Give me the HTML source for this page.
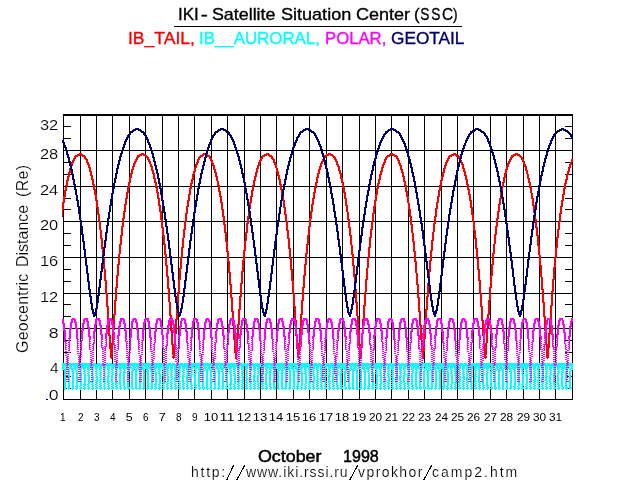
<!DOCTYPE html>
<html><head><meta charset="utf-8"><style>
html,body{margin:0;padding:0;background:#fff;width:636px;height:500px;overflow:hidden}
body{position:relative;font-family:"Liberation Sans",sans-serif}
</style></head><body>
<svg width="636" height="500" viewBox="0 0 636 500" style="position:absolute;left:0;top:0">
<path d="M80 114h1v286h-1zM96 114h1v286h-1zM112 114h1v286h-1zM129 114h1v286h-1zM145 114h1v286h-1zM162 114h1v286h-1zM178 114h1v286h-1zM194 114h1v286h-1zM211 114h1v286h-1zM227 114h1v286h-1zM244 114h1v286h-1zM260 114h1v286h-1zM276 114h1v286h-1zM293 114h1v286h-1zM309 114h1v286h-1zM326 114h1v286h-1zM342 114h1v286h-1zM359 114h1v286h-1zM375 114h1v286h-1zM391 114h1v286h-1zM408 114h1v286h-1zM424 114h1v286h-1zM441 114h1v286h-1zM457 114h1v286h-1zM473 114h1v286h-1zM490 114h1v286h-1zM506 114h1v286h-1zM523 114h1v286h-1zM539 114h1v286h-1zM555 114h1v286h-1zM63 150h510v1h-510zM63 186h510v1h-510zM63 221h510v1h-510zM63 257h510v1h-510zM63 293h510v1h-510zM63 328h510v1h-510zM63 364h510v1h-510zM63 126h8v1h-8zM565 126h8v1h-8zM63 138h8v1h-8zM565 138h8v1h-8zM63 162h8v1h-8zM565 162h8v1h-8zM63 174h8v1h-8zM565 174h8v1h-8zM63 198h8v1h-8zM565 198h8v1h-8zM63 209h8v1h-8zM565 209h8v1h-8zM63 233h8v1h-8zM565 233h8v1h-8zM63 245h8v1h-8zM565 245h8v1h-8zM63 269h8v1h-8zM565 269h8v1h-8zM63 281h8v1h-8zM565 281h8v1h-8zM63 304h8v1h-8zM565 304h8v1h-8zM63 316h8v1h-8zM565 316h8v1h-8zM63 340h8v1h-8zM565 340h8v1h-8zM63 352h8v1h-8zM565 352h8v1h-8zM63 376h8v1h-8zM565 376h8v1h-8zM63 388h8v1h-8zM565 388h8v1h-8zM63 114h510v2h-510zM63 399h510v1h-510zM63 114h1v286h-1zM572 114h1v286h-1zM174 26h288v1h-288z" fill="#000" shape-rendering="crispEdges"/>
<path d="M79 153h3v1h-3zM141 153h3v1h-3zM203 153h2v1h-2zM266 153h3v1h-3zM328 153h3v1h-3zM390 153h3v1h-3zM453 153h3v1h-3zM515 153h3v1h-3zM77 154h6v1h-6zM139 154h7v1h-7zM202 154h3v1h-3zM207 154h1v1h-1zM264 154h6v1h-6zM326 154h7v1h-7zM389 154h6v1h-6zM451 154h6v1h-6zM513 154h7v1h-7zM75 155h5v1h-5zM81 155h4v1h-4zM137 155h5v1h-5zM143 155h4v1h-4zM200 155h4v1h-4zM207 155h3v1h-3zM262 155h5v1h-5zM268 155h4v1h-4zM324 155h5v1h-5zM330 155h4v1h-4zM387 155h4v1h-4zM392 155h5v1h-5zM449 155h5v1h-5zM455 155h4v1h-4zM511 155h5v1h-5zM517 155h4v1h-4zM74 156h4v1h-4zM82 156h4v1h-4zM137 156h3v1h-3zM145 156h3v1h-3zM199 156h4v1h-4zM207 156h4v1h-4zM261 156h4v1h-4zM269 156h4v1h-4zM325 156h2v1h-2zM332 156h3v1h-3zM386 156h4v1h-4zM394 156h4v1h-4zM448 156h4v1h-4zM456 156h4v1h-4zM511 156h3v1h-3zM519 156h3v1h-3zM74 157h2v1h-2zM84 157h2v1h-2zM136 157h3v1h-3zM146 157h3v1h-3zM198 157h3v1h-3zM209 157h2v1h-2zM261 157h2v1h-2zM271 157h2v1h-2zM325 157h1v1h-1zM333 157h3v1h-3zM385 157h3v1h-3zM396 157h2v1h-2zM448 157h2v1h-2zM458 157h2v1h-2zM510 157h3v1h-3zM520 157h3v1h-3zM73 158h3v1h-3zM84 158h3v1h-3zM136 158h2v1h-2zM147 158h2v1h-2zM198 158h2v1h-2zM209 158h3v1h-3zM260 158h3v1h-3zM271 158h3v1h-3zM334 158h2v1h-2zM385 158h2v1h-2zM396 158h3v1h-3zM447 158h3v1h-3zM458 158h1v1h-1zM510 158h2v1h-2zM521 158h2v1h-2zM73 159h2v1h-2zM85 159h3v1h-3zM135 159h3v1h-3zM147 159h3v1h-3zM197 159h3v1h-3zM210 159h2v1h-2zM260 159h2v1h-2zM272 159h3v1h-3zM322 159h1v1h-1zM334 159h3v1h-3zM384 159h3v1h-3zM397 159h2v1h-2zM447 159h2v1h-2zM509 159h3v1h-3zM521 159h3v1h-3zM571 159h2v1h-2zM72 160h3v1h-3zM86 160h2v1h-2zM135 160h2v1h-2zM148 160h2v1h-2zM197 160h2v1h-2zM210 160h3v1h-3zM259 160h3v1h-3zM273 160h2v1h-2zM322 160h1v1h-1zM335 160h2v1h-2zM384 160h2v1h-2zM397 160h3v1h-3zM446 160h3v1h-3zM461 160h1v1h-1zM509 160h2v1h-2zM522 160h2v1h-2zM571 160h2v1h-2zM72 161h2v1h-2zM86 161h2v1h-2zM134 161h3v1h-3zM148 161h3v1h-3zM197 161h2v1h-2zM211 161h2v1h-2zM259 161h2v1h-2zM273 161h2v1h-2zM321 161h3v1h-3zM335 161h3v1h-3zM384 161h2v1h-2zM398 161h2v1h-2zM446 161h2v1h-2zM461 161h1v1h-1zM508 161h3v1h-3zM522 161h3v1h-3zM571 161h2v1h-2zM71 162h3v1h-3zM86 162h3v1h-3zM134 162h2v1h-2zM149 162h2v1h-2zM196 162h3v1h-3zM211 162h2v1h-2zM258 162h3v1h-3zM273 162h3v1h-3zM321 162h2v1h-2zM336 162h2v1h-2zM383 162h3v1h-3zM398 162h2v1h-2zM445 162h3v1h-3zM461 162h2v1h-2zM508 162h2v1h-2zM523 162h2v1h-2zM570 162h2v1h-2zM71 163h2v1h-2zM87 163h2v1h-2zM133 163h3v1h-3zM149 163h2v1h-2zM196 163h2v1h-2zM211 163h3v1h-3zM258 163h2v1h-2zM274 163h2v1h-2zM320 163h3v1h-3zM336 163h2v1h-2zM383 163h2v1h-2zM398 163h3v1h-3zM445 163h2v1h-2zM461 163h2v1h-2zM507 163h3v1h-3zM523 163h2v1h-2zM570 163h2v1h-2zM71 164h2v1h-2zM87 164h3v1h-3zM133 164h2v1h-2zM150 164h2v1h-2zM195 164h3v1h-3zM212 164h2v1h-2zM258 164h2v1h-2zM274 164h3v1h-3zM320 164h2v1h-2zM336 164h3v1h-3zM382 164h3v1h-3zM399 164h2v1h-2zM445 164h2v1h-2zM461 164h3v1h-3zM507 164h2v1h-2zM523 164h3v1h-3zM569 164h3v1h-3zM72 165h1v1h-1zM88 165h2v1h-2zM133 165h2v1h-2zM150 165h2v1h-2zM195 165h2v1h-2zM212 165h3v1h-3zM257 165h3v1h-3zM275 165h2v1h-2zM320 165h2v1h-2zM337 165h2v1h-2zM382 165h2v1h-2zM399 165h3v1h-3zM444 165h3v1h-3zM462 165h2v1h-2zM507 165h2v1h-2zM524 165h2v1h-2zM569 165h2v1h-2zM88 166h2v1h-2zM132 166h3v1h-3zM150 166h3v1h-3zM195 166h2v1h-2zM213 166h2v1h-2zM257 166h2v1h-2zM275 166h2v1h-2zM319 166h3v1h-3zM337 166h3v1h-3zM382 166h2v1h-2zM400 166h2v1h-2zM444 166h2v1h-2zM462 166h2v1h-2zM506 166h3v1h-3zM524 166h3v1h-3zM569 166h2v1h-2zM88 167h3v1h-3zM132 167h2v1h-2zM151 167h2v1h-2zM194 167h3v1h-3zM213 167h2v1h-2zM257 167h2v1h-2zM275 167h2v1h-2zM319 167h2v1h-2zM338 167h2v1h-2zM381 167h3v1h-3zM400 167h2v1h-2zM444 167h2v1h-2zM462 167h2v1h-2zM506 167h2v1h-2zM525 167h2v1h-2zM568 167h3v1h-3zM69 168h1v1h-1zM89 168h2v1h-2zM132 168h2v1h-2zM151 168h2v1h-2zM194 168h2v1h-2zM213 168h2v1h-2zM256 168h3v1h-3zM276 168h2v1h-2zM319 168h2v1h-2zM338 168h2v1h-2zM381 168h2v1h-2zM400 168h2v1h-2zM443 168h3v1h-3zM462 168h3v1h-3zM506 168h2v1h-2zM525 168h2v1h-2zM568 168h2v1h-2zM69 169h1v1h-1zM89 169h2v1h-2zM131 169h3v1h-3zM151 169h2v1h-2zM194 169h2v1h-2zM213 169h3v1h-3zM256 169h2v1h-2zM276 169h2v1h-2zM318 169h3v1h-3zM338 169h2v1h-2zM381 169h2v1h-2zM400 169h3v1h-3zM443 169h2v1h-2zM463 169h2v1h-2zM505 169h3v1h-3zM525 169h2v1h-2zM568 169h2v1h-2zM69 170h2v1h-2zM89 170h2v1h-2zM131 170h2v1h-2zM151 170h3v1h-3zM194 170h2v1h-2zM214 170h2v1h-2zM256 170h2v1h-2zM276 170h2v1h-2zM318 170h2v1h-2zM338 170h3v1h-3zM381 170h2v1h-2zM401 170h2v1h-2zM443 170h2v1h-2zM463 170h2v1h-2zM505 170h2v1h-2zM525 170h3v1h-3zM568 170h2v1h-2zM69 171h2v1h-2zM89 171h3v1h-3zM131 171h2v1h-2zM152 171h2v1h-2zM193 171h3v1h-3zM214 171h2v1h-2zM256 171h2v1h-2zM276 171h3v1h-3zM318 171h2v1h-2zM339 171h2v1h-2zM380 171h3v1h-3zM401 171h2v1h-2zM443 171h2v1h-2zM463 171h3v1h-3zM505 171h2v1h-2zM526 171h2v1h-2zM567 171h3v1h-3zM68 172h3v1h-3zM90 172h2v1h-2zM131 172h2v1h-2zM152 172h2v1h-2zM193 172h2v1h-2zM214 172h3v1h-3zM255 172h3v1h-3zM277 172h2v1h-2zM318 172h2v1h-2zM339 172h2v1h-2zM380 172h2v1h-2zM401 172h3v1h-3zM442 172h3v1h-3zM464 172h2v1h-2zM505 172h2v1h-2zM526 172h2v1h-2zM567 172h2v1h-2zM68 173h2v1h-2zM90 173h2v1h-2zM130 173h3v1h-3zM152 173h3v1h-3zM193 173h2v1h-2zM215 173h2v1h-2zM255 173h2v1h-2zM277 173h2v1h-2zM317 173h3v1h-3zM339 173h3v1h-3zM380 173h2v1h-2zM402 173h2v1h-2zM442 173h2v1h-2zM464 173h2v1h-2zM504 173h3v1h-3zM526 173h2v1h-2zM567 173h2v1h-2zM68 174h2v1h-2zM90 174h2v1h-2zM130 174h2v1h-2zM153 174h2v1h-2zM192 174h3v1h-3zM215 174h2v1h-2zM255 174h2v1h-2zM277 174h2v1h-2zM317 174h2v1h-2zM340 174h2v1h-2zM379 174h3v1h-3zM402 174h2v1h-2zM442 174h2v1h-2zM464 174h2v1h-2zM504 174h2v1h-2zM527 174h2v1h-2zM566 174h3v1h-3zM68 175h2v1h-2zM90 175h3v1h-3zM130 175h2v1h-2zM153 175h2v1h-2zM192 175h2v1h-2zM215 175h2v1h-2zM255 175h2v1h-2zM277 175h3v1h-3zM317 175h2v1h-2zM340 175h2v1h-2zM379 175h2v1h-2zM402 175h2v1h-2zM442 175h2v1h-2zM464 175h3v1h-3zM504 175h2v1h-2zM527 175h2v1h-2zM566 175h2v1h-2zM67 176h3v1h-3zM91 176h2v1h-2zM130 176h2v1h-2zM153 176h2v1h-2zM192 176h2v1h-2zM215 176h3v1h-3zM254 176h3v1h-3zM278 176h2v1h-2zM317 176h2v1h-2zM340 176h2v1h-2zM379 176h2v1h-2zM402 176h3v1h-3zM441 176h3v1h-3zM465 176h2v1h-2zM504 176h2v1h-2zM527 176h2v1h-2zM566 176h2v1h-2zM67 177h2v1h-2zM91 177h2v1h-2zM129 177h3v1h-3zM153 177h2v1h-2zM192 177h2v1h-2zM216 177h2v1h-2zM254 177h2v1h-2zM278 177h2v1h-2zM316 177h3v1h-3zM340 177h2v1h-2zM379 177h2v1h-2zM403 177h2v1h-2zM441 177h2v1h-2zM465 177h2v1h-2zM503 177h3v1h-3zM527 177h2v1h-2zM566 177h2v1h-2zM67 178h2v1h-2zM91 178h2v1h-2zM129 178h2v1h-2zM153 178h3v1h-3zM192 178h2v1h-2zM216 178h2v1h-2zM254 178h2v1h-2zM278 178h2v1h-2zM316 178h2v1h-2zM340 178h3v1h-3zM379 178h2v1h-2zM403 178h2v1h-2zM441 178h2v1h-2zM465 178h2v1h-2zM503 178h2v1h-2zM527 178h3v1h-3zM566 178h2v1h-2zM67 179h2v1h-2zM91 179h3v1h-3zM129 179h2v1h-2zM154 179h2v1h-2zM191 179h3v1h-3zM216 179h2v1h-2zM254 179h2v1h-2zM278 179h3v1h-3zM316 179h2v1h-2zM341 179h2v1h-2zM378 179h3v1h-3zM403 179h2v1h-2zM441 179h2v1h-2zM465 179h3v1h-3zM503 179h2v1h-2zM528 179h2v1h-2zM565 179h3v1h-3zM66 180h3v1h-3zM92 180h2v1h-2zM129 180h2v1h-2zM154 180h2v1h-2zM191 180h2v1h-2zM216 180h2v1h-2zM253 180h3v1h-3zM279 180h2v1h-2zM316 180h2v1h-2zM341 180h2v1h-2zM378 180h2v1h-2zM403 180h2v1h-2zM440 180h3v1h-3zM466 180h2v1h-2zM503 180h2v1h-2zM528 180h2v1h-2zM565 180h2v1h-2zM66 181h2v1h-2zM92 181h2v1h-2zM129 181h2v1h-2zM154 181h2v1h-2zM191 181h2v1h-2zM217 181h2v1h-2zM253 181h2v1h-2zM279 181h2v1h-2zM316 181h2v1h-2zM341 181h2v1h-2zM378 181h2v1h-2zM403 181h3v1h-3zM440 181h2v1h-2zM466 181h2v1h-2zM503 181h2v1h-2zM528 181h2v1h-2zM565 181h2v1h-2zM66 182h2v1h-2zM92 182h2v1h-2zM128 182h3v1h-3zM154 182h3v1h-3zM191 182h2v1h-2zM217 182h2v1h-2zM253 182h2v1h-2zM279 182h2v1h-2zM315 182h3v1h-3zM341 182h3v1h-3zM378 182h2v1h-2zM404 182h2v1h-2zM440 182h2v1h-2zM466 182h2v1h-2zM502 182h3v1h-3zM528 182h3v1h-3zM565 182h2v1h-2zM66 183h2v1h-2zM92 183h2v1h-2zM128 183h2v1h-2zM155 183h2v1h-2zM190 183h3v1h-3zM217 183h2v1h-2zM253 183h2v1h-2zM279 183h2v1h-2zM315 183h2v1h-2zM342 183h2v1h-2zM377 183h3v1h-3zM404 183h2v1h-2zM440 183h2v1h-2zM466 183h2v1h-2zM502 183h2v1h-2zM529 183h2v1h-2zM564 183h3v1h-3zM66 184h2v1h-2zM92 184h3v1h-3zM128 184h2v1h-2zM155 184h2v1h-2zM190 184h2v1h-2zM217 184h2v1h-2zM253 184h2v1h-2zM279 184h3v1h-3zM315 184h2v1h-2zM342 184h2v1h-2zM377 184h2v1h-2zM404 184h2v1h-2zM440 184h2v1h-2zM466 184h3v1h-3zM502 184h2v1h-2zM529 184h2v1h-2zM564 184h2v1h-2zM65 185h3v1h-3zM93 185h2v1h-2zM128 185h2v1h-2zM155 185h2v1h-2zM190 185h2v1h-2zM217 185h3v1h-3zM252 185h3v1h-3zM280 185h2v1h-2zM315 185h2v1h-2zM342 185h2v1h-2zM377 185h2v1h-2zM404 185h3v1h-3zM439 185h3v1h-3zM467 185h2v1h-2zM502 185h2v1h-2zM529 185h2v1h-2zM564 185h2v1h-2zM65 186h2v1h-2zM93 186h2v1h-2zM128 186h2v1h-2zM155 186h2v1h-2zM190 186h2v1h-2zM218 186h2v1h-2zM252 186h2v1h-2zM280 186h2v1h-2zM315 186h2v1h-2zM342 186h2v1h-2zM377 186h2v1h-2zM405 186h2v1h-2zM439 186h2v1h-2zM467 186h2v1h-2zM502 186h2v1h-2zM529 186h2v1h-2zM564 186h2v1h-2zM65 187h2v1h-2zM93 187h2v1h-2zM127 187h3v1h-3zM155 187h3v1h-3zM190 187h2v1h-2zM218 187h2v1h-2zM252 187h2v1h-2zM280 187h2v1h-2zM314 187h3v1h-3zM342 187h3v1h-3zM377 187h2v1h-2zM405 187h2v1h-2zM439 187h2v1h-2zM467 187h2v1h-2zM502 187h1v1h-1zM529 187h3v1h-3zM564 187h2v1h-2zM65 188h2v1h-2zM93 188h2v1h-2zM127 188h2v1h-2zM156 188h2v1h-2zM189 188h3v1h-3zM218 188h2v1h-2zM252 188h2v1h-2zM280 188h2v1h-2zM314 188h2v1h-2zM343 188h2v1h-2zM376 188h3v1h-3zM405 188h2v1h-2zM439 188h2v1h-2zM467 188h2v1h-2zM502 188h1v1h-1zM530 188h2v1h-2zM563 188h3v1h-3zM65 189h2v1h-2zM93 189h3v1h-3zM127 189h2v1h-2zM156 189h2v1h-2zM189 189h2v1h-2zM218 189h2v1h-2zM252 189h2v1h-2zM280 189h2v1h-2zM314 189h2v1h-2zM343 189h2v1h-2zM376 189h2v1h-2zM405 189h2v1h-2zM439 189h2v1h-2zM467 189h3v1h-3zM502 189h1v1h-1zM530 189h2v1h-2zM563 189h2v1h-2zM64 190h3v1h-3zM94 190h2v1h-2zM127 190h2v1h-2zM156 190h2v1h-2zM189 190h2v1h-2zM218 190h2v1h-2zM251 190h3v1h-3zM281 190h1v1h-1zM314 190h2v1h-2zM343 190h2v1h-2zM376 190h2v1h-2zM405 190h2v1h-2zM438 190h3v1h-3zM468 190h2v1h-2zM502 190h1v1h-1zM530 190h2v1h-2zM563 190h2v1h-2zM64 191h2v1h-2zM94 191h2v1h-2zM127 191h2v1h-2zM156 191h2v1h-2zM189 191h2v1h-2zM218 191h3v1h-3zM251 191h2v1h-2zM281 191h1v1h-1zM314 191h2v1h-2zM343 191h2v1h-2zM376 191h2v1h-2zM405 191h3v1h-3zM438 191h2v1h-2zM468 191h2v1h-2zM530 191h2v1h-2zM563 191h2v1h-2zM64 192h2v1h-2zM94 192h2v1h-2zM126 192h3v1h-3zM156 192h3v1h-3zM189 192h2v1h-2zM219 192h2v1h-2zM251 192h2v1h-2zM281 192h1v1h-1zM313 192h3v1h-3zM343 192h3v1h-3zM376 192h2v1h-2zM406 192h2v1h-2zM438 192h2v1h-2zM468 192h2v1h-2zM500 192h1v1h-1zM530 192h2v1h-2zM563 192h2v1h-2zM64 193h2v1h-2zM94 193h2v1h-2zM126 193h2v1h-2zM157 193h2v1h-2zM189 193h2v1h-2zM219 193h2v1h-2zM251 193h2v1h-2zM281 193h1v1h-1zM313 193h2v1h-2zM344 193h2v1h-2zM376 193h2v1h-2zM406 193h2v1h-2zM438 193h2v1h-2zM468 193h2v1h-2zM500 193h1v1h-1zM531 193h2v1h-2zM563 193h2v1h-2zM64 194h2v1h-2zM94 194h3v1h-3zM126 194h2v1h-2zM157 194h2v1h-2zM188 194h3v1h-3zM219 194h2v1h-2zM251 194h2v1h-2zM281 194h1v1h-1zM313 194h2v1h-2zM344 194h2v1h-2zM375 194h3v1h-3zM406 194h2v1h-2zM438 194h2v1h-2zM468 194h3v1h-3zM500 194h1v1h-1zM531 194h2v1h-2zM562 194h3v1h-3zM64 195h2v1h-2zM95 195h2v1h-2zM126 195h2v1h-2zM157 195h2v1h-2zM188 195h2v1h-2zM219 195h2v1h-2zM251 195h2v1h-2zM313 195h2v1h-2zM344 195h2v1h-2zM375 195h2v1h-2zM406 195h2v1h-2zM438 195h2v1h-2zM469 195h2v1h-2zM500 195h1v1h-1zM531 195h2v1h-2zM562 195h2v1h-2zM63 196h3v1h-3zM95 196h2v1h-2zM126 196h2v1h-2zM157 196h2v1h-2zM188 196h2v1h-2zM219 196h3v1h-3zM250 196h3v1h-3zM283 196h1v1h-1zM313 196h2v1h-2zM344 196h2v1h-2zM375 196h2v1h-2zM406 196h3v1h-3zM437 196h3v1h-3zM469 196h2v1h-2zM500 196h1v1h-1zM531 196h2v1h-2zM562 196h2v1h-2zM63 197h2v1h-2zM95 197h2v1h-2zM126 197h2v1h-2zM157 197h2v1h-2zM188 197h2v1h-2zM220 197h2v1h-2zM250 197h2v1h-2zM283 197h1v1h-1zM313 197h2v1h-2zM344 197h2v1h-2zM375 197h2v1h-2zM407 197h2v1h-2zM437 197h2v1h-2zM469 197h2v1h-2zM500 197h1v1h-1zM531 197h2v1h-2zM562 197h2v1h-2zM63 198h2v1h-2zM95 198h2v1h-2zM125 198h3v1h-3zM157 198h3v1h-3zM188 198h2v1h-2zM220 198h2v1h-2zM250 198h2v1h-2zM283 198h1v1h-1zM312 198h3v1h-3zM344 198h3v1h-3zM375 198h2v1h-2zM407 198h2v1h-2zM437 198h2v1h-2zM469 198h2v1h-2zM499 198h3v1h-3zM531 198h3v1h-3zM562 198h2v1h-2zM63 199h2v1h-2zM95 199h2v1h-2zM125 199h2v1h-2zM158 199h2v1h-2zM188 199h2v1h-2zM220 199h2v1h-2zM250 199h2v1h-2zM283 199h1v1h-1zM312 199h2v1h-2zM345 199h2v1h-2zM375 199h2v1h-2zM407 199h2v1h-2zM437 199h2v1h-2zM469 199h2v1h-2zM499 199h2v1h-2zM532 199h2v1h-2zM562 199h2v1h-2zM63 200h2v1h-2zM95 200h3v1h-3zM125 200h2v1h-2zM158 200h2v1h-2zM187 200h3v1h-3zM220 200h2v1h-2zM250 200h2v1h-2zM283 200h2v1h-2zM312 200h2v1h-2zM345 200h2v1h-2zM374 200h3v1h-3zM407 200h2v1h-2zM437 200h2v1h-2zM469 200h3v1h-3zM499 200h2v1h-2zM532 200h2v1h-2zM561 200h3v1h-3zM63 201h2v1h-2zM96 201h2v1h-2zM125 201h2v1h-2zM158 201h2v1h-2zM187 201h2v1h-2zM220 201h2v1h-2zM250 201h2v1h-2zM283 201h2v1h-2zM312 201h2v1h-2zM345 201h2v1h-2zM374 201h2v1h-2zM407 201h2v1h-2zM437 201h2v1h-2zM470 201h2v1h-2zM499 201h2v1h-2zM532 201h2v1h-2zM561 201h2v1h-2zM62 202h3v1h-3zM96 202h2v1h-2zM125 202h2v1h-2zM158 202h2v1h-2zM187 202h2v1h-2zM220 202h3v1h-3zM249 202h3v1h-3zM283 202h2v1h-2zM312 202h2v1h-2zM345 202h2v1h-2zM374 202h2v1h-2zM407 202h2v1h-2zM436 202h3v1h-3zM470 202h2v1h-2zM499 202h2v1h-2zM532 202h2v1h-2zM561 202h2v1h-2zM62 203h2v1h-2zM96 203h2v1h-2zM125 203h2v1h-2zM158 203h2v1h-2zM187 203h2v1h-2zM221 203h2v1h-2zM249 203h2v1h-2zM283 203h2v1h-2zM312 203h2v1h-2zM345 203h2v1h-2zM374 203h2v1h-2zM408 203h2v1h-2zM436 203h2v1h-2zM470 203h2v1h-2zM499 203h2v1h-2zM532 203h2v1h-2zM561 203h2v1h-2zM62 204h2v1h-2zM96 204h2v1h-2zM124 204h3v1h-3zM158 204h2v1h-2zM187 204h2v1h-2zM221 204h2v1h-2zM249 204h2v1h-2zM283 204h2v1h-2zM311 204h3v1h-3zM345 204h2v1h-2zM374 204h2v1h-2zM408 204h2v1h-2zM436 204h2v1h-2zM470 204h2v1h-2zM498 204h3v1h-3zM532 204h2v1h-2zM561 204h2v1h-2zM62 205h2v1h-2zM96 205h2v1h-2zM124 205h2v1h-2zM158 205h3v1h-3zM187 205h2v1h-2zM221 205h2v1h-2zM250 205h1v1h-1zM283 205h2v1h-2zM311 205h2v1h-2zM345 205h3v1h-3zM374 205h2v1h-2zM408 205h2v1h-2zM436 205h2v1h-2zM470 205h2v1h-2zM498 205h2v1h-2zM532 205h3v1h-3zM561 205h2v1h-2zM62 206h2v1h-2zM96 206h2v1h-2zM124 206h2v1h-2zM159 206h2v1h-2zM186 206h3v1h-3zM221 206h2v1h-2zM250 206h1v1h-1zM283 206h2v1h-2zM311 206h2v1h-2zM346 206h2v1h-2zM373 206h3v1h-3zM408 206h2v1h-2zM436 206h2v1h-2zM470 206h2v1h-2zM498 206h2v1h-2zM533 206h2v1h-2zM560 206h3v1h-3zM62 207h2v1h-2zM96 207h3v1h-3zM124 207h2v1h-2zM159 207h2v1h-2zM186 207h2v1h-2zM221 207h2v1h-2zM250 207h1v1h-1zM283 207h3v1h-3zM311 207h2v1h-2zM346 207h2v1h-2zM373 207h2v1h-2zM408 207h2v1h-2zM436 207h2v1h-2zM470 207h3v1h-3zM498 207h2v1h-2zM533 207h2v1h-2zM560 207h2v1h-2zM62 208h2v1h-2zM97 208h2v1h-2zM124 208h2v1h-2zM159 208h2v1h-2zM186 208h2v1h-2zM221 208h2v1h-2zM250 208h1v1h-1zM284 208h2v1h-2zM311 208h2v1h-2zM346 208h2v1h-2zM373 208h2v1h-2zM408 208h2v1h-2zM435 208h3v1h-3zM471 208h2v1h-2zM498 208h2v1h-2zM533 208h2v1h-2zM560 208h2v1h-2zM62 209h2v1h-2zM97 209h2v1h-2zM124 209h2v1h-2zM159 209h2v1h-2zM186 209h2v1h-2zM221 209h3v1h-3zM284 209h2v1h-2zM311 209h2v1h-2zM346 209h2v1h-2zM373 209h2v1h-2zM408 209h3v1h-3zM435 209h2v1h-2zM471 209h2v1h-2zM498 209h2v1h-2zM533 209h1v1h-1zM560 209h2v1h-2zM62 210h1v1h-1zM97 210h2v1h-2zM124 210h2v1h-2zM159 210h2v1h-2zM186 210h2v1h-2zM222 210h2v1h-2zM284 210h2v1h-2zM311 210h2v1h-2zM346 210h2v1h-2zM373 210h2v1h-2zM409 210h2v1h-2zM435 210h2v1h-2zM471 210h2v1h-2zM498 210h2v1h-2zM533 210h1v1h-1zM560 210h2v1h-2zM62 211h1v1h-1zM97 211h2v1h-2zM123 211h3v1h-3zM159 211h3v1h-3zM186 211h2v1h-2zM222 211h2v1h-2zM284 211h2v1h-2zM310 211h3v1h-3zM346 211h2v1h-2zM373 211h2v1h-2zM409 211h2v1h-2zM435 211h2v1h-2zM471 211h2v1h-2zM497 211h3v1h-3zM533 211h1v1h-1zM560 211h2v1h-2zM62 212h1v1h-1zM97 212h2v1h-2zM123 212h2v1h-2zM160 212h2v1h-2zM186 212h2v1h-2zM222 212h2v1h-2zM248 212h1v1h-1zM284 212h2v1h-2zM310 212h2v1h-2zM347 212h2v1h-2zM373 212h2v1h-2zM409 212h2v1h-2zM435 212h2v1h-2zM471 212h2v1h-2zM497 212h2v1h-2zM533 212h1v1h-1zM560 212h2v1h-2zM62 213h1v1h-1zM97 213h2v1h-2zM123 213h2v1h-2zM160 213h2v1h-2zM185 213h3v1h-3zM222 213h2v1h-2zM248 213h1v1h-1zM284 213h2v1h-2zM310 213h2v1h-2zM347 213h2v1h-2zM372 213h3v1h-3zM409 213h2v1h-2zM435 213h2v1h-2zM471 213h2v1h-2zM497 213h2v1h-2zM559 213h3v1h-3zM62 214h1v1h-1zM97 214h3v1h-3zM123 214h2v1h-2zM160 214h2v1h-2zM185 214h2v1h-2zM222 214h2v1h-2zM248 214h1v1h-1zM284 214h3v1h-3zM310 214h2v1h-2zM347 214h2v1h-2zM372 214h2v1h-2zM409 214h2v1h-2zM435 214h2v1h-2zM471 214h3v1h-3zM497 214h2v1h-2zM559 214h2v1h-2zM62 215h1v1h-1zM98 215h2v1h-2zM123 215h2v1h-2zM160 215h2v1h-2zM185 215h2v1h-2zM222 215h2v1h-2zM248 215h1v1h-1zM285 215h2v1h-2zM310 215h2v1h-2zM347 215h2v1h-2zM372 215h2v1h-2zM409 215h2v1h-2zM435 215h2v1h-2zM472 215h2v1h-2zM497 215h2v1h-2zM559 215h2v1h-2zM62 216h1v1h-1zM98 216h2v1h-2zM123 216h2v1h-2zM160 216h2v1h-2zM185 216h2v1h-2zM222 216h3v1h-3zM247 216h2v1h-2zM285 216h2v1h-2zM310 216h2v1h-2zM347 216h2v1h-2zM372 216h2v1h-2zM409 216h3v1h-3zM434 216h3v1h-3zM472 216h2v1h-2zM497 216h2v1h-2zM535 216h1v1h-1zM559 216h2v1h-2zM98 217h2v1h-2zM123 217h2v1h-2zM160 217h2v1h-2zM185 217h2v1h-2zM223 217h2v1h-2zM247 217h2v1h-2zM285 217h2v1h-2zM310 217h2v1h-2zM347 217h2v1h-2zM372 217h2v1h-2zM410 217h2v1h-2zM434 217h2v1h-2zM472 217h2v1h-2zM497 217h2v1h-2zM535 217h1v1h-1zM559 217h2v1h-2zM98 218h2v1h-2zM122 218h3v1h-3zM160 218h2v1h-2zM185 218h2v1h-2zM223 218h2v1h-2zM247 218h2v1h-2zM285 218h2v1h-2zM309 218h3v1h-3zM347 218h2v1h-2zM372 218h2v1h-2zM410 218h2v1h-2zM434 218h2v1h-2zM472 218h2v1h-2zM496 218h3v1h-3zM535 218h1v1h-1zM559 218h2v1h-2zM98 219h2v1h-2zM122 219h2v1h-2zM160 219h3v1h-3zM185 219h2v1h-2zM223 219h2v1h-2zM247 219h2v1h-2zM285 219h2v1h-2zM309 219h2v1h-2zM347 219h3v1h-3zM372 219h2v1h-2zM410 219h2v1h-2zM434 219h2v1h-2zM472 219h2v1h-2zM496 219h2v1h-2zM535 219h2v1h-2zM559 219h2v1h-2zM98 220h2v1h-2zM122 220h2v1h-2zM161 220h2v1h-2zM185 220h2v1h-2zM223 220h2v1h-2zM247 220h2v1h-2zM285 220h2v1h-2zM309 220h2v1h-2zM348 220h2v1h-2zM372 220h2v1h-2zM410 220h2v1h-2zM434 220h2v1h-2zM472 220h2v1h-2zM496 220h2v1h-2zM535 220h2v1h-2zM559 220h2v1h-2zM98 221h3v1h-3zM122 221h2v1h-2zM161 221h2v1h-2zM184 221h3v1h-3zM223 221h2v1h-2zM247 221h2v1h-2zM285 221h3v1h-3zM309 221h2v1h-2zM348 221h2v1h-2zM371 221h3v1h-3zM410 221h2v1h-2zM434 221h2v1h-2zM472 221h2v1h-2zM496 221h2v1h-2zM535 221h2v1h-2zM558 221h3v1h-3zM99 222h2v1h-2zM122 222h2v1h-2zM161 222h2v1h-2zM184 222h2v1h-2zM223 222h2v1h-2zM247 222h2v1h-2zM286 222h2v1h-2zM309 222h2v1h-2zM348 222h2v1h-2zM371 222h2v1h-2zM410 222h2v1h-2zM434 222h2v1h-2zM473 222h2v1h-2zM496 222h2v1h-2zM535 222h2v1h-2zM558 222h2v1h-2zM99 223h2v1h-2zM122 223h2v1h-2zM161 223h2v1h-2zM184 223h2v1h-2zM223 223h2v1h-2zM246 223h3v1h-3zM286 223h2v1h-2zM309 223h2v1h-2zM348 223h2v1h-2zM371 223h2v1h-2zM410 223h2v1h-2zM433 223h3v1h-3zM473 223h2v1h-2zM496 223h2v1h-2zM535 223h2v1h-2zM558 223h2v1h-2zM99 224h2v1h-2zM122 224h2v1h-2zM161 224h2v1h-2zM184 224h2v1h-2zM223 224h3v1h-3zM246 224h2v1h-2zM286 224h2v1h-2zM309 224h2v1h-2zM348 224h2v1h-2zM371 224h2v1h-2zM410 224h3v1h-3zM433 224h2v1h-2zM473 224h2v1h-2zM496 224h2v1h-2zM535 224h2v1h-2zM558 224h2v1h-2zM99 225h2v1h-2zM122 225h2v1h-2zM161 225h2v1h-2zM184 225h2v1h-2zM224 225h2v1h-2zM246 225h2v1h-2zM286 225h2v1h-2zM309 225h2v1h-2zM348 225h2v1h-2zM371 225h2v1h-2zM411 225h2v1h-2zM433 225h2v1h-2zM473 225h2v1h-2zM496 225h2v1h-2zM535 225h2v1h-2zM558 225h2v1h-2zM99 226h2v1h-2zM121 226h3v1h-3zM161 226h2v1h-2zM184 226h2v1h-2zM224 226h2v1h-2zM246 226h2v1h-2zM286 226h2v1h-2zM308 226h3v1h-3zM348 226h2v1h-2zM371 226h2v1h-2zM411 226h2v1h-2zM433 226h2v1h-2zM473 226h2v1h-2zM495 226h3v1h-3zM535 226h2v1h-2zM558 226h2v1h-2zM99 227h2v1h-2zM121 227h2v1h-2zM161 227h3v1h-3zM184 227h2v1h-2zM224 227h2v1h-2zM246 227h2v1h-2zM286 227h2v1h-2zM308 227h2v1h-2zM348 227h3v1h-3zM371 227h2v1h-2zM411 227h2v1h-2zM433 227h2v1h-2zM473 227h2v1h-2zM495 227h2v1h-2zM535 227h3v1h-3zM558 227h2v1h-2zM99 228h2v1h-2zM121 228h2v1h-2zM162 228h2v1h-2zM184 228h2v1h-2zM224 228h2v1h-2zM246 228h2v1h-2zM286 228h2v1h-2zM308 228h2v1h-2zM349 228h2v1h-2zM371 228h2v1h-2zM411 228h2v1h-2zM433 228h2v1h-2zM473 228h2v1h-2zM495 228h2v1h-2zM536 228h2v1h-2zM558 228h2v1h-2zM99 229h2v1h-2zM121 229h2v1h-2zM162 229h2v1h-2zM183 229h3v1h-3zM224 229h2v1h-2zM246 229h2v1h-2zM286 229h2v1h-2zM308 229h2v1h-2zM349 229h2v1h-2zM370 229h3v1h-3zM411 229h2v1h-2zM433 229h2v1h-2zM473 229h2v1h-2zM495 229h2v1h-2zM536 229h2v1h-2zM557 229h3v1h-3zM100 230h2v1h-2zM121 230h2v1h-2zM162 230h2v1h-2zM183 230h2v1h-2zM224 230h2v1h-2zM246 230h2v1h-2zM286 230h3v1h-3zM308 230h2v1h-2zM349 230h2v1h-2zM370 230h2v1h-2zM411 230h2v1h-2zM433 230h2v1h-2zM473 230h3v1h-3zM495 230h2v1h-2zM536 230h2v1h-2zM557 230h2v1h-2zM100 231h2v1h-2zM121 231h2v1h-2zM162 231h2v1h-2zM183 231h2v1h-2zM224 231h2v1h-2zM246 231h2v1h-2zM287 231h2v1h-2zM308 231h2v1h-2zM349 231h2v1h-2zM370 231h2v1h-2zM411 231h2v1h-2zM433 231h2v1h-2zM474 231h2v1h-2zM495 231h2v1h-2zM536 231h2v1h-2zM557 231h2v1h-2zM100 232h2v1h-2zM121 232h2v1h-2zM162 232h2v1h-2zM183 232h2v1h-2zM224 232h3v1h-3zM245 232h3v1h-3zM287 232h2v1h-2zM308 232h2v1h-2zM349 232h2v1h-2zM370 232h2v1h-2zM411 232h2v1h-2zM432 232h2v1h-2zM474 232h2v1h-2zM495 232h2v1h-2zM536 232h2v1h-2zM557 232h2v1h-2zM100 233h2v1h-2zM121 233h2v1h-2zM162 233h2v1h-2zM183 233h2v1h-2zM225 233h2v1h-2zM245 233h2v1h-2zM287 233h2v1h-2zM308 233h2v1h-2zM349 233h2v1h-2zM370 233h2v1h-2zM412 233h2v1h-2zM432 233h2v1h-2zM474 233h2v1h-2zM495 233h2v1h-2zM536 233h2v1h-2zM557 233h2v1h-2zM100 234h2v1h-2zM121 234h2v1h-2zM162 234h2v1h-2zM183 234h2v1h-2zM225 234h2v1h-2zM245 234h2v1h-2zM287 234h2v1h-2zM308 234h2v1h-2zM349 234h2v1h-2zM370 234h2v1h-2zM412 234h2v1h-2zM432 234h2v1h-2zM474 234h2v1h-2zM494 234h3v1h-3zM536 234h2v1h-2zM557 234h2v1h-2zM100 235h2v1h-2zM120 235h3v1h-3zM162 235h3v1h-3zM183 235h2v1h-2zM225 235h2v1h-2zM245 235h2v1h-2zM287 235h2v1h-2zM307 235h2v1h-2zM349 235h3v1h-3zM370 235h2v1h-2zM412 235h2v1h-2zM432 235h2v1h-2zM474 235h2v1h-2zM494 235h2v1h-2zM536 235h3v1h-3zM557 235h2v1h-2zM100 236h2v1h-2zM120 236h2v1h-2zM163 236h2v1h-2zM183 236h2v1h-2zM225 236h2v1h-2zM245 236h2v1h-2zM287 236h2v1h-2zM307 236h2v1h-2zM350 236h2v1h-2zM370 236h2v1h-2zM412 236h2v1h-2zM432 236h2v1h-2zM474 236h2v1h-2zM494 236h2v1h-2zM537 236h2v1h-2zM557 236h2v1h-2zM100 237h2v1h-2zM120 237h2v1h-2zM163 237h2v1h-2zM183 237h2v1h-2zM225 237h2v1h-2zM245 237h2v1h-2zM287 237h2v1h-2zM307 237h2v1h-2zM350 237h2v1h-2zM369 237h3v1h-3zM412 237h2v1h-2zM432 237h2v1h-2zM474 237h2v1h-2zM494 237h2v1h-2zM537 237h2v1h-2zM556 237h3v1h-3zM100 238h3v1h-3zM120 238h2v1h-2zM163 238h2v1h-2zM182 238h2v1h-2zM225 238h2v1h-2zM245 238h2v1h-2zM287 238h3v1h-3zM307 238h2v1h-2zM350 238h2v1h-2zM369 238h2v1h-2zM412 238h2v1h-2zM432 238h2v1h-2zM474 238h3v1h-3zM494 238h2v1h-2zM537 238h2v1h-2zM556 238h2v1h-2zM101 239h2v1h-2zM120 239h2v1h-2zM163 239h2v1h-2zM182 239h2v1h-2zM225 239h2v1h-2zM245 239h2v1h-2zM288 239h2v1h-2zM307 239h2v1h-2zM350 239h2v1h-2zM369 239h2v1h-2zM412 239h2v1h-2zM432 239h2v1h-2zM475 239h2v1h-2zM494 239h2v1h-2zM537 239h2v1h-2zM556 239h2v1h-2zM101 240h2v1h-2zM120 240h2v1h-2zM163 240h2v1h-2zM182 240h2v1h-2zM225 240h2v1h-2zM245 240h2v1h-2zM288 240h2v1h-2zM307 240h2v1h-2zM350 240h2v1h-2zM369 240h2v1h-2zM412 240h2v1h-2zM431 240h3v1h-3zM475 240h2v1h-2zM494 240h2v1h-2zM537 240h2v1h-2zM556 240h2v1h-2zM101 241h2v1h-2zM120 241h2v1h-2zM163 241h2v1h-2zM182 241h2v1h-2zM225 241h3v1h-3zM244 241h2v1h-2zM288 241h2v1h-2zM307 241h2v1h-2zM350 241h2v1h-2zM369 241h2v1h-2zM412 241h3v1h-3zM431 241h2v1h-2zM475 241h2v1h-2zM494 241h2v1h-2zM537 241h2v1h-2zM556 241h2v1h-2zM101 242h2v1h-2zM120 242h2v1h-2zM163 242h2v1h-2zM182 242h2v1h-2zM226 242h2v1h-2zM244 242h2v1h-2zM288 242h2v1h-2zM307 242h2v1h-2zM350 242h2v1h-2zM369 242h2v1h-2zM413 242h2v1h-2zM431 242h2v1h-2zM475 242h2v1h-2zM494 242h2v1h-2zM537 242h2v1h-2zM556 242h2v1h-2zM101 243h2v1h-2zM120 243h2v1h-2zM163 243h2v1h-2zM182 243h2v1h-2zM226 243h2v1h-2zM244 243h2v1h-2zM288 243h2v1h-2zM307 243h2v1h-2zM350 243h2v1h-2zM369 243h2v1h-2zM413 243h2v1h-2zM431 243h2v1h-2zM475 243h2v1h-2zM494 243h2v1h-2zM537 243h2v1h-2zM556 243h2v1h-2zM101 244h2v1h-2zM119 244h3v1h-3zM163 244h3v1h-3zM182 244h2v1h-2zM226 244h2v1h-2zM244 244h2v1h-2zM288 244h2v1h-2zM306 244h3v1h-3zM350 244h2v1h-2zM369 244h2v1h-2zM413 244h2v1h-2zM431 244h2v1h-2zM475 244h2v1h-2zM493 244h2v1h-2zM537 244h2v1h-2zM556 244h2v1h-2zM101 245h2v1h-2zM119 245h2v1h-2zM164 245h2v1h-2zM182 245h2v1h-2zM226 245h2v1h-2zM244 245h2v1h-2zM288 245h2v1h-2zM306 245h2v1h-2zM351 245h2v1h-2zM369 245h2v1h-2zM413 245h2v1h-2zM431 245h2v1h-2zM475 245h2v1h-2zM493 245h2v1h-2zM537 245h3v1h-3zM556 245h2v1h-2zM101 246h2v1h-2zM119 246h2v1h-2zM164 246h2v1h-2zM182 246h2v1h-2zM226 246h2v1h-2zM244 246h2v1h-2zM288 246h2v1h-2zM306 246h2v1h-2zM351 246h2v1h-2zM369 246h2v1h-2zM413 246h2v1h-2zM431 246h2v1h-2zM475 246h2v1h-2zM493 246h2v1h-2zM538 246h2v1h-2zM556 246h2v1h-2zM101 247h2v1h-2zM119 247h2v1h-2zM164 247h2v1h-2zM181 247h3v1h-3zM226 247h2v1h-2zM244 247h2v1h-2zM288 247h2v1h-2zM306 247h2v1h-2zM351 247h2v1h-2zM368 247h3v1h-3zM413 247h2v1h-2zM431 247h2v1h-2zM475 247h2v1h-2zM493 247h2v1h-2zM538 247h2v1h-2zM555 247h3v1h-3zM101 248h2v1h-2zM119 248h2v1h-2zM164 248h2v1h-2zM181 248h2v1h-2zM226 248h2v1h-2zM244 248h2v1h-2zM288 248h3v1h-3zM306 248h2v1h-2zM351 248h2v1h-2zM368 248h2v1h-2zM413 248h2v1h-2zM431 248h2v1h-2zM475 248h3v1h-3zM493 248h2v1h-2zM538 248h2v1h-2zM555 248h2v1h-2zM102 249h1v1h-1zM119 249h2v1h-2zM164 249h2v1h-2zM181 249h2v1h-2zM226 249h2v1h-2zM244 249h2v1h-2zM289 249h2v1h-2zM306 249h2v1h-2zM351 249h2v1h-2zM368 249h2v1h-2zM413 249h2v1h-2zM431 249h2v1h-2zM476 249h2v1h-2zM493 249h2v1h-2zM538 249h2v1h-2zM555 249h2v1h-2zM102 250h1v1h-1zM119 250h2v1h-2zM164 250h2v1h-2zM181 250h2v1h-2zM226 250h2v1h-2zM243 250h3v1h-3zM289 250h2v1h-2zM306 250h2v1h-2zM351 250h2v1h-2zM368 250h2v1h-2zM413 250h2v1h-2zM430 250h3v1h-3zM476 250h2v1h-2zM493 250h2v1h-2zM538 250h2v1h-2zM555 250h2v1h-2zM102 251h1v1h-1zM119 251h2v1h-2zM164 251h2v1h-2zM181 251h2v1h-2zM226 251h3v1h-3zM243 251h2v1h-2zM289 251h2v1h-2zM306 251h2v1h-2zM351 251h2v1h-2zM368 251h2v1h-2zM413 251h3v1h-3zM430 251h2v1h-2zM476 251h2v1h-2zM493 251h2v1h-2zM538 251h2v1h-2zM555 251h2v1h-2zM102 252h1v1h-1zM119 252h2v1h-2zM164 252h2v1h-2zM181 252h2v1h-2zM227 252h2v1h-2zM243 252h2v1h-2zM289 252h2v1h-2zM306 252h2v1h-2zM351 252h2v1h-2zM368 252h2v1h-2zM414 252h2v1h-2zM430 252h2v1h-2zM476 252h2v1h-2zM493 252h2v1h-2zM538 252h2v1h-2zM555 252h2v1h-2zM102 253h1v1h-1zM119 253h2v1h-2zM164 253h2v1h-2zM181 253h2v1h-2zM227 253h2v1h-2zM243 253h2v1h-2zM289 253h2v1h-2zM305 253h3v1h-3zM351 253h2v1h-2zM368 253h2v1h-2zM414 253h2v1h-2zM430 253h2v1h-2zM476 253h2v1h-2zM492 253h3v1h-3zM538 253h2v1h-2zM555 253h2v1h-2zM102 254h1v1h-1zM118 254h2v1h-2zM164 254h3v1h-3zM181 254h2v1h-2zM227 254h2v1h-2zM243 254h2v1h-2zM289 254h2v1h-2zM305 254h2v1h-2zM351 254h3v1h-3zM368 254h2v1h-2zM414 254h2v1h-2zM430 254h2v1h-2zM476 254h2v1h-2zM492 254h2v1h-2zM538 254h2v1h-2zM555 254h2v1h-2zM118 255h2v1h-2zM165 255h2v1h-2zM181 255h2v1h-2zM227 255h2v1h-2zM243 255h2v1h-2zM289 255h2v1h-2zM305 255h2v1h-2zM352 255h2v1h-2zM368 255h2v1h-2zM414 255h2v1h-2zM430 255h2v1h-2zM476 255h2v1h-2zM492 255h2v1h-2zM539 255h2v1h-2zM555 255h2v1h-2zM118 256h2v1h-2zM165 256h2v1h-2zM181 256h2v1h-2zM227 256h2v1h-2zM243 256h2v1h-2zM289 256h2v1h-2zM305 256h2v1h-2zM352 256h2v1h-2zM368 256h2v1h-2zM414 256h2v1h-2zM430 256h2v1h-2zM476 256h2v1h-2zM492 256h2v1h-2zM539 256h2v1h-2zM555 256h2v1h-2zM118 257h2v1h-2zM165 257h2v1h-2zM180 257h3v1h-3zM227 257h2v1h-2zM243 257h2v1h-2zM289 257h2v1h-2zM305 257h2v1h-2zM352 257h2v1h-2zM367 257h3v1h-3zM414 257h2v1h-2zM430 257h2v1h-2zM476 257h2v1h-2zM492 257h2v1h-2zM539 257h2v1h-2zM554 257h3v1h-3zM104 258h1v1h-1zM118 258h2v1h-2zM165 258h2v1h-2zM180 258h2v1h-2zM227 258h2v1h-2zM243 258h2v1h-2zM289 258h3v1h-3zM305 258h2v1h-2zM352 258h2v1h-2zM367 258h2v1h-2zM414 258h2v1h-2zM430 258h2v1h-2zM476 258h3v1h-3zM492 258h2v1h-2zM539 258h2v1h-2zM554 258h2v1h-2zM104 259h1v1h-1zM118 259h2v1h-2zM165 259h2v1h-2zM180 259h2v1h-2zM227 259h2v1h-2zM243 259h2v1h-2zM290 259h2v1h-2zM305 259h2v1h-2zM352 259h2v1h-2zM367 259h2v1h-2zM414 259h2v1h-2zM430 259h2v1h-2zM477 259h2v1h-2zM492 259h2v1h-2zM539 259h2v1h-2zM554 259h2v1h-2zM104 260h1v1h-1zM118 260h2v1h-2zM165 260h2v1h-2zM180 260h2v1h-2zM227 260h2v1h-2zM242 260h3v1h-3zM290 260h2v1h-2zM305 260h2v1h-2zM352 260h2v1h-2zM367 260h2v1h-2zM414 260h2v1h-2zM429 260h3v1h-3zM477 260h2v1h-2zM492 260h2v1h-2zM539 260h2v1h-2zM554 260h2v1h-2zM104 261h1v1h-1zM118 261h2v1h-2zM165 261h2v1h-2zM180 261h2v1h-2zM227 261h3v1h-3zM242 261h2v1h-2zM290 261h2v1h-2zM305 261h2v1h-2zM352 261h2v1h-2zM367 261h2v1h-2zM414 261h3v1h-3zM429 261h2v1h-2zM477 261h2v1h-2zM492 261h2v1h-2zM539 261h2v1h-2zM554 261h2v1h-2zM104 262h1v1h-1zM118 262h2v1h-2zM165 262h2v1h-2zM180 262h2v1h-2zM228 262h2v1h-2zM242 262h2v1h-2zM290 262h2v1h-2zM305 262h2v1h-2zM352 262h2v1h-2zM367 262h2v1h-2zM415 262h2v1h-2zM429 262h2v1h-2zM477 262h2v1h-2zM492 262h2v1h-2zM539 262h2v1h-2zM554 262h2v1h-2zM104 263h1v1h-1zM118 263h2v1h-2zM165 263h2v1h-2zM180 263h2v1h-2zM228 263h2v1h-2zM242 263h2v1h-2zM290 263h2v1h-2zM305 263h2v1h-2zM352 263h2v1h-2zM367 263h2v1h-2zM415 263h2v1h-2zM429 263h2v1h-2zM477 263h2v1h-2zM492 263h2v1h-2zM539 263h2v1h-2zM554 263h2v1h-2zM103 264h2v1h-2zM117 264h3v1h-3zM165 264h2v1h-2zM180 264h2v1h-2zM228 264h2v1h-2zM242 264h2v1h-2zM290 264h2v1h-2zM304 264h3v1h-3zM352 264h2v1h-2zM367 264h2v1h-2zM415 264h2v1h-2zM429 264h2v1h-2zM477 264h2v1h-2zM491 264h3v1h-3zM539 264h2v1h-2zM554 264h2v1h-2zM103 265h2v1h-2zM117 265h2v1h-2zM165 265h3v1h-3zM180 265h2v1h-2zM228 265h2v1h-2zM242 265h2v1h-2zM290 265h2v1h-2zM304 265h2v1h-2zM352 265h3v1h-3zM367 265h2v1h-2zM415 265h2v1h-2zM429 265h2v1h-2zM477 265h2v1h-2zM491 265h2v1h-2zM539 265h3v1h-3zM554 265h2v1h-2zM103 266h2v1h-2zM117 266h2v1h-2zM166 266h2v1h-2zM180 266h2v1h-2zM228 266h2v1h-2zM242 266h2v1h-2zM290 266h2v1h-2zM304 266h2v1h-2zM353 266h2v1h-2zM367 266h2v1h-2zM415 266h2v1h-2zM429 266h2v1h-2zM477 266h2v1h-2zM491 266h2v1h-2zM540 266h2v1h-2zM554 266h2v1h-2zM103 267h2v1h-2zM117 267h2v1h-2zM166 267h2v1h-2zM180 267h2v1h-2zM228 267h2v1h-2zM242 267h2v1h-2zM290 267h2v1h-2zM304 267h2v1h-2zM353 267h2v1h-2zM367 267h2v1h-2zM415 267h2v1h-2zM429 267h2v1h-2zM477 267h2v1h-2zM491 267h2v1h-2zM540 267h2v1h-2zM553 267h3v1h-3zM103 268h2v1h-2zM117 268h2v1h-2zM166 268h2v1h-2zM179 268h3v1h-3zM228 268h2v1h-2zM242 268h2v1h-2zM290 268h2v1h-2zM304 268h2v1h-2zM353 268h2v1h-2zM366 268h2v1h-2zM415 268h2v1h-2zM429 268h2v1h-2zM477 268h2v1h-2zM491 268h2v1h-2zM540 268h2v1h-2zM553 268h2v1h-2zM104 269h2v1h-2zM117 269h2v1h-2zM166 269h2v1h-2zM179 269h2v1h-2zM228 269h2v1h-2zM242 269h2v1h-2zM290 269h3v1h-3zM304 269h2v1h-2zM353 269h2v1h-2zM366 269h2v1h-2zM415 269h2v1h-2zM429 269h2v1h-2zM477 269h3v1h-3zM491 269h2v1h-2zM540 269h2v1h-2zM553 269h2v1h-2zM104 270h2v1h-2zM117 270h2v1h-2zM166 270h2v1h-2zM179 270h2v1h-2zM228 270h2v1h-2zM242 270h2v1h-2zM291 270h2v1h-2zM304 270h2v1h-2zM353 270h2v1h-2zM366 270h2v1h-2zM415 270h2v1h-2zM429 270h2v1h-2zM478 270h2v1h-2zM491 270h2v1h-2zM540 270h2v1h-2zM553 270h2v1h-2zM104 271h2v1h-2zM117 271h2v1h-2zM166 271h2v1h-2zM179 271h2v1h-2zM228 271h2v1h-2zM241 271h3v1h-3zM291 271h2v1h-2zM304 271h2v1h-2zM353 271h2v1h-2zM366 271h2v1h-2zM415 271h2v1h-2zM429 271h2v1h-2zM478 271h2v1h-2zM491 271h2v1h-2zM540 271h2v1h-2zM553 271h2v1h-2zM104 272h2v1h-2zM117 272h2v1h-2zM166 272h2v1h-2zM179 272h2v1h-2zM228 272h3v1h-3zM241 272h2v1h-2zM291 272h2v1h-2zM304 272h2v1h-2zM353 272h2v1h-2zM366 272h2v1h-2zM415 272h2v1h-2zM429 272h1v1h-1zM478 272h2v1h-2zM491 272h2v1h-2zM540 272h2v1h-2zM553 272h2v1h-2zM104 273h2v1h-2zM117 273h2v1h-2zM166 273h2v1h-2zM179 273h2v1h-2zM229 273h2v1h-2zM241 273h2v1h-2zM291 273h2v1h-2zM304 273h2v1h-2zM353 273h2v1h-2zM366 273h2v1h-2zM416 273h2v1h-2zM429 273h1v1h-1zM478 273h2v1h-2zM491 273h2v1h-2zM540 273h2v1h-2zM553 273h2v1h-2zM104 274h2v1h-2zM117 274h2v1h-2zM166 274h2v1h-2zM179 274h2v1h-2zM229 274h2v1h-2zM241 274h2v1h-2zM291 274h2v1h-2zM304 274h2v1h-2zM353 274h2v1h-2zM366 274h2v1h-2zM416 274h2v1h-2zM429 274h1v1h-1zM478 274h2v1h-2zM491 274h2v1h-2zM540 274h2v1h-2zM553 274h2v1h-2zM104 275h2v1h-2zM116 275h3v1h-3zM166 275h2v1h-2zM179 275h2v1h-2zM229 275h2v1h-2zM241 275h2v1h-2zM291 275h2v1h-2zM303 275h3v1h-3zM353 275h2v1h-2zM366 275h2v1h-2zM416 275h2v1h-2zM429 275h1v1h-1zM478 275h2v1h-2zM490 275h3v1h-3zM540 275h2v1h-2zM553 275h2v1h-2zM104 276h2v1h-2zM116 276h2v1h-2zM166 276h3v1h-3zM179 276h2v1h-2zM229 276h2v1h-2zM241 276h2v1h-2zM291 276h2v1h-2zM303 276h2v1h-2zM353 276h2v1h-2zM366 276h2v1h-2zM416 276h2v1h-2zM429 276h1v1h-1zM478 276h2v1h-2zM490 276h2v1h-2zM540 276h2v1h-2zM553 276h2v1h-2zM104 277h2v1h-2zM116 277h2v1h-2zM167 277h2v1h-2zM179 277h2v1h-2zM229 277h2v1h-2zM241 277h2v1h-2zM291 277h2v1h-2zM303 277h2v1h-2zM354 277h1v1h-1zM366 277h2v1h-2zM416 277h2v1h-2zM478 277h2v1h-2zM490 277h2v1h-2zM541 277h2v1h-2zM553 277h2v1h-2zM104 278h2v1h-2zM116 278h2v1h-2zM167 278h2v1h-2zM179 278h2v1h-2zM229 278h2v1h-2zM241 278h2v1h-2zM291 278h2v1h-2zM303 278h2v1h-2zM354 278h1v1h-1zM366 278h2v1h-2zM416 278h2v1h-2zM478 278h2v1h-2zM490 278h2v1h-2zM541 278h2v1h-2zM553 278h2v1h-2zM104 279h2v1h-2zM116 279h2v1h-2zM167 279h2v1h-2zM178 279h3v1h-3zM229 279h2v1h-2zM241 279h2v1h-2zM291 279h2v1h-2zM303 279h2v1h-2zM354 279h1v1h-1zM365 279h3v1h-3zM416 279h2v1h-2zM478 279h2v1h-2zM490 279h2v1h-2zM541 279h2v1h-2zM552 279h3v1h-3zM104 280h3v1h-3zM116 280h2v1h-2zM167 280h2v1h-2zM178 280h2v1h-2zM229 280h2v1h-2zM241 280h2v1h-2zM291 280h3v1h-3zM303 280h2v1h-2zM354 280h1v1h-1zM365 280h2v1h-2zM416 280h2v1h-2zM478 280h3v1h-3zM490 280h2v1h-2zM541 280h2v1h-2zM552 280h2v1h-2zM105 281h2v1h-2zM116 281h2v1h-2zM167 281h2v1h-2zM178 281h2v1h-2zM229 281h2v1h-2zM241 281h2v1h-2zM292 281h2v1h-2zM303 281h2v1h-2zM354 281h1v1h-1zM365 281h2v1h-2zM416 281h2v1h-2zM479 281h2v1h-2zM490 281h2v1h-2zM541 281h2v1h-2zM552 281h2v1h-2zM105 282h2v1h-2zM116 282h2v1h-2zM167 282h2v1h-2zM178 282h2v1h-2zM229 282h2v1h-2zM241 282h2v1h-2zM292 282h2v1h-2zM303 282h2v1h-2zM365 282h2v1h-2zM416 282h2v1h-2zM479 282h2v1h-2zM490 282h2v1h-2zM541 282h2v1h-2zM552 282h2v1h-2zM105 283h2v1h-2zM116 283h2v1h-2zM167 283h2v1h-2zM178 283h2v1h-2zM229 283h2v1h-2zM240 283h3v1h-3zM292 283h2v1h-2zM303 283h2v1h-2zM365 283h2v1h-2zM416 283h2v1h-2zM427 283h1v1h-1zM479 283h2v1h-2zM490 283h2v1h-2zM541 283h2v1h-2zM552 283h2v1h-2zM105 284h2v1h-2zM116 284h2v1h-2zM167 284h2v1h-2zM178 284h2v1h-2zM229 284h3v1h-3zM240 284h2v1h-2zM292 284h2v1h-2zM303 284h2v1h-2zM365 284h2v1h-2zM416 284h3v1h-3zM427 284h1v1h-1zM479 284h2v1h-2zM490 284h2v1h-2zM541 284h2v1h-2zM552 284h2v1h-2zM105 285h2v1h-2zM116 285h2v1h-2zM167 285h2v1h-2zM178 285h2v1h-2zM230 285h2v1h-2zM240 285h2v1h-2zM292 285h2v1h-2zM303 285h2v1h-2zM365 285h2v1h-2zM417 285h2v1h-2zM427 285h1v1h-1zM479 285h2v1h-2zM490 285h2v1h-2zM541 285h2v1h-2zM552 285h2v1h-2zM105 286h2v1h-2zM116 286h2v1h-2zM167 286h2v1h-2zM178 286h2v1h-2zM230 286h2v1h-2zM240 286h2v1h-2zM292 286h2v1h-2zM303 286h2v1h-2zM365 286h2v1h-2zM417 286h2v1h-2zM427 286h2v1h-2zM479 286h2v1h-2zM490 286h2v1h-2zM541 286h2v1h-2zM552 286h2v1h-2zM105 287h2v1h-2zM115 287h3v1h-3zM167 287h2v1h-2zM178 287h2v1h-2zM230 287h2v1h-2zM240 287h2v1h-2zM292 287h2v1h-2zM302 287h3v1h-3zM365 287h2v1h-2zM417 287h2v1h-2zM427 287h2v1h-2zM479 287h2v1h-2zM489 287h3v1h-3zM541 287h2v1h-2zM552 287h2v1h-2zM105 288h2v1h-2zM115 288h2v1h-2zM167 288h3v1h-3zM178 288h2v1h-2zM230 288h2v1h-2zM240 288h2v1h-2zM292 288h2v1h-2zM302 288h2v1h-2zM365 288h2v1h-2zM417 288h2v1h-2zM427 288h2v1h-2zM479 288h2v1h-2zM489 288h2v1h-2zM541 288h2v1h-2zM552 288h2v1h-2zM105 289h2v1h-2zM115 289h2v1h-2zM168 289h2v1h-2zM178 289h2v1h-2zM230 289h2v1h-2zM240 289h2v1h-2zM292 289h2v1h-2zM302 289h2v1h-2zM356 289h1v1h-1zM365 289h2v1h-2zM417 289h2v1h-2zM427 289h2v1h-2zM479 289h2v1h-2zM489 289h2v1h-2zM541 289h3v1h-3zM552 289h2v1h-2zM105 290h2v1h-2zM115 290h2v1h-2zM168 290h2v1h-2zM178 290h2v1h-2zM230 290h2v1h-2zM240 290h2v1h-2zM292 290h2v1h-2zM302 290h2v1h-2zM356 290h1v1h-1zM365 290h2v1h-2zM417 290h2v1h-2zM427 290h2v1h-2zM479 290h2v1h-2zM489 290h2v1h-2zM542 290h2v1h-2zM552 290h2v1h-2zM105 291h2v1h-2zM115 291h2v1h-2zM168 291h2v1h-2zM178 291h2v1h-2zM230 291h2v1h-2zM240 291h2v1h-2zM292 291h2v1h-2zM302 291h2v1h-2zM355 291h2v1h-2zM365 291h2v1h-2zM417 291h2v1h-2zM427 291h2v1h-2zM479 291h2v1h-2zM489 291h2v1h-2zM542 291h2v1h-2zM551 291h3v1h-3zM105 292h2v1h-2zM115 292h2v1h-2zM168 292h2v1h-2zM177 292h3v1h-3zM230 292h2v1h-2zM240 292h2v1h-2zM292 292h2v1h-2zM302 292h2v1h-2zM355 292h2v1h-2zM364 292h2v1h-2zM417 292h2v1h-2zM427 292h2v1h-2zM479 292h2v1h-2zM489 292h2v1h-2zM542 292h2v1h-2zM551 292h2v1h-2zM105 293h3v1h-3zM115 293h2v1h-2zM168 293h2v1h-2zM177 293h2v1h-2zM230 293h2v1h-2zM240 293h2v1h-2zM292 293h3v1h-3zM302 293h2v1h-2zM355 293h2v1h-2zM364 293h2v1h-2zM417 293h2v1h-2zM427 293h2v1h-2zM479 293h3v1h-3zM489 293h2v1h-2zM542 293h2v1h-2zM551 293h2v1h-2zM106 294h2v1h-2zM115 294h2v1h-2zM168 294h2v1h-2zM177 294h2v1h-2zM230 294h2v1h-2zM240 294h2v1h-2zM293 294h2v1h-2zM302 294h2v1h-2zM355 294h2v1h-2zM364 294h2v1h-2zM417 294h2v1h-2zM427 294h2v1h-2zM480 294h2v1h-2zM489 294h2v1h-2zM542 294h2v1h-2zM551 294h2v1h-2zM106 295h2v1h-2zM115 295h2v1h-2zM168 295h2v1h-2zM177 295h2v1h-2zM230 295h2v1h-2zM240 295h2v1h-2zM293 295h2v1h-2zM302 295h2v1h-2zM355 295h2v1h-2zM364 295h2v1h-2zM417 295h2v1h-2zM427 295h2v1h-2zM480 295h2v1h-2zM489 295h2v1h-2zM542 295h2v1h-2zM551 295h2v1h-2zM106 296h2v1h-2zM115 296h2v1h-2zM168 296h2v1h-2zM177 296h2v1h-2zM230 296h2v1h-2zM239 296h3v1h-3zM293 296h2v1h-2zM302 296h2v1h-2zM355 296h2v1h-2zM364 296h2v1h-2zM417 296h2v1h-2zM426 296h3v1h-3zM480 296h2v1h-2zM489 296h2v1h-2zM542 296h2v1h-2zM551 296h2v1h-2zM106 297h2v1h-2zM115 297h2v1h-2zM168 297h2v1h-2zM177 297h2v1h-2zM230 297h3v1h-3zM239 297h2v1h-2zM293 297h2v1h-2zM302 297h2v1h-2zM355 297h2v1h-2zM364 297h2v1h-2zM417 297h3v1h-3zM426 297h2v1h-2zM480 297h2v1h-2zM489 297h2v1h-2zM542 297h2v1h-2zM551 297h2v1h-2zM106 298h2v1h-2zM115 298h2v1h-2zM168 298h2v1h-2zM177 298h2v1h-2zM231 298h2v1h-2zM239 298h2v1h-2zM293 298h2v1h-2zM302 298h2v1h-2zM355 298h2v1h-2zM364 298h2v1h-2zM418 298h2v1h-2zM426 298h2v1h-2zM480 298h2v1h-2zM489 298h2v1h-2zM542 298h2v1h-2zM551 298h2v1h-2zM106 299h2v1h-2zM115 299h2v1h-2zM168 299h2v1h-2zM177 299h2v1h-2zM231 299h2v1h-2zM239 299h2v1h-2zM293 299h2v1h-2zM302 299h2v1h-2zM355 299h2v1h-2zM364 299h2v1h-2zM418 299h2v1h-2zM426 299h2v1h-2zM480 299h2v1h-2zM489 299h2v1h-2zM542 299h2v1h-2zM551 299h2v1h-2zM106 300h2v1h-2zM114 300h3v1h-3zM168 300h2v1h-2zM177 300h2v1h-2zM231 300h2v1h-2zM239 300h2v1h-2zM293 300h2v1h-2zM301 300h3v1h-3zM355 300h2v1h-2zM364 300h2v1h-2zM418 300h2v1h-2zM426 300h2v1h-2zM480 300h2v1h-2zM488 300h3v1h-3zM542 300h2v1h-2zM551 300h2v1h-2zM106 301h2v1h-2zM114 301h2v1h-2zM168 301h2v1h-2zM177 301h2v1h-2zM231 301h2v1h-2zM239 301h2v1h-2zM293 301h2v1h-2zM301 301h2v1h-2zM355 301h2v1h-2zM364 301h2v1h-2zM418 301h2v1h-2zM426 301h2v1h-2zM480 301h2v1h-2zM488 301h2v1h-2zM542 301h2v1h-2zM551 301h2v1h-2zM106 302h2v1h-2zM114 302h2v1h-2zM169 302h2v1h-2zM178 302h1v1h-1zM231 302h2v1h-2zM239 302h2v1h-2zM293 302h2v1h-2zM301 302h2v1h-2zM355 302h3v1h-3zM364 302h2v1h-2zM418 302h2v1h-2zM426 302h2v1h-2zM480 302h2v1h-2zM488 302h2v1h-2zM542 302h3v1h-3zM551 302h2v1h-2zM106 303h2v1h-2zM114 303h2v1h-2zM169 303h2v1h-2zM178 303h1v1h-1zM231 303h2v1h-2zM239 303h2v1h-2zM293 303h2v1h-2zM301 303h2v1h-2zM356 303h2v1h-2zM364 303h2v1h-2zM418 303h2v1h-2zM426 303h2v1h-2zM480 303h2v1h-2zM488 303h2v1h-2zM543 303h2v1h-2zM551 303h2v1h-2zM106 304h2v1h-2zM114 304h2v1h-2zM169 304h2v1h-2zM178 304h1v1h-1zM231 304h2v1h-2zM239 304h2v1h-2zM293 304h2v1h-2zM301 304h2v1h-2zM356 304h2v1h-2zM364 304h2v1h-2zM418 304h2v1h-2zM426 304h2v1h-2zM480 304h2v1h-2zM488 304h2v1h-2zM543 304h2v1h-2zM551 304h2v1h-2zM106 305h2v1h-2zM114 305h2v1h-2zM169 305h2v1h-2zM178 305h1v1h-1zM231 305h2v1h-2zM239 305h2v1h-2zM293 305h2v1h-2zM301 305h2v1h-2zM356 305h2v1h-2zM363 305h3v1h-3zM418 305h2v1h-2zM426 305h2v1h-2zM480 305h2v1h-2zM488 305h2v1h-2zM543 305h2v1h-2zM550 305h3v1h-3zM106 306h3v1h-3zM114 306h2v1h-2zM169 306h2v1h-2zM231 306h2v1h-2zM239 306h2v1h-2zM293 306h3v1h-3zM301 306h2v1h-2zM356 306h2v1h-2zM363 306h2v1h-2zM418 306h2v1h-2zM426 306h2v1h-2zM480 306h3v1h-3zM488 306h2v1h-2zM543 306h2v1h-2zM550 306h2v1h-2zM107 307h2v1h-2zM114 307h2v1h-2zM169 307h2v1h-2zM231 307h2v1h-2zM239 307h2v1h-2zM294 307h2v1h-2zM301 307h2v1h-2zM356 307h2v1h-2zM363 307h2v1h-2zM418 307h2v1h-2zM426 307h2v1h-2zM481 307h2v1h-2zM488 307h2v1h-2zM543 307h2v1h-2zM550 307h2v1h-2zM107 308h2v1h-2zM114 308h2v1h-2zM169 308h2v1h-2zM231 308h2v1h-2zM239 308h2v1h-2zM294 308h2v1h-2zM301 308h2v1h-2zM356 308h2v1h-2zM363 308h2v1h-2zM418 308h2v1h-2zM426 308h2v1h-2zM481 308h2v1h-2zM488 308h2v1h-2zM543 308h2v1h-2zM550 308h2v1h-2zM107 309h2v1h-2zM114 309h2v1h-2zM169 309h2v1h-2zM176 309h1v1h-1zM231 309h2v1h-2zM238 309h3v1h-3zM294 309h2v1h-2zM301 309h2v1h-2zM356 309h2v1h-2zM363 309h2v1h-2zM418 309h2v1h-2zM425 309h3v1h-3zM481 309h2v1h-2zM488 309h2v1h-2zM543 309h2v1h-2zM550 309h2v1h-2zM107 310h2v1h-2zM114 310h2v1h-2zM169 310h2v1h-2zM176 310h1v1h-1zM231 310h2v1h-2zM238 310h2v1h-2zM294 310h2v1h-2zM301 310h2v1h-2zM356 310h2v1h-2zM363 310h2v1h-2zM418 310h2v1h-2zM425 310h2v1h-2zM481 310h2v1h-2zM488 310h2v1h-2zM543 310h2v1h-2zM550 310h2v1h-2zM107 311h2v1h-2zM114 311h2v1h-2zM169 311h2v1h-2zM176 311h1v1h-1zM231 311h3v1h-3zM238 311h2v1h-2zM294 311h2v1h-2zM301 311h2v1h-2zM356 311h2v1h-2zM363 311h2v1h-2zM418 311h3v1h-3zM425 311h2v1h-2zM481 311h2v1h-2zM488 311h2v1h-2zM543 311h2v1h-2zM550 311h2v1h-2zM107 312h2v1h-2zM114 312h2v1h-2zM169 312h2v1h-2zM176 312h1v1h-1zM232 312h2v1h-2zM238 312h2v1h-2zM294 312h2v1h-2zM301 312h2v1h-2zM356 312h2v1h-2zM363 312h2v1h-2zM419 312h2v1h-2zM425 312h2v1h-2zM481 312h2v1h-2zM488 312h2v1h-2zM543 312h2v1h-2zM550 312h2v1h-2zM107 313h2v1h-2zM114 313h2v1h-2zM169 313h2v1h-2zM176 313h2v1h-2zM232 313h2v1h-2zM238 313h2v1h-2zM294 313h2v1h-2zM301 313h2v1h-2zM356 313h2v1h-2zM363 313h2v1h-2zM419 313h2v1h-2zM425 313h2v1h-2zM481 313h2v1h-2zM488 313h2v1h-2zM543 313h2v1h-2zM550 313h2v1h-2zM107 314h2v1h-2zM113 314h3v1h-3zM169 314h2v1h-2zM176 314h2v1h-2zM232 314h2v1h-2zM238 314h2v1h-2zM294 314h2v1h-2zM300 314h3v1h-3zM356 314h2v1h-2zM363 314h2v1h-2zM419 314h2v1h-2zM425 314h2v1h-2zM481 314h2v1h-2zM487 314h3v1h-3zM543 314h2v1h-2zM550 314h2v1h-2zM107 315h2v1h-2zM113 315h2v1h-2zM169 315h3v1h-3zM176 315h2v1h-2zM232 315h2v1h-2zM238 315h2v1h-2zM294 315h2v1h-2zM300 315h2v1h-2zM356 315h2v1h-2zM363 315h2v1h-2zM419 315h2v1h-2zM425 315h2v1h-2zM481 315h2v1h-2zM487 315h2v1h-2zM543 315h2v1h-2zM550 315h2v1h-2zM107 316h2v1h-2zM113 316h2v1h-2zM170 316h2v1h-2zM176 316h2v1h-2zM232 316h2v1h-2zM238 316h2v1h-2zM294 316h2v1h-2zM300 316h2v1h-2zM357 316h2v1h-2zM363 316h2v1h-2zM419 316h2v1h-2zM425 316h2v1h-2zM481 316h2v1h-2zM487 316h2v1h-2zM543 316h3v1h-3zM550 316h2v1h-2zM107 317h2v1h-2zM113 317h2v1h-2zM170 317h2v1h-2zM176 317h2v1h-2zM232 317h2v1h-2zM238 317h2v1h-2zM294 317h2v1h-2zM300 317h2v1h-2zM357 317h2v1h-2zM363 317h2v1h-2zM419 317h2v1h-2zM425 317h2v1h-2zM481 317h2v1h-2zM487 317h2v1h-2zM544 317h2v1h-2zM550 317h2v1h-2zM107 318h1v1h-1zM113 318h2v1h-2zM176 318h2v1h-2zM238 318h2v1h-2zM295 318h1v1h-1zM300 318h2v1h-2zM357 318h2v1h-2zM363 318h1v1h-1zM419 318h2v1h-2zM481 318h2v1h-2zM544 318h2v1h-2zM551 318h1v1h-1zM107 319h1v1h-1zM113 319h2v1h-2zM175 319h3v1h-3zM238 319h2v1h-2zM295 319h1v1h-1zM300 319h2v1h-2zM357 319h2v1h-2zM362 319h2v1h-2zM419 319h2v1h-2zM481 319h2v1h-2zM544 319h2v1h-2zM551 319h1v1h-1zM113 320h2v1h-2zM175 320h2v1h-2zM238 320h2v1h-2zM296 320h1v1h-1zM300 320h2v1h-2zM357 320h2v1h-2zM362 320h1v1h-1zM419 320h2v1h-2zM481 320h3v1h-3zM544 320h2v1h-2zM109 321h1v1h-1zM113 321h2v1h-2zM170 321h2v1h-2zM175 321h2v1h-2zM232 321h1v1h-1zM238 321h2v1h-2zM296 321h1v1h-1zM300 321h2v1h-2zM357 321h2v1h-2zM362 321h1v1h-1zM419 321h2v1h-2zM426 321h1v1h-1zM482 321h2v1h-2zM487 321h2v1h-2zM544 321h2v1h-2zM549 321h1v1h-1zM109 322h1v1h-1zM113 322h2v1h-2zM170 322h2v1h-2zM175 322h2v1h-2zM232 322h1v1h-1zM238 322h2v1h-2zM296 322h1v1h-1zM300 322h2v1h-2zM357 322h2v1h-2zM362 322h1v1h-1zM419 322h2v1h-2zM426 322h1v1h-1zM482 322h2v1h-2zM487 322h2v1h-2zM544 322h2v1h-2zM549 322h1v1h-1zM109 323h1v1h-1zM113 323h2v1h-2zM170 323h2v1h-2zM175 323h2v1h-2zM232 323h1v1h-1zM238 323h2v1h-2zM296 323h1v1h-1zM300 323h2v1h-2zM357 323h2v1h-2zM362 323h1v1h-1zM419 323h2v1h-2zM426 323h1v1h-1zM482 323h2v1h-2zM487 323h2v1h-2zM544 323h2v1h-2zM549 323h1v1h-1zM109 324h1v1h-1zM114 324h1v1h-1zM170 324h2v1h-2zM175 324h2v1h-2zM232 324h1v1h-1zM237 324h3v1h-3zM296 324h1v1h-1zM300 324h2v1h-2zM357 324h2v1h-2zM362 324h1v1h-1zM419 324h2v1h-2zM482 324h2v1h-2zM487 324h2v1h-2zM544 324h1v1h-1zM549 324h1v1h-1zM109 325h1v1h-1zM114 325h1v1h-1zM170 325h2v1h-2zM175 325h2v1h-2zM232 325h1v1h-1zM237 325h2v1h-2zM300 325h1v1h-1zM358 325h1v1h-1zM419 325h3v1h-3zM425 325h1v1h-1zM482 325h2v1h-2zM487 325h2v1h-2zM544 325h1v1h-1zM549 325h1v1h-1zM108 326h2v1h-2zM114 326h1v1h-1zM170 326h2v1h-2zM175 326h2v1h-2zM233 326h1v1h-1zM237 326h2v1h-2zM300 326h1v1h-1zM358 326h1v1h-1zM420 326h2v1h-2zM425 326h1v1h-1zM482 326h2v1h-2zM487 326h2v1h-2zM544 326h1v1h-1zM549 326h2v1h-2zM108 327h2v1h-2zM114 327h1v1h-1zM170 327h2v1h-2zM175 327h2v1h-2zM233 327h1v1h-1zM237 327h2v1h-2zM300 327h1v1h-1zM358 327h1v1h-1zM420 327h2v1h-2zM425 327h1v1h-1zM482 327h2v1h-2zM487 327h2v1h-2zM544 327h1v1h-1zM549 327h2v1h-2zM108 328h2v1h-2zM114 328h1v1h-1zM170 328h2v1h-2zM175 328h2v1h-2zM233 328h1v1h-1zM237 328h2v1h-2zM300 328h1v1h-1zM358 328h1v1h-1zM420 328h2v1h-2zM425 328h1v1h-1zM482 328h2v1h-2zM486 328h3v1h-3zM544 328h1v1h-1zM549 328h2v1h-2zM108 329h2v1h-2zM114 329h1v1h-1zM170 329h2v1h-2zM175 329h2v1h-2zM233 329h1v1h-1zM237 329h2v1h-2zM299 329h2v1h-2zM358 329h1v1h-1zM420 329h2v1h-2zM425 329h1v1h-1zM482 329h2v1h-2zM486 329h2v1h-2zM544 329h1v1h-1zM549 329h2v1h-2zM108 330h2v1h-2zM170 330h3v1h-3zM175 330h2v1h-2zM233 330h1v1h-1zM237 330h2v1h-2zM299 330h2v1h-2zM358 330h2v1h-2zM420 330h2v1h-2zM425 330h1v1h-1zM482 330h2v1h-2zM486 330h2v1h-2zM544 330h1v1h-1zM549 330h2v1h-2zM108 331h2v1h-2zM171 331h2v1h-2zM175 331h2v1h-2zM233 331h1v1h-1zM237 331h2v1h-2zM299 331h2v1h-2zM358 331h2v1h-2zM420 331h2v1h-2zM425 331h1v1h-1zM482 331h2v1h-2zM486 331h2v1h-2zM549 331h2v1h-2zM108 332h2v1h-2zM171 332h2v1h-2zM175 332h2v1h-2zM233 332h1v1h-1zM237 332h2v1h-2zM299 332h2v1h-2zM358 332h2v1h-2zM420 332h2v1h-2zM425 332h1v1h-1zM482 332h1v1h-1zM486 332h2v1h-2zM549 332h2v1h-2zM108 333h2v1h-2zM112 333h1v1h-1zM171 333h2v1h-2zM176 333h1v1h-1zM233 333h1v1h-1zM237 333h2v1h-2zM299 333h2v1h-2zM358 333h2v1h-2zM420 333h2v1h-2zM425 333h1v1h-1zM482 333h1v1h-1zM486 333h2v1h-2zM546 333h1v1h-1zM548 333h3v1h-3zM108 334h2v1h-2zM112 334h1v1h-1zM171 334h2v1h-2zM233 334h2v1h-2zM237 334h2v1h-2zM295 334h1v1h-1zM299 334h1v1h-1zM359 334h1v1h-1zM420 334h2v1h-2zM424 334h2v1h-2zM482 334h1v1h-1zM486 334h2v1h-2zM546 334h1v1h-1zM548 334h2v1h-2zM108 335h3v1h-3zM112 335h1v1h-1zM171 335h2v1h-2zM233 335h2v1h-2zM237 335h2v1h-2zM295 335h1v1h-1zM299 335h1v1h-1zM359 335h1v1h-1zM420 335h2v1h-2zM424 335h2v1h-2zM482 335h1v1h-1zM486 335h2v1h-2zM546 335h1v1h-1zM548 335h2v1h-2zM109 336h2v1h-2zM112 336h1v1h-1zM171 336h2v1h-2zM233 336h2v1h-2zM237 336h2v1h-2zM299 336h1v1h-1zM359 336h1v1h-1zM420 336h2v1h-2zM424 336h2v1h-2zM486 336h2v1h-2zM546 336h1v1h-1zM548 336h2v1h-2zM109 337h2v1h-2zM112 337h1v1h-1zM171 337h2v1h-2zM233 337h2v1h-2zM237 337h2v1h-2zM299 337h1v1h-1zM359 337h1v1h-1zM420 337h2v1h-2zM424 337h2v1h-2zM486 337h2v1h-2zM546 337h1v1h-1zM548 337h2v1h-2zM109 338h2v1h-2zM112 338h1v1h-1zM171 338h2v1h-2zM233 338h2v1h-2zM237 338h2v1h-2zM299 338h1v1h-1zM359 338h1v1h-1zM420 338h2v1h-2zM424 338h2v1h-2zM486 338h2v1h-2zM546 338h1v1h-1zM548 338h2v1h-2zM109 339h2v1h-2zM112 339h1v1h-1zM171 339h2v1h-2zM233 339h2v1h-2zM237 339h1v1h-1zM299 339h2v1h-2zM359 339h1v1h-1zM361 339h1v1h-1zM420 339h2v1h-2zM424 339h1v1h-1zM483 339h1v1h-1zM486 339h2v1h-2zM546 339h1v1h-1zM548 339h2v1h-2zM109 340h2v1h-2zM112 340h1v1h-1zM171 340h2v1h-2zM175 340h1v1h-1zM234 340h1v1h-1zM236 340h2v1h-2zM297 340h1v1h-1zM299 340h1v1h-1zM358 340h2v1h-2zM421 340h1v1h-1zM424 340h1v1h-1zM486 340h2v1h-2zM546 340h1v1h-1zM548 340h2v1h-2zM109 341h2v1h-2zM112 341h1v1h-1zM171 341h2v1h-2zM234 341h1v1h-1zM237 341h1v1h-1zM299 341h2v1h-2zM359 341h1v1h-1zM361 341h1v1h-1zM421 341h2v1h-2zM424 341h1v1h-1zM483 341h1v1h-1zM486 341h2v1h-2zM546 341h1v1h-1zM548 341h2v1h-2zM109 342h2v1h-2zM112 342h1v1h-1zM171 342h2v1h-2zM175 342h1v1h-1zM234 342h1v1h-1zM236 342h2v1h-2zM297 342h1v1h-1zM299 342h1v1h-1zM358 342h2v1h-2zM421 342h1v1h-1zM424 342h1v1h-1zM486 342h2v1h-2zM546 342h1v1h-1zM548 342h2v1h-2zM109 343h4v1h-4zM171 343h2v1h-2zM234 343h1v1h-1zM237 343h1v1h-1zM298 343h3v1h-3zM359 343h1v1h-1zM361 343h1v1h-1zM421 343h2v1h-2zM424 343h1v1h-1zM483 343h1v1h-1zM485 343h2v1h-2zM546 343h1v1h-1zM548 343h2v1h-2zM109 344h4v1h-4zM171 344h3v1h-3zM175 344h1v1h-1zM234 344h1v1h-1zM236 344h2v1h-2zM297 344h3v1h-3zM358 344h3v1h-3zM421 344h1v1h-1zM424 344h1v1h-1zM485 344h2v1h-2zM545 344h5v1h-5zM109 345h4v1h-4zM172 345h2v1h-2zM234 345h1v1h-1zM237 345h1v1h-1zM298 345h2v1h-2zM359 345h3v1h-3zM421 345h1v1h-1zM424 345h1v1h-1zM484 345h3v1h-3zM546 345h4v1h-4zM109 346h4v1h-4zM172 346h3v1h-3zM234 346h2v1h-2zM237 346h1v1h-1zM298 346h2v1h-2zM359 346h1v1h-1zM423 346h2v1h-2zM484 346h3v1h-3zM546 346h4v1h-4zM109 347h4v1h-4zM172 347h3v1h-3zM234 347h2v1h-2zM296 347h1v1h-1zM299 347h1v1h-1zM360 347h1v1h-1zM362 347h1v1h-1zM421 347h1v1h-1zM423 347h2v1h-2zM484 347h3v1h-3zM546 347h4v1h-4zM109 348h4v1h-4zM172 348h3v1h-3zM234 348h2v1h-2zM237 348h1v1h-1zM296 348h1v1h-1zM298 348h1v1h-1zM359 348h1v1h-1zM423 348h2v1h-2zM484 348h3v1h-3zM546 348h3v1h-3zM110 349h3v1h-3zM172 349h3v1h-3zM234 349h2v1h-2zM299 349h1v1h-1zM360 349h1v1h-1zM421 349h1v1h-1zM423 349h2v1h-2zM484 349h3v1h-3zM546 349h3v1h-3zM110 350h3v1h-3zM172 350h3v1h-3zM234 350h4v1h-4zM297 350h2v1h-2zM359 350h1v1h-1zM423 350h2v1h-2zM484 350h3v1h-3zM546 350h3v1h-3zM110 351h3v1h-3zM172 351h3v1h-3zM234 351h2v1h-2zM299 351h1v1h-1zM360 351h2v1h-2zM421 351h4v1h-4zM484 351h3v1h-3zM546 351h3v1h-3zM110 352h3v1h-3zM172 352h3v1h-3zM234 352h3v1h-3zM297 352h2v1h-2zM359 352h1v1h-1zM423 352h1v1h-1zM484 352h3v1h-3zM546 352h3v1h-3zM110 353h3v1h-3zM172 353h3v1h-3zM235 353h1v1h-1zM299 353h1v1h-1zM360 353h2v1h-2zM422 353h2v1h-2zM484 353h3v1h-3zM546 353h3v1h-3zM110 354h3v1h-3zM172 354h3v1h-3zM235 354h2v1h-2zM297 354h2v1h-2zM359 354h1v1h-1zM423 354h1v1h-1zM484 354h3v1h-3zM546 354h3v1h-3zM110 355h2v1h-2zM173 355h2v1h-2zM235 355h1v1h-1zM360 355h2v1h-2zM422 355h2v1h-2zM484 355h2v1h-2zM546 355h3v1h-3zM110 356h3v1h-3zM172 356h3v1h-3zM235 356h2v1h-2zM297 356h2v1h-2zM359 356h1v1h-1zM423 356h1v1h-1zM484 356h3v1h-3zM546 356h3v1h-3zM110 357h3v1h-3zM172 357h3v1h-3zM235 357h1v1h-1zM299 357h1v1h-1zM360 357h2v1h-2zM422 357h2v1h-2zM484 357h3v1h-3zM546 357h3v1h-3zM111 358h1v1h-1zM173 358h1v1h-1zM235 358h2v1h-2zM298 358h1v1h-1zM423 358h1v1h-1zM485 358h1v1h-1zM547 358h1v1h-1z" fill="#ff0000" shape-rendering="crispEdges"/>
<path d="M62 363h4v1h-4zM68 363h10v1h-10zM80 363h10v1h-10zM93 363h3v1h-3zM97 363h3v1h-3zM101 363h1v1h-1zM105 363h3v1h-3zM109 363h3v1h-3zM113 363h2v1h-2zM117 363h10v1h-10zM129 363h10v1h-10zM141 363h10v1h-10zM153 363h10v1h-10zM165 363h2v1h-2zM168 363h3v1h-3zM172 363h3v1h-3zM178 363h1v1h-1zM180 363h3v1h-3zM184 363h4v1h-4zM190 363h10v1h-10zM202 363h10v1h-10zM214 363h10v1h-10zM226 363h10v1h-10zM239 363h3v1h-3zM243 363h3v1h-3zM247 363h2v1h-2zM251 363h3v1h-3zM255 363h3v1h-3zM259 363h2v1h-2zM263 363h10v1h-10zM275 363h10v1h-10zM287 363h10v1h-10zM299 363h10v1h-10zM312 363h1v1h-1zM314 363h3v1h-3zM318 363h3v1h-3zM324 363h1v1h-1zM326 363h3v1h-3zM330 363h4v1h-4zM336 363h10v1h-10zM348 363h10v1h-10zM360 363h11v1h-11zM373 363h10v1h-10zM385 363h3v1h-3zM389 363h3v1h-3zM393 363h2v1h-2zM397 363h3v1h-3zM401 363h3v1h-3zM405 363h2v1h-2zM409 363h10v1h-10zM421 363h11v1h-11zM434 363h10v1h-10zM446 363h10v1h-10zM458 363h1v1h-1zM460 363h3v1h-3zM464 363h3v1h-3zM470 363h1v1h-1zM472 363h3v1h-3zM476 363h4v1h-4zM482 363h10v1h-10zM495 363h10v1h-10zM507 363h10v1h-10zM519 363h10v1h-10zM531 363h3v1h-3zM535 363h3v1h-3zM539 363h2v1h-2zM543 363h3v1h-3zM547 363h3v1h-3zM551 363h2v1h-2zM555 363h11v1h-11zM568 363h5v1h-5zM62 364h5v1h-5zM69 364h10v1h-10zM81 364h10v1h-10zM93 364h10v1h-10zM106 364h10v1h-10zM118 364h10v1h-10zM130 364h10v1h-10zM142 364h10v1h-10zM154 364h10v1h-10zM166 364h11v1h-11zM179 364h10v1h-10zM191 364h10v1h-10zM203 364h10v1h-10zM215 364h10v1h-10zM227 364h11v1h-11zM240 364h10v1h-10zM252 364h10v1h-10zM264 364h10v1h-10zM276 364h10v1h-10zM288 364h11v1h-11zM301 364h10v1h-10zM313 364h10v1h-10zM325 364h10v1h-10zM337 364h10v1h-10zM349 364h10v1h-10zM361 364h11v1h-11zM374 364h10v1h-10zM386 364h10v1h-10zM398 364h10v1h-10zM410 364h10v1h-10zM422 364h11v1h-11zM435 364h10v1h-10zM447 364h10v1h-10zM459 364h10v1h-10zM471 364h10v1h-10zM483 364h11v1h-11zM496 364h10v1h-10zM508 364h10v1h-10zM520 364h10v1h-10zM532 364h10v1h-10zM544 364h10v1h-10zM557 364h10v1h-10zM569 364h4v1h-4zM62 365h4v1h-4zM68 365h10v1h-10zM80 365h10v1h-10zM92 365h10v1h-10zM105 365h10v1h-10zM117 365h10v1h-10zM129 365h10v1h-10zM141 365h10v1h-10zM153 365h10v1h-10zM165 365h11v1h-11zM178 365h10v1h-10zM190 365h10v1h-10zM202 365h10v1h-10zM214 365h10v1h-10zM226 365h11v1h-11zM239 365h10v1h-10zM251 365h10v1h-10zM263 365h10v1h-10zM275 365h10v1h-10zM287 365h11v1h-11zM300 365h10v1h-10zM312 365h10v1h-10zM324 365h10v1h-10zM336 365h10v1h-10zM348 365h10v1h-10zM361 365h10v1h-10zM373 365h10v1h-10zM385 365h10v1h-10zM397 365h10v1h-10zM409 365h10v1h-10zM421 365h11v1h-11zM434 365h10v1h-10zM446 365h10v1h-10zM458 365h10v1h-10zM470 365h10v1h-10zM482 365h11v1h-11zM495 365h10v1h-10zM507 365h10v1h-10zM519 365h10v1h-10zM531 365h10v1h-10zM543 365h11v1h-11zM556 365h10v1h-10zM568 365h5v1h-5zM62 366h2v1h-2zM65 366h3v1h-3zM69 366h3v1h-3zM73 366h3v1h-3zM77 366h3v1h-3zM81 366h13v1h-13zM95 366h3v1h-3zM99 366h3v1h-3zM103 366h3v1h-3zM107 366h3v1h-3zM111 366h12v1h-12zM124 366h3v1h-3zM128 366h3v1h-3zM132 366h3v1h-3zM136 366h3v1h-3zM140 366h3v1h-3zM144 366h3v1h-3zM148 366h3v1h-3zM152 366h13v1h-13zM166 366h3v1h-3zM170 366h3v1h-3zM174 366h3v1h-3zM178 366h3v1h-3zM182 366h12v1h-12zM195 366h3v1h-3zM199 366h3v1h-3zM203 366h3v1h-3zM207 366h3v1h-3zM211 366h3v1h-3zM215 366h3v1h-3zM219 366h3v1h-3zM223 366h3v1h-3zM227 366h13v1h-13zM241 366h3v1h-3zM245 366h3v1h-3zM249 366h3v1h-3zM253 366h3v1h-3zM257 366h12v1h-12zM270 366h3v1h-3zM274 366h3v1h-3zM278 366h3v1h-3zM282 366h3v1h-3zM286 366h3v1h-3zM290 366h3v1h-3zM294 366h3v1h-3zM298 366h13v1h-13zM312 366h3v1h-3zM316 366h3v1h-3zM320 366h3v1h-3zM324 366h3v1h-3zM328 366h12v1h-12zM341 366h3v1h-3zM345 366h3v1h-3zM349 366h3v1h-3zM353 366h3v1h-3zM357 366h3v1h-3zM361 366h3v1h-3zM365 366h3v1h-3zM369 366h3v1h-3zM373 366h13v1h-13zM387 366h3v1h-3zM391 366h3v1h-3zM395 366h3v1h-3zM399 366h3v1h-3zM403 366h12v1h-12zM416 366h3v1h-3zM420 366h3v1h-3zM424 366h3v1h-3zM428 366h3v1h-3zM432 366h3v1h-3zM436 366h3v1h-3zM440 366h3v1h-3zM444 366h13v1h-13zM458 366h3v1h-3zM462 366h3v1h-3zM466 366h3v1h-3zM470 366h3v1h-3zM474 366h12v1h-12zM487 366h3v1h-3zM491 366h3v1h-3zM495 366h3v1h-3zM499 366h3v1h-3zM503 366h3v1h-3zM507 366h3v1h-3zM511 366h3v1h-3zM515 366h3v1h-3zM519 366h13v1h-13zM533 366h3v1h-3zM537 366h3v1h-3zM541 366h3v1h-3zM545 366h3v1h-3zM549 366h12v1h-12zM562 366h3v1h-3zM566 366h3v1h-3zM570 366h3v1h-3zM62 367h3v1h-3zM70 367h3v1h-3zM74 367h4v1h-4zM81 367h5v1h-5zM87 367h3v1h-3zM93 367h1v1h-1zM95 367h3v1h-3zM99 367h3v1h-3zM105 367h1v1h-1zM107 367h3v1h-3zM111 367h3v1h-3zM119 367h8v1h-8zM130 367h2v1h-2zM133 367h3v1h-3zM137 367h2v1h-2zM142 367h2v1h-2zM145 367h3v1h-3zM149 367h2v1h-2zM154 367h3v1h-3zM158 367h3v1h-3zM162 367h2v1h-2zM166 367h3v1h-3zM170 367h3v1h-3zM174 367h2v1h-2zM179 367h2v1h-2zM182 367h3v1h-3zM186 367h2v1h-2zM191 367h9v1h-9zM204 367h3v1h-3zM208 367h3v1h-3zM216 367h3v1h-3zM220 367h4v1h-4zM227 367h5v1h-5zM233 367h3v1h-3zM239 367h1v1h-1zM241 367h3v1h-3zM245 367h3v1h-3zM253 367h3v1h-3zM257 367h3v1h-3zM265 367h8v1h-8zM276 367h2v1h-2zM279 367h3v1h-3zM283 367h2v1h-2zM288 367h2v1h-2zM291 367h3v1h-3zM295 367h3v1h-3zM300 367h3v1h-3zM304 367h3v1h-3zM308 367h2v1h-2zM313 367h2v1h-2zM316 367h3v1h-3zM320 367h2v1h-2zM325 367h2v1h-2zM328 367h3v1h-3zM332 367h2v1h-2zM337 367h9v1h-9zM350 367h3v1h-3zM354 367h3v1h-3zM358 367h1v1h-1zM362 367h3v1h-3zM366 367h5v1h-5zM374 367h4v1h-4zM379 367h3v1h-3zM387 367h3v1h-3zM391 367h3v1h-3zM399 367h3v1h-3zM403 367h3v1h-3zM411 367h9v1h-9zM422 367h2v1h-2zM425 367h3v1h-3zM429 367h3v1h-3zM434 367h2v1h-2zM437 367h3v1h-3zM441 367h3v1h-3zM447 367h2v1h-2zM450 367h3v1h-3zM454 367h2v1h-2zM459 367h2v1h-2zM462 367h3v1h-3zM466 367h2v1h-2zM471 367h2v1h-2zM474 367h3v1h-3zM478 367h2v1h-2zM483 367h10v1h-10zM496 367h3v1h-3zM500 367h3v1h-3zM504 367h1v1h-1zM508 367h3v1h-3zM512 367h5v1h-5zM520 367h4v1h-4zM525 367h3v1h-3zM533 367h3v1h-3zM537 367h3v1h-3zM545 367h3v1h-3zM549 367h3v1h-3zM553 367h1v1h-1zM557 367h9v1h-9zM569 367h1v1h-1zM571 367h2v1h-2zM62 368h2v1h-2zM65 368h3v1h-3zM69 368h9v1h-9zM79 368h3v1h-3zM83 368h3v1h-3zM87 368h3v1h-3zM91 368h3v1h-3zM95 368h3v1h-3zM99 368h3v1h-3zM103 368h3v1h-3zM107 368h3v1h-3zM111 368h3v1h-3zM115 368h3v1h-3zM119 368h3v1h-3zM123 368h8v1h-8zM132 368h3v1h-3zM136 368h3v1h-3zM140 368h13v1h-13zM154 368h3v1h-3zM158 368h3v1h-3zM162 368h3v1h-3zM166 368h3v1h-3zM170 368h3v1h-3zM174 368h3v1h-3zM178 368h3v1h-3zM182 368h3v1h-3zM186 368h3v1h-3zM190 368h3v1h-3zM194 368h3v1h-3zM198 368h4v1h-4zM203 368h3v1h-3zM207 368h3v1h-3zM211 368h3v1h-3zM215 368h9v1h-9zM225 368h3v1h-3zM229 368h3v1h-3zM233 368h3v1h-3zM237 368h3v1h-3zM241 368h3v1h-3zM245 368h3v1h-3zM249 368h3v1h-3zM253 368h3v1h-3zM257 368h3v1h-3zM261 368h3v1h-3zM265 368h3v1h-3zM269 368h8v1h-8zM278 368h3v1h-3zM282 368h3v1h-3zM286 368h13v1h-13zM300 368h3v1h-3zM304 368h3v1h-3zM308 368h3v1h-3zM312 368h3v1h-3zM316 368h3v1h-3zM320 368h3v1h-3zM324 368h3v1h-3zM328 368h3v1h-3zM332 368h3v1h-3zM336 368h3v1h-3zM340 368h3v1h-3zM344 368h4v1h-4zM349 368h3v1h-3zM353 368h3v1h-3zM357 368h3v1h-3zM361 368h9v1h-9zM371 368h3v1h-3zM375 368h3v1h-3zM379 368h3v1h-3zM383 368h3v1h-3zM387 368h3v1h-3zM391 368h3v1h-3zM395 368h3v1h-3zM399 368h3v1h-3zM403 368h3v1h-3zM407 368h3v1h-3zM411 368h3v1h-3zM415 368h8v1h-8zM424 368h3v1h-3zM428 368h3v1h-3zM432 368h13v1h-13zM446 368h3v1h-3zM450 368h3v1h-3zM454 368h3v1h-3zM458 368h3v1h-3zM462 368h3v1h-3zM466 368h3v1h-3zM470 368h3v1h-3zM474 368h3v1h-3zM478 368h3v1h-3zM482 368h3v1h-3zM486 368h3v1h-3zM490 368h4v1h-4zM495 368h3v1h-3zM499 368h3v1h-3zM503 368h3v1h-3zM507 368h9v1h-9zM517 368h3v1h-3zM521 368h3v1h-3zM525 368h3v1h-3zM529 368h3v1h-3zM533 368h3v1h-3zM537 368h3v1h-3zM541 368h3v1h-3zM545 368h3v1h-3zM549 368h3v1h-3zM553 368h3v1h-3zM557 368h3v1h-3zM561 368h8v1h-8zM570 368h3v1h-3zM63 369h3v1h-3zM71 369h2v1h-2zM75 369h2v1h-2zM83 369h2v1h-2zM87 369h2v1h-2zM95 369h2v1h-2zM99 369h2v1h-2zM107 369h2v1h-2zM111 369h2v1h-2zM119 369h2v1h-2zM123 369h2v1h-2zM131 369h2v1h-2zM134 369h3v1h-3zM138 369h1v1h-1zM142 369h2v1h-2zM146 369h2v1h-2zM150 369h1v1h-1zM154 369h2v1h-2zM158 369h2v1h-2zM162 369h2v1h-2zM166 369h2v1h-2zM170 369h2v1h-2zM174 369h2v1h-2zM178 369h2v1h-2zM182 369h2v1h-2zM186 369h2v1h-2zM191 369h1v1h-1zM194 369h2v1h-2zM198 369h2v1h-2zM203 369h1v1h-1zM205 369h3v1h-3zM209 369h3v1h-3zM217 369h2v1h-2zM221 369h2v1h-2zM229 369h2v1h-2zM233 369h2v1h-2zM241 369h2v1h-2zM245 369h2v1h-2zM253 369h2v1h-2zM257 369h2v1h-2zM265 369h2v1h-2zM269 369h2v1h-2zM277 369h2v1h-2zM280 369h3v1h-3zM284 369h2v1h-2zM288 369h2v1h-2zM292 369h2v1h-2zM296 369h2v1h-2zM300 369h2v1h-2zM304 369h2v1h-2zM308 369h2v1h-2zM312 369h2v1h-2zM316 369h2v1h-2zM320 369h2v1h-2zM325 369h1v1h-1zM328 369h2v1h-2zM332 369h2v1h-2zM337 369h1v1h-1zM340 369h2v1h-2zM344 369h2v1h-2zM349 369h1v1h-1zM351 369h3v1h-3zM355 369h3v1h-3zM363 369h2v1h-2zM367 369h2v1h-2zM375 369h2v1h-2zM379 369h2v1h-2zM387 369h2v1h-2zM391 369h2v1h-2zM399 369h2v1h-2zM403 369h2v1h-2zM411 369h2v1h-2zM415 369h2v1h-2zM419 369h1v1h-1zM423 369h2v1h-2zM426 369h3v1h-3zM430 369h2v1h-2zM434 369h2v1h-2zM438 369h2v1h-2zM442 369h2v1h-2zM447 369h1v1h-1zM450 369h2v1h-2zM454 369h2v1h-2zM459 369h1v1h-1zM462 369h2v1h-2zM466 369h2v1h-2zM471 369h1v1h-1zM474 369h2v1h-2zM478 369h2v1h-2zM483 369h1v1h-1zM486 369h2v1h-2zM490 369h2v1h-2zM495 369h1v1h-1zM497 369h3v1h-3zM501 369h3v1h-3zM509 369h2v1h-2zM513 369h2v1h-2zM521 369h2v1h-2zM525 369h2v1h-2zM533 369h2v1h-2zM537 369h2v1h-2zM541 369h1v1h-1zM545 369h2v1h-2zM549 369h2v1h-2zM553 369h1v1h-1zM557 369h2v1h-2zM561 369h2v1h-2zM565 369h1v1h-1zM569 369h2v1h-2zM572 369h1v1h-1zM62 370h1v1h-1zM64 370h2v1h-2zM68 370h2v1h-2zM72 370h2v1h-2zM76 370h2v1h-2zM80 370h2v1h-2zM84 370h2v1h-2zM88 370h2v1h-2zM92 370h2v1h-2zM96 370h2v1h-2zM100 370h2v1h-2zM104 370h2v1h-2zM108 370h2v1h-2zM112 370h2v1h-2zM116 370h2v1h-2zM120 370h2v1h-2zM124 370h2v1h-2zM128 370h2v1h-2zM132 370h2v1h-2zM135 370h3v1h-3zM139 370h2v1h-2zM143 370h2v1h-2zM147 370h2v1h-2zM151 370h2v1h-2zM155 370h2v1h-2zM159 370h2v1h-2zM163 370h2v1h-2zM167 370h2v1h-2zM171 370h2v1h-2zM175 370h2v1h-2zM179 370h2v1h-2zM183 370h2v1h-2zM187 370h2v1h-2zM191 370h2v1h-2zM195 370h2v1h-2zM199 370h2v1h-2zM203 370h2v1h-2zM206 370h3v1h-3zM210 370h2v1h-2zM214 370h2v1h-2zM218 370h2v1h-2zM222 370h2v1h-2zM226 370h2v1h-2zM230 370h2v1h-2zM234 370h2v1h-2zM238 370h2v1h-2zM242 370h2v1h-2zM246 370h2v1h-2zM250 370h2v1h-2zM254 370h2v1h-2zM258 370h2v1h-2zM262 370h2v1h-2zM266 370h2v1h-2zM270 370h2v1h-2zM274 370h2v1h-2zM278 370h2v1h-2zM281 370h3v1h-3zM285 370h2v1h-2zM289 370h2v1h-2zM293 370h2v1h-2zM297 370h2v1h-2zM301 370h2v1h-2zM305 370h2v1h-2zM309 370h2v1h-2zM313 370h2v1h-2zM317 370h2v1h-2zM321 370h2v1h-2zM325 370h2v1h-2zM329 370h2v1h-2zM333 370h2v1h-2zM337 370h2v1h-2zM341 370h2v1h-2zM345 370h2v1h-2zM349 370h2v1h-2zM352 370h3v1h-3zM356 370h2v1h-2zM360 370h2v1h-2zM364 370h2v1h-2zM368 370h2v1h-2zM372 370h2v1h-2zM376 370h2v1h-2zM380 370h2v1h-2zM384 370h2v1h-2zM388 370h2v1h-2zM392 370h2v1h-2zM396 370h2v1h-2zM400 370h2v1h-2zM404 370h2v1h-2zM408 370h2v1h-2zM412 370h2v1h-2zM416 370h2v1h-2zM420 370h2v1h-2zM424 370h2v1h-2zM427 370h3v1h-3zM431 370h2v1h-2zM435 370h2v1h-2zM439 370h2v1h-2zM443 370h2v1h-2zM447 370h2v1h-2zM451 370h2v1h-2zM455 370h2v1h-2zM459 370h2v1h-2zM463 370h2v1h-2zM467 370h2v1h-2zM471 370h2v1h-2zM475 370h2v1h-2zM479 370h2v1h-2zM483 370h2v1h-2zM487 370h2v1h-2zM491 370h2v1h-2zM495 370h2v1h-2zM498 370h3v1h-3zM502 370h2v1h-2zM506 370h2v1h-2zM510 370h2v1h-2zM514 370h2v1h-2zM518 370h2v1h-2zM522 370h2v1h-2zM526 370h2v1h-2zM530 370h2v1h-2zM534 370h2v1h-2zM538 370h2v1h-2zM542 370h2v1h-2zM546 370h2v1h-2zM550 370h2v1h-2zM554 370h2v1h-2zM558 370h2v1h-2zM562 370h2v1h-2zM566 370h2v1h-2zM570 370h2v1h-2zM64 371h2v1h-2zM69 371h1v1h-1zM71 371h3v1h-3zM75 371h2v1h-2zM83 371h2v1h-2zM87 371h2v1h-2zM95 371h2v1h-2zM99 371h2v1h-2zM107 371h2v1h-2zM111 371h2v1h-2zM119 371h2v1h-2zM123 371h2v1h-2zM131 371h2v1h-2zM135 371h2v1h-2zM143 371h2v1h-2zM146 371h3v1h-3zM150 371h2v1h-2zM154 371h2v1h-2zM158 371h2v1h-2zM162 371h2v1h-2zM166 371h2v1h-2zM170 371h2v1h-2zM174 371h2v1h-2zM178 371h2v1h-2zM182 371h2v1h-2zM186 371h2v1h-2zM191 371h1v1h-1zM194 371h2v1h-2zM198 371h2v1h-2zM203 371h1v1h-1zM206 371h2v1h-2zM210 371h2v1h-2zM215 371h1v1h-1zM217 371h3v1h-3zM221 371h2v1h-2zM229 371h2v1h-2zM233 371h2v1h-2zM241 371h2v1h-2zM245 371h2v1h-2zM253 371h2v1h-2zM257 371h2v1h-2zM265 371h2v1h-2zM269 371h2v1h-2zM277 371h2v1h-2zM281 371h2v1h-2zM285 371h1v1h-1zM289 371h2v1h-2zM292 371h3v1h-3zM296 371h2v1h-2zM300 371h2v1h-2zM304 371h2v1h-2zM308 371h2v1h-2zM312 371h2v1h-2zM316 371h2v1h-2zM320 371h2v1h-2zM325 371h1v1h-1zM328 371h2v1h-2zM332 371h2v1h-2zM337 371h1v1h-1zM340 371h2v1h-2zM344 371h2v1h-2zM349 371h1v1h-1zM352 371h2v1h-2zM356 371h2v1h-2zM361 371h1v1h-1zM363 371h3v1h-3zM367 371h2v1h-2zM375 371h2v1h-2zM379 371h2v1h-2zM387 371h2v1h-2zM391 371h2v1h-2zM399 371h2v1h-2zM403 371h2v1h-2zM407 371h1v1h-1zM411 371h2v1h-2zM415 371h2v1h-2zM419 371h1v1h-1zM423 371h2v1h-2zM427 371h2v1h-2zM431 371h1v1h-1zM435 371h2v1h-2zM438 371h3v1h-3zM442 371h2v1h-2zM446 371h2v1h-2zM450 371h2v1h-2zM454 371h2v1h-2zM459 371h1v1h-1zM462 371h2v1h-2zM466 371h2v1h-2zM471 371h1v1h-1zM474 371h2v1h-2zM478 371h2v1h-2zM483 371h1v1h-1zM486 371h2v1h-2zM490 371h2v1h-2zM495 371h1v1h-1zM498 371h2v1h-2zM502 371h2v1h-2zM507 371h1v1h-1zM509 371h3v1h-3zM513 371h2v1h-2zM521 371h2v1h-2zM525 371h2v1h-2zM533 371h2v1h-2zM537 371h2v1h-2zM541 371h1v1h-1zM545 371h2v1h-2zM549 371h2v1h-2zM553 371h1v1h-1zM557 371h2v1h-2zM561 371h2v1h-2zM565 371h1v1h-1zM569 371h2v1h-2zM64 372h2v1h-2zM68 372h2v1h-2zM72 372h2v1h-2zM76 372h2v1h-2zM80 372h2v1h-2zM84 372h2v1h-2zM88 372h2v1h-2zM92 372h2v1h-2zM96 372h2v1h-2zM100 372h2v1h-2zM104 372h2v1h-2zM108 372h2v1h-2zM112 372h2v1h-2zM116 372h2v1h-2zM120 372h2v1h-2zM123 372h3v1h-3zM127 372h2v1h-2zM131 372h2v1h-2zM135 372h2v1h-2zM139 372h2v1h-2zM143 372h2v1h-2zM147 372h2v1h-2zM151 372h2v1h-2zM155 372h2v1h-2zM159 372h2v1h-2zM163 372h2v1h-2zM167 372h2v1h-2zM171 372h2v1h-2zM175 372h2v1h-2zM179 372h2v1h-2zM183 372h2v1h-2zM187 372h2v1h-2zM191 372h2v1h-2zM195 372h2v1h-2zM198 372h3v1h-3zM202 372h2v1h-2zM206 372h2v1h-2zM210 372h2v1h-2zM214 372h2v1h-2zM218 372h2v1h-2zM222 372h2v1h-2zM226 372h2v1h-2zM230 372h2v1h-2zM234 372h2v1h-2zM238 372h2v1h-2zM242 372h2v1h-2zM246 372h2v1h-2zM250 372h2v1h-2zM254 372h2v1h-2zM258 372h2v1h-2zM262 372h2v1h-2zM266 372h2v1h-2zM269 372h3v1h-3zM273 372h2v1h-2zM277 372h2v1h-2zM281 372h2v1h-2zM285 372h2v1h-2zM289 372h2v1h-2zM293 372h2v1h-2zM297 372h2v1h-2zM301 372h2v1h-2zM305 372h2v1h-2zM309 372h2v1h-2zM313 372h2v1h-2zM317 372h2v1h-2zM321 372h2v1h-2zM325 372h2v1h-2zM329 372h2v1h-2zM333 372h2v1h-2zM337 372h2v1h-2zM341 372h2v1h-2zM344 372h3v1h-3zM348 372h2v1h-2zM352 372h2v1h-2zM356 372h2v1h-2zM360 372h2v1h-2zM364 372h2v1h-2zM368 372h2v1h-2zM372 372h2v1h-2zM376 372h2v1h-2zM380 372h2v1h-2zM384 372h2v1h-2zM388 372h2v1h-2zM392 372h2v1h-2zM396 372h2v1h-2zM400 372h2v1h-2zM404 372h2v1h-2zM408 372h2v1h-2zM412 372h2v1h-2zM415 372h3v1h-3zM419 372h2v1h-2zM423 372h2v1h-2zM427 372h2v1h-2zM431 372h2v1h-2zM435 372h2v1h-2zM439 372h2v1h-2zM443 372h2v1h-2zM447 372h2v1h-2zM451 372h2v1h-2zM455 372h2v1h-2zM459 372h2v1h-2zM463 372h2v1h-2zM467 372h2v1h-2zM471 372h2v1h-2zM475 372h2v1h-2zM479 372h2v1h-2zM483 372h2v1h-2zM487 372h2v1h-2zM490 372h3v1h-3zM494 372h2v1h-2zM498 372h2v1h-2zM502 372h2v1h-2zM506 372h2v1h-2zM510 372h2v1h-2zM514 372h2v1h-2zM518 372h2v1h-2zM522 372h2v1h-2zM526 372h2v1h-2zM530 372h2v1h-2zM534 372h2v1h-2zM538 372h2v1h-2zM542 372h2v1h-2zM546 372h2v1h-2zM550 372h2v1h-2zM554 372h2v1h-2zM558 372h2v1h-2zM561 372h3v1h-3zM565 372h2v1h-2zM569 372h2v1h-2zM64 373h2v1h-2zM69 373h1v1h-1zM72 373h2v1h-2zM76 373h2v1h-2zM81 373h1v1h-1zM83 373h2v1h-2zM87 373h2v1h-2zM95 373h2v1h-2zM99 373h2v1h-2zM107 373h2v1h-2zM111 373h2v1h-2zM119 373h2v1h-2zM123 373h2v1h-2zM131 373h2v1h-2zM135 373h2v1h-2zM143 373h2v1h-2zM147 373h2v1h-2zM151 373h1v1h-1zM154 373h3v1h-3zM158 373h2v1h-2zM162 373h2v1h-2zM166 373h2v1h-2zM170 373h2v1h-2zM174 373h2v1h-2zM178 373h2v1h-2zM182 373h2v1h-2zM186 373h2v1h-2zM190 373h2v1h-2zM194 373h2v1h-2zM198 373h2v1h-2zM203 373h1v1h-1zM206 373h2v1h-2zM210 373h2v1h-2zM215 373h1v1h-1zM218 373h2v1h-2zM222 373h2v1h-2zM227 373h1v1h-1zM229 373h2v1h-2zM233 373h2v1h-2zM241 373h2v1h-2zM245 373h2v1h-2zM253 373h2v1h-2zM257 373h2v1h-2zM265 373h2v1h-2zM269 373h2v1h-2zM273 373h1v1h-1zM277 373h2v1h-2zM281 373h2v1h-2zM285 373h1v1h-1zM289 373h2v1h-2zM293 373h2v1h-2zM297 373h1v1h-1zM300 373h3v1h-3zM304 373h2v1h-2zM308 373h2v1h-2zM312 373h2v1h-2zM316 373h2v1h-2zM320 373h2v1h-2zM325 373h1v1h-1zM328 373h2v1h-2zM332 373h2v1h-2zM337 373h1v1h-1zM340 373h2v1h-2zM344 373h2v1h-2zM349 373h1v1h-1zM352 373h2v1h-2zM356 373h2v1h-2zM361 373h1v1h-1zM364 373h2v1h-2zM368 373h2v1h-2zM373 373h1v1h-1zM375 373h2v1h-2zM379 373h2v1h-2zM387 373h2v1h-2zM391 373h2v1h-2zM399 373h2v1h-2zM403 373h2v1h-2zM407 373h1v1h-1zM411 373h2v1h-2zM415 373h2v1h-2zM419 373h1v1h-1zM423 373h2v1h-2zM427 373h2v1h-2zM431 373h1v1h-1zM435 373h2v1h-2zM439 373h2v1h-2zM443 373h1v1h-1zM446 373h3v1h-3zM450 373h2v1h-2zM454 373h2v1h-2zM459 373h1v1h-1zM462 373h2v1h-2zM466 373h2v1h-2zM471 373h1v1h-1zM474 373h2v1h-2zM478 373h2v1h-2zM483 373h1v1h-1zM486 373h2v1h-2zM490 373h2v1h-2zM495 373h1v1h-1zM498 373h2v1h-2zM502 373h2v1h-2zM507 373h1v1h-1zM510 373h2v1h-2zM514 373h2v1h-2zM521 373h2v1h-2zM525 373h2v1h-2zM529 373h1v1h-1zM533 373h2v1h-2zM537 373h2v1h-2zM541 373h1v1h-1zM545 373h2v1h-2zM549 373h2v1h-2zM553 373h1v1h-1zM557 373h2v1h-2zM561 373h2v1h-2zM565 373h1v1h-1zM569 373h2v1h-2zM64 374h2v1h-2zM68 374h2v1h-2zM72 374h2v1h-2zM76 374h2v1h-2zM80 374h2v1h-2zM84 374h2v1h-2zM88 374h2v1h-2zM92 374h2v1h-2zM96 374h2v1h-2zM100 374h2v1h-2zM104 374h2v1h-2zM108 374h2v1h-2zM112 374h2v1h-2zM115 374h3v1h-3zM119 374h2v1h-2zM123 374h2v1h-2zM127 374h2v1h-2zM131 374h2v1h-2zM135 374h2v1h-2zM139 374h2v1h-2zM143 374h2v1h-2zM147 374h2v1h-2zM151 374h2v1h-2zM155 374h2v1h-2zM159 374h2v1h-2zM163 374h2v1h-2zM167 374h2v1h-2zM171 374h2v1h-2zM175 374h2v1h-2zM179 374h2v1h-2zM183 374h2v1h-2zM187 374h2v1h-2zM190 374h3v1h-3zM194 374h2v1h-2zM198 374h2v1h-2zM202 374h2v1h-2zM206 374h2v1h-2zM210 374h2v1h-2zM214 374h2v1h-2zM218 374h2v1h-2zM222 374h2v1h-2zM226 374h2v1h-2zM230 374h2v1h-2zM234 374h2v1h-2zM238 374h2v1h-2zM242 374h2v1h-2zM246 374h2v1h-2zM250 374h2v1h-2zM254 374h2v1h-2zM258 374h2v1h-2zM261 374h3v1h-3zM265 374h2v1h-2zM269 374h2v1h-2zM273 374h2v1h-2zM277 374h2v1h-2zM281 374h2v1h-2zM285 374h2v1h-2zM289 374h2v1h-2zM293 374h2v1h-2zM297 374h2v1h-2zM301 374h2v1h-2zM305 374h2v1h-2zM309 374h2v1h-2zM313 374h2v1h-2zM317 374h2v1h-2zM321 374h2v1h-2zM325 374h2v1h-2zM329 374h2v1h-2zM333 374h2v1h-2zM336 374h3v1h-3zM340 374h2v1h-2zM344 374h2v1h-2zM348 374h2v1h-2zM352 374h2v1h-2zM356 374h2v1h-2zM360 374h2v1h-2zM364 374h2v1h-2zM368 374h2v1h-2zM372 374h2v1h-2zM376 374h2v1h-2zM380 374h2v1h-2zM384 374h2v1h-2zM388 374h2v1h-2zM392 374h2v1h-2zM396 374h2v1h-2zM400 374h2v1h-2zM404 374h2v1h-2zM407 374h3v1h-3zM411 374h2v1h-2zM415 374h2v1h-2zM419 374h2v1h-2zM423 374h2v1h-2zM427 374h2v1h-2zM431 374h2v1h-2zM435 374h2v1h-2zM439 374h2v1h-2zM443 374h2v1h-2zM447 374h2v1h-2zM451 374h2v1h-2zM455 374h2v1h-2zM459 374h2v1h-2zM463 374h2v1h-2zM467 374h2v1h-2zM471 374h2v1h-2zM475 374h2v1h-2zM479 374h2v1h-2zM482 374h3v1h-3zM486 374h2v1h-2zM490 374h2v1h-2zM494 374h2v1h-2zM498 374h2v1h-2zM502 374h2v1h-2zM506 374h2v1h-2zM510 374h2v1h-2zM514 374h2v1h-2zM518 374h2v1h-2zM522 374h2v1h-2zM526 374h2v1h-2zM530 374h2v1h-2zM534 374h2v1h-2zM538 374h2v1h-2zM542 374h2v1h-2zM546 374h2v1h-2zM550 374h2v1h-2zM553 374h3v1h-3zM557 374h2v1h-2zM561 374h2v1h-2zM565 374h2v1h-2zM569 374h2v1h-2zM64 375h2v1h-2zM68 375h2v1h-2zM72 375h2v1h-2zM76 375h2v1h-2zM81 375h1v1h-1zM84 375h2v1h-2zM87 375h3v1h-3zM95 375h2v1h-2zM99 375h2v1h-2zM107 375h2v1h-2zM111 375h2v1h-2zM119 375h2v1h-2zM123 375h2v1h-2zM131 375h2v1h-2zM135 375h2v1h-2zM139 375h1v1h-1zM143 375h2v1h-2zM147 375h2v1h-2zM151 375h1v1h-1zM155 375h2v1h-2zM159 375h2v1h-2zM162 375h2v1h-2zM166 375h2v1h-2zM170 375h2v1h-2zM174 375h2v1h-2zM178 375h2v1h-2zM182 375h2v1h-2zM186 375h2v1h-2zM190 375h2v1h-2zM194 375h2v1h-2zM198 375h2v1h-2zM203 375h1v1h-1zM206 375h2v1h-2zM210 375h2v1h-2zM215 375h1v1h-1zM218 375h2v1h-2zM222 375h2v1h-2zM227 375h1v1h-1zM230 375h2v1h-2zM233 375h3v1h-3zM241 375h2v1h-2zM245 375h2v1h-2zM253 375h2v1h-2zM257 375h2v1h-2zM265 375h2v1h-2zM269 375h2v1h-2zM273 375h1v1h-1zM277 375h2v1h-2zM281 375h2v1h-2zM285 375h1v1h-1zM289 375h2v1h-2zM293 375h2v1h-2zM297 375h1v1h-1zM301 375h2v1h-2zM305 375h2v1h-2zM308 375h2v1h-2zM312 375h2v1h-2zM316 375h2v1h-2zM320 375h2v1h-2zM324 375h2v1h-2zM328 375h2v1h-2zM332 375h2v1h-2zM337 375h1v1h-1zM340 375h2v1h-2zM344 375h2v1h-2zM349 375h1v1h-1zM352 375h2v1h-2zM356 375h2v1h-2zM361 375h1v1h-1zM364 375h2v1h-2zM368 375h2v1h-2zM373 375h1v1h-1zM376 375h2v1h-2zM379 375h3v1h-3zM387 375h2v1h-2zM391 375h2v1h-2zM395 375h1v1h-1zM399 375h2v1h-2zM403 375h2v1h-2zM407 375h1v1h-1zM411 375h2v1h-2zM415 375h2v1h-2zM419 375h1v1h-1zM423 375h2v1h-2zM427 375h2v1h-2zM431 375h1v1h-1zM435 375h2v1h-2zM439 375h2v1h-2zM443 375h1v1h-1zM447 375h2v1h-2zM451 375h2v1h-2zM454 375h2v1h-2zM459 375h1v1h-1zM462 375h2v1h-2zM466 375h2v1h-2zM471 375h1v1h-1zM474 375h2v1h-2zM478 375h2v1h-2zM483 375h1v1h-1zM486 375h2v1h-2zM490 375h2v1h-2zM495 375h1v1h-1zM498 375h2v1h-2zM502 375h2v1h-2zM507 375h1v1h-1zM510 375h2v1h-2zM514 375h2v1h-2zM519 375h1v1h-1zM522 375h2v1h-2zM525 375h3v1h-3zM529 375h1v1h-1zM533 375h2v1h-2zM537 375h2v1h-2zM541 375h1v1h-1zM545 375h2v1h-2zM549 375h2v1h-2zM553 375h1v1h-1zM557 375h2v1h-2zM561 375h2v1h-2zM565 375h1v1h-1zM569 375h2v1h-2zM64 376h2v1h-2zM68 376h2v1h-2zM72 376h2v1h-2zM76 376h2v1h-2zM80 376h2v1h-2zM84 376h2v1h-2zM88 376h2v1h-2zM92 376h2v1h-2zM96 376h2v1h-2zM100 376h2v1h-2zM104 376h2v1h-2zM107 376h3v1h-3zM111 376h2v1h-2zM115 376h2v1h-2zM119 376h2v1h-2zM123 376h2v1h-2zM127 376h2v1h-2zM131 376h2v1h-2zM135 376h2v1h-2zM139 376h2v1h-2zM143 376h2v1h-2zM147 376h2v1h-2zM151 376h2v1h-2zM155 376h2v1h-2zM159 376h2v1h-2zM163 376h2v1h-2zM167 376h2v1h-2zM171 376h2v1h-2zM175 376h2v1h-2zM179 376h2v1h-2zM182 376h3v1h-3zM186 376h2v1h-2zM190 376h2v1h-2zM194 376h2v1h-2zM198 376h2v1h-2zM202 376h2v1h-2zM206 376h2v1h-2zM210 376h2v1h-2zM214 376h2v1h-2zM218 376h2v1h-2zM222 376h2v1h-2zM226 376h2v1h-2zM230 376h2v1h-2zM234 376h2v1h-2zM238 376h2v1h-2zM242 376h2v1h-2zM246 376h2v1h-2zM250 376h2v1h-2zM253 376h3v1h-3zM257 376h2v1h-2zM261 376h2v1h-2zM265 376h2v1h-2zM269 376h2v1h-2zM273 376h2v1h-2zM277 376h2v1h-2zM281 376h2v1h-2zM285 376h2v1h-2zM289 376h2v1h-2zM293 376h2v1h-2zM297 376h2v1h-2zM301 376h2v1h-2zM305 376h2v1h-2zM309 376h2v1h-2zM313 376h2v1h-2zM317 376h2v1h-2zM321 376h2v1h-2zM325 376h2v1h-2zM328 376h3v1h-3zM332 376h2v1h-2zM336 376h2v1h-2zM340 376h2v1h-2zM344 376h2v1h-2zM348 376h2v1h-2zM352 376h2v1h-2zM356 376h2v1h-2zM360 376h2v1h-2zM364 376h2v1h-2zM368 376h2v1h-2zM372 376h2v1h-2zM376 376h2v1h-2zM380 376h2v1h-2zM384 376h2v1h-2zM388 376h2v1h-2zM392 376h2v1h-2zM396 376h2v1h-2zM399 376h3v1h-3zM403 376h2v1h-2zM407 376h2v1h-2zM411 376h2v1h-2zM415 376h2v1h-2zM419 376h2v1h-2zM423 376h2v1h-2zM427 376h2v1h-2zM431 376h2v1h-2zM435 376h2v1h-2zM439 376h2v1h-2zM443 376h2v1h-2zM447 376h2v1h-2zM451 376h2v1h-2zM455 376h2v1h-2zM459 376h2v1h-2zM463 376h2v1h-2zM467 376h2v1h-2zM471 376h2v1h-2zM474 376h3v1h-3zM478 376h2v1h-2zM482 376h2v1h-2zM486 376h2v1h-2zM490 376h2v1h-2zM494 376h2v1h-2zM498 376h2v1h-2zM502 376h2v1h-2zM506 376h2v1h-2zM510 376h2v1h-2zM514 376h2v1h-2zM518 376h2v1h-2zM522 376h2v1h-2zM526 376h2v1h-2zM530 376h2v1h-2zM534 376h2v1h-2zM538 376h2v1h-2zM542 376h2v1h-2zM545 376h3v1h-3zM549 376h2v1h-2zM553 376h2v1h-2zM557 376h2v1h-2zM561 376h2v1h-2zM565 376h2v1h-2zM569 376h2v1h-2zM64 377h2v1h-2zM69 377h1v1h-1zM72 377h2v1h-2zM76 377h2v1h-2zM81 377h1v1h-1zM84 377h2v1h-2zM88 377h2v1h-2zM93 377h1v1h-1zM95 377h3v1h-3zM99 377h2v1h-2zM107 377h2v1h-2zM111 377h2v1h-2zM119 377h2v1h-2zM123 377h2v1h-2zM131 377h2v1h-2zM135 377h2v1h-2zM143 377h2v1h-2zM147 377h2v1h-2zM151 377h1v1h-1zM155 377h2v1h-2zM159 377h2v1h-2zM163 377h1v1h-1zM167 377h2v1h-2zM170 377h2v1h-2zM174 377h2v1h-2zM178 377h2v1h-2zM182 377h2v1h-2zM186 377h2v1h-2zM190 377h2v1h-2zM194 377h2v1h-2zM198 377h2v1h-2zM203 377h1v1h-1zM206 377h2v1h-2zM210 377h2v1h-2zM215 377h1v1h-1zM218 377h2v1h-2zM222 377h2v1h-2zM227 377h1v1h-1zM230 377h2v1h-2zM234 377h2v1h-2zM239 377h1v1h-1zM241 377h3v1h-3zM245 377h2v1h-2zM253 377h2v1h-2zM257 377h2v1h-2zM265 377h2v1h-2zM269 377h2v1h-2zM273 377h1v1h-1zM277 377h2v1h-2zM281 377h2v1h-2zM285 377h1v1h-1zM289 377h2v1h-2zM293 377h2v1h-2zM297 377h1v1h-1zM301 377h2v1h-2zM305 377h2v1h-2zM309 377h1v1h-1zM313 377h2v1h-2zM316 377h2v1h-2zM320 377h2v1h-2zM325 377h1v1h-1zM328 377h2v1h-2zM332 377h2v1h-2zM337 377h1v1h-1zM340 377h2v1h-2zM344 377h2v1h-2zM349 377h1v1h-1zM352 377h2v1h-2zM356 377h2v1h-2zM361 377h1v1h-1zM364 377h2v1h-2zM368 377h2v1h-2zM373 377h1v1h-1zM376 377h2v1h-2zM380 377h2v1h-2zM385 377h1v1h-1zM387 377h3v1h-3zM391 377h2v1h-2zM399 377h2v1h-2zM403 377h2v1h-2zM407 377h1v1h-1zM411 377h2v1h-2zM415 377h2v1h-2zM419 377h1v1h-1zM423 377h2v1h-2zM427 377h2v1h-2zM431 377h1v1h-1zM435 377h2v1h-2zM439 377h2v1h-2zM443 377h1v1h-1zM447 377h2v1h-2zM451 377h2v1h-2zM455 377h1v1h-1zM459 377h2v1h-2zM462 377h3v1h-3zM466 377h2v1h-2zM471 377h1v1h-1zM474 377h2v1h-2zM478 377h2v1h-2zM483 377h1v1h-1zM486 377h2v1h-2zM490 377h2v1h-2zM495 377h1v1h-1zM498 377h2v1h-2zM502 377h2v1h-2zM507 377h1v1h-1zM510 377h2v1h-2zM514 377h2v1h-2zM522 377h2v1h-2zM526 377h2v1h-2zM533 377h3v1h-3zM537 377h2v1h-2zM541 377h1v1h-1zM545 377h2v1h-2zM549 377h2v1h-2zM553 377h1v1h-1zM557 377h2v1h-2zM561 377h2v1h-2zM565 377h1v1h-1zM569 377h2v1h-2zM64 378h2v1h-2zM68 378h2v1h-2zM72 378h2v1h-2zM76 378h2v1h-2zM80 378h2v1h-2zM84 378h2v1h-2zM88 378h2v1h-2zM92 378h2v1h-2zM96 378h2v1h-2zM100 378h2v1h-2zM103 378h2v1h-2zM107 378h2v1h-2zM111 378h2v1h-2zM115 378h2v1h-2zM119 378h2v1h-2zM123 378h2v1h-2zM127 378h2v1h-2zM131 378h2v1h-2zM135 378h2v1h-2zM139 378h2v1h-2zM143 378h2v1h-2zM147 378h2v1h-2zM151 378h2v1h-2zM155 378h2v1h-2zM159 378h2v1h-2zM163 378h2v1h-2zM167 378h2v1h-2zM171 378h2v1h-2zM174 378h3v1h-3zM178 378h2v1h-2zM182 378h2v1h-2zM186 378h2v1h-2zM190 378h2v1h-2zM194 378h2v1h-2zM198 378h2v1h-2zM202 378h2v1h-2zM206 378h2v1h-2zM210 378h2v1h-2zM214 378h2v1h-2zM218 378h2v1h-2zM222 378h2v1h-2zM226 378h2v1h-2zM230 378h2v1h-2zM234 378h2v1h-2zM238 378h2v1h-2zM242 378h2v1h-2zM246 378h2v1h-2zM249 378h2v1h-2zM253 378h2v1h-2zM257 378h2v1h-2zM261 378h2v1h-2zM265 378h2v1h-2zM269 378h2v1h-2zM273 378h2v1h-2zM277 378h2v1h-2zM281 378h2v1h-2zM285 378h2v1h-2zM289 378h2v1h-2zM293 378h2v1h-2zM297 378h2v1h-2zM301 378h2v1h-2zM305 378h2v1h-2zM309 378h2v1h-2zM313 378h2v1h-2zM317 378h2v1h-2zM320 378h3v1h-3zM324 378h2v1h-2zM328 378h2v1h-2zM332 378h2v1h-2zM336 378h2v1h-2zM340 378h2v1h-2zM344 378h2v1h-2zM348 378h2v1h-2zM352 378h2v1h-2zM356 378h2v1h-2zM360 378h2v1h-2zM364 378h2v1h-2zM368 378h2v1h-2zM372 378h2v1h-2zM376 378h2v1h-2zM380 378h2v1h-2zM384 378h2v1h-2zM388 378h2v1h-2zM392 378h2v1h-2zM395 378h3v1h-3zM399 378h2v1h-2zM403 378h2v1h-2zM407 378h2v1h-2zM411 378h2v1h-2zM415 378h2v1h-2zM419 378h2v1h-2zM423 378h2v1h-2zM427 378h2v1h-2zM431 378h2v1h-2zM435 378h2v1h-2zM439 378h2v1h-2zM443 378h2v1h-2zM447 378h2v1h-2zM451 378h2v1h-2zM455 378h2v1h-2zM459 378h2v1h-2zM463 378h2v1h-2zM466 378h3v1h-3zM470 378h2v1h-2zM474 378h2v1h-2zM478 378h2v1h-2zM482 378h2v1h-2zM486 378h2v1h-2zM490 378h2v1h-2zM494 378h2v1h-2zM498 378h2v1h-2zM502 378h2v1h-2zM506 378h2v1h-2zM510 378h2v1h-2zM514 378h2v1h-2zM518 378h2v1h-2zM522 378h2v1h-2zM526 378h2v1h-2zM530 378h2v1h-2zM534 378h2v1h-2zM538 378h2v1h-2zM541 378h3v1h-3zM545 378h2v1h-2zM549 378h2v1h-2zM553 378h2v1h-2zM557 378h2v1h-2zM561 378h2v1h-2zM565 378h2v1h-2zM569 378h2v1h-2zM64 379h2v1h-2zM69 379h1v1h-1zM72 379h2v1h-2zM76 379h2v1h-2zM81 379h1v1h-1zM84 379h2v1h-2zM88 379h2v1h-2zM93 379h1v1h-1zM96 379h2v1h-2zM100 379h2v1h-2zM105 379h1v1h-1zM107 379h2v1h-2zM111 379h2v1h-2zM119 379h2v1h-2zM123 379h2v1h-2zM131 379h2v1h-2zM135 379h2v1h-2zM143 379h2v1h-2zM147 379h2v1h-2zM151 379h1v1h-1zM155 379h2v1h-2zM159 379h2v1h-2zM163 379h1v1h-1zM167 379h2v1h-2zM171 379h2v1h-2zM174 379h2v1h-2zM178 379h2v1h-2zM182 379h2v1h-2zM186 379h2v1h-2zM191 379h1v1h-1zM194 379h2v1h-2zM198 379h2v1h-2zM203 379h1v1h-1zM206 379h2v1h-2zM210 379h2v1h-2zM215 379h1v1h-1zM218 379h2v1h-2zM222 379h2v1h-2zM227 379h1v1h-1zM230 379h2v1h-2zM234 379h2v1h-2zM239 379h1v1h-1zM242 379h2v1h-2zM246 379h2v1h-2zM251 379h1v1h-1zM253 379h2v1h-2zM257 379h2v1h-2zM265 379h2v1h-2zM269 379h2v1h-2zM277 379h2v1h-2zM281 379h2v1h-2zM285 379h1v1h-1zM289 379h2v1h-2zM293 379h2v1h-2zM297 379h1v1h-1zM301 379h2v1h-2zM305 379h2v1h-2zM309 379h1v1h-1zM313 379h2v1h-2zM317 379h2v1h-2zM320 379h2v1h-2zM325 379h1v1h-1zM328 379h2v1h-2zM332 379h2v1h-2zM337 379h1v1h-1zM340 379h2v1h-2zM344 379h2v1h-2zM349 379h1v1h-1zM352 379h2v1h-2zM356 379h2v1h-2zM361 379h1v1h-1zM364 379h2v1h-2zM368 379h2v1h-2zM373 379h1v1h-1zM376 379h2v1h-2zM380 379h2v1h-2zM388 379h2v1h-2zM392 379h2v1h-2zM399 379h2v1h-2zM403 379h2v1h-2zM411 379h2v1h-2zM415 379h2v1h-2zM419 379h1v1h-1zM423 379h2v1h-2zM427 379h2v1h-2zM431 379h1v1h-1zM435 379h2v1h-2zM439 379h2v1h-2zM443 379h1v1h-1zM447 379h2v1h-2zM451 379h2v1h-2zM455 379h1v1h-1zM459 379h2v1h-2zM463 379h2v1h-2zM466 379h2v1h-2zM471 379h1v1h-1zM474 379h2v1h-2zM478 379h2v1h-2zM483 379h1v1h-1zM486 379h2v1h-2zM490 379h2v1h-2zM495 379h1v1h-1zM498 379h2v1h-2zM502 379h2v1h-2zM507 379h1v1h-1zM510 379h2v1h-2zM514 379h2v1h-2zM522 379h2v1h-2zM526 379h2v1h-2zM534 379h2v1h-2zM538 379h2v1h-2zM541 379h1v1h-1zM545 379h2v1h-2zM549 379h2v1h-2zM553 379h1v1h-1zM557 379h2v1h-2zM561 379h2v1h-2zM565 379h1v1h-1zM569 379h2v1h-2zM64 380h2v1h-2zM68 380h2v1h-2zM72 380h2v1h-2zM76 380h2v1h-2zM80 380h2v1h-2zM84 380h2v1h-2zM88 380h2v1h-2zM92 380h2v1h-2zM95 380h3v1h-3zM99 380h2v1h-2zM103 380h2v1h-2zM107 380h2v1h-2zM111 380h2v1h-2zM115 380h2v1h-2zM119 380h2v1h-2zM123 380h2v1h-2zM127 380h2v1h-2zM131 380h2v1h-2zM135 380h2v1h-2zM139 380h2v1h-2zM143 380h2v1h-2zM147 380h2v1h-2zM151 380h2v1h-2zM155 380h2v1h-2zM159 380h2v1h-2zM163 380h2v1h-2zM167 380h2v1h-2zM170 380h2v1h-2zM174 380h2v1h-2zM178 380h2v1h-2zM182 380h2v1h-2zM186 380h2v1h-2zM190 380h2v1h-2zM194 380h2v1h-2zM198 380h2v1h-2zM202 380h2v1h-2zM206 380h2v1h-2zM210 380h2v1h-2zM214 380h2v1h-2zM218 380h2v1h-2zM222 380h2v1h-2zM226 380h2v1h-2zM230 380h2v1h-2zM234 380h2v1h-2zM238 380h2v1h-2zM241 380h3v1h-3zM245 380h2v1h-2zM249 380h2v1h-2zM253 380h2v1h-2zM257 380h2v1h-2zM261 380h2v1h-2zM265 380h2v1h-2zM269 380h2v1h-2zM273 380h2v1h-2zM277 380h2v1h-2zM281 380h2v1h-2zM285 380h2v1h-2zM289 380h2v1h-2zM293 380h2v1h-2zM297 380h2v1h-2zM301 380h2v1h-2zM305 380h2v1h-2zM309 380h2v1h-2zM313 380h2v1h-2zM316 380h2v1h-2zM320 380h2v1h-2zM324 380h2v1h-2zM328 380h2v1h-2zM332 380h2v1h-2zM336 380h2v1h-2zM340 380h2v1h-2zM344 380h2v1h-2zM348 380h2v1h-2zM352 380h2v1h-2zM356 380h2v1h-2zM360 380h2v1h-2zM364 380h2v1h-2zM368 380h2v1h-2zM372 380h2v1h-2zM376 380h2v1h-2zM380 380h2v1h-2zM384 380h2v1h-2zM387 380h3v1h-3zM391 380h2v1h-2zM395 380h2v1h-2zM399 380h2v1h-2zM403 380h2v1h-2zM407 380h2v1h-2zM411 380h2v1h-2zM415 380h2v1h-2zM419 380h2v1h-2zM423 380h2v1h-2zM427 380h2v1h-2zM431 380h2v1h-2zM435 380h2v1h-2zM439 380h2v1h-2zM443 380h2v1h-2zM447 380h2v1h-2zM451 380h2v1h-2zM455 380h2v1h-2zM459 380h2v1h-2zM462 380h2v1h-2zM466 380h2v1h-2zM470 380h2v1h-2zM474 380h2v1h-2zM478 380h2v1h-2zM482 380h2v1h-2zM486 380h2v1h-2zM490 380h2v1h-2zM494 380h2v1h-2zM498 380h2v1h-2zM502 380h2v1h-2zM506 380h2v1h-2zM510 380h2v1h-2zM514 380h2v1h-2zM518 380h2v1h-2zM522 380h2v1h-2zM526 380h2v1h-2zM530 380h2v1h-2zM533 380h3v1h-3zM537 380h2v1h-2zM541 380h2v1h-2zM545 380h2v1h-2zM549 380h2v1h-2zM553 380h2v1h-2zM557 380h2v1h-2zM561 380h2v1h-2zM565 380h2v1h-2zM569 380h2v1h-2zM64 381h2v1h-2zM69 381h1v1h-1zM72 381h2v1h-2zM76 381h2v1h-2zM81 381h1v1h-1zM84 381h2v1h-2zM88 381h2v1h-2zM93 381h1v1h-1zM96 381h2v1h-2zM100 381h2v1h-2zM105 381h1v1h-1zM107 381h3v1h-3zM111 381h2v1h-2zM119 381h2v1h-2zM123 381h2v1h-2zM131 381h2v1h-2zM135 381h2v1h-2zM143 381h2v1h-2zM147 381h2v1h-2zM155 381h2v1h-2zM159 381h2v1h-2zM163 381h1v1h-1zM167 381h2v1h-2zM171 381h2v1h-2zM175 381h1v1h-1zM179 381h2v1h-2zM182 381h3v1h-3zM186 381h2v1h-2zM191 381h1v1h-1zM194 381h2v1h-2zM198 381h2v1h-2zM203 381h1v1h-1zM206 381h2v1h-2zM210 381h2v1h-2zM215 381h1v1h-1zM218 381h2v1h-2zM222 381h2v1h-2zM227 381h1v1h-1zM230 381h2v1h-2zM234 381h2v1h-2zM239 381h1v1h-1zM242 381h2v1h-2zM246 381h2v1h-2zM253 381h3v1h-3zM257 381h2v1h-2zM265 381h2v1h-2zM269 381h2v1h-2zM277 381h2v1h-2zM281 381h2v1h-2zM289 381h2v1h-2zM293 381h2v1h-2zM297 381h1v1h-1zM301 381h2v1h-2zM305 381h2v1h-2zM309 381h1v1h-1zM313 381h2v1h-2zM317 381h2v1h-2zM321 381h1v1h-1zM325 381h2v1h-2zM328 381h3v1h-3zM332 381h2v1h-2zM337 381h1v1h-1zM340 381h2v1h-2zM344 381h2v1h-2zM349 381h1v1h-1zM352 381h2v1h-2zM356 381h2v1h-2zM361 381h1v1h-1zM364 381h2v1h-2zM368 381h2v1h-2zM376 381h2v1h-2zM380 381h2v1h-2zM388 381h2v1h-2zM392 381h2v1h-2zM400 381h2v1h-2zM403 381h2v1h-2zM411 381h2v1h-2zM415 381h2v1h-2zM419 381h1v1h-1zM423 381h2v1h-2zM427 381h2v1h-2zM431 381h1v1h-1zM435 381h2v1h-2zM439 381h2v1h-2zM443 381h1v1h-1zM447 381h2v1h-2zM451 381h2v1h-2zM455 381h1v1h-1zM459 381h2v1h-2zM463 381h2v1h-2zM467 381h1v1h-1zM471 381h2v1h-2zM474 381h3v1h-3zM478 381h2v1h-2zM483 381h1v1h-1zM486 381h2v1h-2zM490 381h2v1h-2zM495 381h1v1h-1zM498 381h2v1h-2zM502 381h2v1h-2zM510 381h2v1h-2zM514 381h2v1h-2zM522 381h2v1h-2zM526 381h2v1h-2zM534 381h2v1h-2zM538 381h2v1h-2zM546 381h2v1h-2zM549 381h2v1h-2zM553 381h1v1h-1zM557 381h2v1h-2zM561 381h2v1h-2zM565 381h1v1h-1zM569 381h2v1h-2zM64 382h2v1h-2zM68 382h2v1h-2zM72 382h2v1h-2zM76 382h2v1h-2zM80 382h2v1h-2zM84 382h2v1h-2zM88 382h2v1h-2zM91 382h2v1h-2zM95 382h2v1h-2zM99 382h2v1h-2zM103 382h2v1h-2zM107 382h2v1h-2zM111 382h2v1h-2zM115 382h2v1h-2zM119 382h2v1h-2zM123 382h2v1h-2zM127 382h2v1h-2zM131 382h2v1h-2zM135 382h2v1h-2zM139 382h2v1h-2zM143 382h2v1h-2zM147 382h2v1h-2zM151 382h2v1h-2zM155 382h2v1h-2zM159 382h2v1h-2zM162 382h3v1h-3zM166 382h2v1h-2zM170 382h2v1h-2zM174 382h2v1h-2zM178 382h2v1h-2zM182 382h2v1h-2zM186 382h2v1h-2zM190 382h2v1h-2zM194 382h2v1h-2zM198 382h2v1h-2zM202 382h2v1h-2zM206 382h2v1h-2zM210 382h2v1h-2zM214 382h2v1h-2zM218 382h2v1h-2zM222 382h2v1h-2zM226 382h2v1h-2zM230 382h2v1h-2zM234 382h2v1h-2zM237 382h2v1h-2zM241 382h2v1h-2zM245 382h2v1h-2zM249 382h2v1h-2zM253 382h2v1h-2zM257 382h2v1h-2zM261 382h2v1h-2zM265 382h2v1h-2zM269 382h2v1h-2zM273 382h2v1h-2zM277 382h2v1h-2zM281 382h2v1h-2zM285 382h2v1h-2zM289 382h2v1h-2zM293 382h2v1h-2zM297 382h2v1h-2zM301 382h2v1h-2zM305 382h2v1h-2zM308 382h3v1h-3zM312 382h2v1h-2zM316 382h2v1h-2zM320 382h2v1h-2zM324 382h2v1h-2zM328 382h2v1h-2zM332 382h2v1h-2zM336 382h2v1h-2zM340 382h2v1h-2zM344 382h2v1h-2zM348 382h2v1h-2zM352 382h2v1h-2zM356 382h2v1h-2zM360 382h2v1h-2zM364 382h2v1h-2zM368 382h2v1h-2zM372 382h2v1h-2zM376 382h2v1h-2zM380 382h2v1h-2zM383 382h2v1h-2zM387 382h2v1h-2zM391 382h2v1h-2zM395 382h2v1h-2zM399 382h2v1h-2zM403 382h2v1h-2zM407 382h2v1h-2zM411 382h2v1h-2zM415 382h2v1h-2zM419 382h2v1h-2zM423 382h2v1h-2zM427 382h2v1h-2zM431 382h2v1h-2zM435 382h2v1h-2zM439 382h2v1h-2zM443 382h2v1h-2zM447 382h2v1h-2zM451 382h2v1h-2zM454 382h3v1h-3zM458 382h2v1h-2zM462 382h2v1h-2zM466 382h2v1h-2zM470 382h2v1h-2zM474 382h2v1h-2zM478 382h2v1h-2zM482 382h2v1h-2zM486 382h2v1h-2zM490 382h2v1h-2zM494 382h2v1h-2zM498 382h2v1h-2zM502 382h2v1h-2zM506 382h2v1h-2zM510 382h2v1h-2zM514 382h2v1h-2zM518 382h2v1h-2zM522 382h2v1h-2zM526 382h2v1h-2zM529 382h2v1h-2zM533 382h2v1h-2zM537 382h2v1h-2zM541 382h2v1h-2zM545 382h2v1h-2zM549 382h2v1h-2zM553 382h2v1h-2zM557 382h2v1h-2zM561 382h2v1h-2zM565 382h2v1h-2zM569 382h2v1h-2zM64 383h2v1h-2zM68 383h2v1h-2zM72 383h2v1h-2zM76 383h2v1h-2zM80 383h2v1h-2zM84 383h2v1h-2zM88 383h2v1h-2zM92 383h2v1h-2zM96 383h2v1h-2zM100 383h2v1h-2zM104 383h2v1h-2zM108 383h2v1h-2zM112 383h2v1h-2zM115 383h3v1h-3zM119 383h2v1h-2zM123 383h2v1h-2zM127 383h2v1h-2zM131 383h2v1h-2zM135 383h2v1h-2zM139 383h2v1h-2zM143 383h2v1h-2zM147 383h2v1h-2zM151 383h2v1h-2zM155 383h2v1h-2zM159 383h2v1h-2zM163 383h2v1h-2zM167 383h2v1h-2zM171 383h2v1h-2zM175 383h2v1h-2zM179 383h2v1h-2zM183 383h2v1h-2zM187 383h2v1h-2zM190 383h2v1h-2zM194 383h2v1h-2zM198 383h2v1h-2zM202 383h2v1h-2zM206 383h2v1h-2zM210 383h2v1h-2zM214 383h2v1h-2zM218 383h2v1h-2zM222 383h2v1h-2zM226 383h2v1h-2zM230 383h2v1h-2zM234 383h2v1h-2zM238 383h2v1h-2zM242 383h2v1h-2zM246 383h2v1h-2zM250 383h2v1h-2zM254 383h2v1h-2zM258 383h2v1h-2zM261 383h3v1h-3zM265 383h2v1h-2zM269 383h2v1h-2zM273 383h2v1h-2zM277 383h2v1h-2zM281 383h2v1h-2zM285 383h2v1h-2zM289 383h2v1h-2zM293 383h2v1h-2zM297 383h2v1h-2zM301 383h2v1h-2zM305 383h2v1h-2zM309 383h2v1h-2zM313 383h2v1h-2zM317 383h2v1h-2zM321 383h2v1h-2zM325 383h2v1h-2zM329 383h2v1h-2zM333 383h2v1h-2zM336 383h2v1h-2zM340 383h2v1h-2zM344 383h2v1h-2zM348 383h2v1h-2zM352 383h2v1h-2zM356 383h2v1h-2zM360 383h2v1h-2zM364 383h2v1h-2zM368 383h2v1h-2zM372 383h2v1h-2zM376 383h2v1h-2zM380 383h2v1h-2zM384 383h2v1h-2zM388 383h2v1h-2zM392 383h2v1h-2zM396 383h2v1h-2zM400 383h2v1h-2zM404 383h2v1h-2zM407 383h3v1h-3zM411 383h2v1h-2zM415 383h2v1h-2zM419 383h2v1h-2zM423 383h2v1h-2zM427 383h2v1h-2zM431 383h2v1h-2zM435 383h2v1h-2zM439 383h2v1h-2zM443 383h2v1h-2zM447 383h2v1h-2zM451 383h2v1h-2zM455 383h2v1h-2zM459 383h2v1h-2zM463 383h2v1h-2zM467 383h2v1h-2zM471 383h2v1h-2zM475 383h2v1h-2zM479 383h2v1h-2zM482 383h2v1h-2zM486 383h2v1h-2zM490 383h2v1h-2zM494 383h2v1h-2zM498 383h2v1h-2zM502 383h2v1h-2zM506 383h2v1h-2zM510 383h2v1h-2zM514 383h2v1h-2zM518 383h2v1h-2zM522 383h2v1h-2zM526 383h2v1h-2zM530 383h2v1h-2zM534 383h2v1h-2zM538 383h2v1h-2zM542 383h2v1h-2zM546 383h2v1h-2zM550 383h2v1h-2zM553 383h3v1h-3zM557 383h2v1h-2zM561 383h2v1h-2zM565 383h2v1h-2zM569 383h2v1h-2zM64 384h2v1h-2zM68 384h2v1h-2zM72 384h2v1h-2zM76 384h2v1h-2zM80 384h2v1h-2zM83 384h3v1h-3zM87 384h2v1h-2zM91 384h2v1h-2zM95 384h2v1h-2zM99 384h2v1h-2zM103 384h2v1h-2zM107 384h2v1h-2zM111 384h2v1h-2zM115 384h2v1h-2zM119 384h2v1h-2zM123 384h2v1h-2zM127 384h2v1h-2zM131 384h2v1h-2zM135 384h2v1h-2zM139 384h2v1h-2zM143 384h2v1h-2zM147 384h2v1h-2zM151 384h2v1h-2zM154 384h3v1h-3zM158 384h2v1h-2zM162 384h2v1h-2zM166 384h2v1h-2zM170 384h2v1h-2zM174 384h2v1h-2zM178 384h2v1h-2zM182 384h2v1h-2zM186 384h2v1h-2zM190 384h2v1h-2zM194 384h2v1h-2zM198 384h2v1h-2zM202 384h2v1h-2zM206 384h2v1h-2zM210 384h2v1h-2zM214 384h2v1h-2zM218 384h2v1h-2zM222 384h2v1h-2zM226 384h2v1h-2zM229 384h3v1h-3zM233 384h2v1h-2zM237 384h2v1h-2zM241 384h2v1h-2zM245 384h2v1h-2zM249 384h2v1h-2zM253 384h2v1h-2zM257 384h2v1h-2zM261 384h2v1h-2zM265 384h2v1h-2zM269 384h2v1h-2zM273 384h2v1h-2zM277 384h2v1h-2zM281 384h2v1h-2zM285 384h2v1h-2zM289 384h2v1h-2zM293 384h2v1h-2zM297 384h2v1h-2zM301 384h2v1h-2zM304 384h2v1h-2zM308 384h2v1h-2zM312 384h2v1h-2zM316 384h2v1h-2zM320 384h2v1h-2zM324 384h2v1h-2zM328 384h2v1h-2zM332 384h2v1h-2zM336 384h2v1h-2zM340 384h2v1h-2zM344 384h2v1h-2zM348 384h2v1h-2zM352 384h2v1h-2zM356 384h2v1h-2zM360 384h2v1h-2zM364 384h2v1h-2zM368 384h2v1h-2zM372 384h2v1h-2zM375 384h3v1h-3zM379 384h2v1h-2zM383 384h2v1h-2zM387 384h2v1h-2zM391 384h2v1h-2zM395 384h2v1h-2zM399 384h2v1h-2zM403 384h2v1h-2zM407 384h2v1h-2zM411 384h2v1h-2zM415 384h2v1h-2zM419 384h2v1h-2zM423 384h2v1h-2zM427 384h2v1h-2zM431 384h2v1h-2zM435 384h2v1h-2zM439 384h2v1h-2zM443 384h2v1h-2zM447 384h2v1h-2zM450 384h2v1h-2zM454 384h2v1h-2zM458 384h2v1h-2zM462 384h2v1h-2zM466 384h2v1h-2zM470 384h2v1h-2zM474 384h2v1h-2zM478 384h2v1h-2zM482 384h2v1h-2zM486 384h2v1h-2zM490 384h2v1h-2zM494 384h2v1h-2zM498 384h2v1h-2zM502 384h2v1h-2zM506 384h2v1h-2zM510 384h2v1h-2zM514 384h2v1h-2zM518 384h2v1h-2zM521 384h3v1h-3zM525 384h2v1h-2zM529 384h2v1h-2zM533 384h2v1h-2zM537 384h2v1h-2zM541 384h2v1h-2zM545 384h2v1h-2zM549 384h2v1h-2zM553 384h2v1h-2zM557 384h2v1h-2zM561 384h2v1h-2zM565 384h2v1h-2zM569 384h2v1h-2zM64 385h2v1h-2zM68 385h2v1h-2zM72 385h2v1h-2zM76 385h2v1h-2zM80 385h2v1h-2zM84 385h2v1h-2zM88 385h2v1h-2zM92 385h2v1h-2zM96 385h2v1h-2zM100 385h2v1h-2zM104 385h2v1h-2zM108 385h2v1h-2zM112 385h2v1h-2zM116 385h2v1h-2zM120 385h2v1h-2zM123 385h2v1h-2zM127 385h2v1h-2zM131 385h2v1h-2zM135 385h2v1h-2zM139 385h2v1h-2zM143 385h2v1h-2zM147 385h2v1h-2zM151 385h2v1h-2zM155 385h2v1h-2zM159 385h2v1h-2zM163 385h2v1h-2zM167 385h2v1h-2zM171 385h2v1h-2zM175 385h2v1h-2zM179 385h2v1h-2zM183 385h2v1h-2zM187 385h2v1h-2zM191 385h2v1h-2zM194 385h3v1h-3zM198 385h2v1h-2zM202 385h2v1h-2zM206 385h2v1h-2zM210 385h2v1h-2zM214 385h2v1h-2zM218 385h2v1h-2zM222 385h2v1h-2zM226 385h2v1h-2zM230 385h2v1h-2zM234 385h2v1h-2zM238 385h2v1h-2zM242 385h2v1h-2zM246 385h2v1h-2zM250 385h2v1h-2zM254 385h2v1h-2zM258 385h2v1h-2zM262 385h2v1h-2zM266 385h2v1h-2zM269 385h2v1h-2zM273 385h2v1h-2zM277 385h2v1h-2zM281 385h2v1h-2zM285 385h2v1h-2zM289 385h2v1h-2zM293 385h2v1h-2zM297 385h2v1h-2zM301 385h2v1h-2zM305 385h2v1h-2zM309 385h2v1h-2zM313 385h2v1h-2zM317 385h2v1h-2zM321 385h2v1h-2zM325 385h2v1h-2zM329 385h2v1h-2zM333 385h2v1h-2zM337 385h2v1h-2zM340 385h3v1h-3zM344 385h2v1h-2zM348 385h2v1h-2zM352 385h2v1h-2zM356 385h2v1h-2zM360 385h2v1h-2zM364 385h2v1h-2zM368 385h2v1h-2zM372 385h2v1h-2zM376 385h2v1h-2zM380 385h2v1h-2zM384 385h2v1h-2zM388 385h2v1h-2zM392 385h2v1h-2zM396 385h2v1h-2zM400 385h2v1h-2zM404 385h2v1h-2zM408 385h2v1h-2zM412 385h2v1h-2zM415 385h2v1h-2zM419 385h2v1h-2zM423 385h2v1h-2zM427 385h2v1h-2zM431 385h2v1h-2zM435 385h2v1h-2zM439 385h2v1h-2zM443 385h2v1h-2zM447 385h2v1h-2zM451 385h2v1h-2zM455 385h2v1h-2zM459 385h2v1h-2zM463 385h2v1h-2zM467 385h2v1h-2zM471 385h2v1h-2zM475 385h2v1h-2zM479 385h2v1h-2zM483 385h2v1h-2zM486 385h3v1h-3zM490 385h2v1h-2zM494 385h2v1h-2zM498 385h2v1h-2zM502 385h2v1h-2zM506 385h2v1h-2zM510 385h2v1h-2zM514 385h2v1h-2zM518 385h2v1h-2zM522 385h2v1h-2zM526 385h2v1h-2zM530 385h2v1h-2zM534 385h2v1h-2zM538 385h2v1h-2zM542 385h2v1h-2zM546 385h2v1h-2zM550 385h2v1h-2zM554 385h2v1h-2zM558 385h2v1h-2zM561 385h2v1h-2zM565 385h2v1h-2zM569 385h2v1h-2zM64 386h2v1h-2zM68 386h2v1h-2zM72 386h2v1h-2zM75 386h3v1h-3zM79 386h2v1h-2zM83 386h2v1h-2zM87 386h2v1h-2zM91 386h2v1h-2zM95 386h2v1h-2zM99 386h2v1h-2zM103 386h2v1h-2zM107 386h2v1h-2zM111 386h2v1h-2zM115 386h2v1h-2zM119 386h2v1h-2zM123 386h2v1h-2zM127 386h2v1h-2zM131 386h2v1h-2zM135 386h2v1h-2zM139 386h2v1h-2zM143 386h2v1h-2zM147 386h2v1h-2zM150 386h3v1h-3zM154 386h2v1h-2zM158 386h2v1h-2zM162 386h2v1h-2zM166 386h2v1h-2zM170 386h2v1h-2zM174 386h2v1h-2zM178 386h2v1h-2zM182 386h2v1h-2zM186 386h2v1h-2zM190 386h2v1h-2zM194 386h2v1h-2zM198 386h2v1h-2zM202 386h2v1h-2zM206 386h2v1h-2zM210 386h2v1h-2zM214 386h2v1h-2zM218 386h2v1h-2zM221 386h3v1h-3zM225 386h2v1h-2zM229 386h2v1h-2zM233 386h2v1h-2zM237 386h2v1h-2zM241 386h2v1h-2zM245 386h2v1h-2zM249 386h2v1h-2zM253 386h2v1h-2zM257 386h2v1h-2zM261 386h2v1h-2zM265 386h2v1h-2zM269 386h2v1h-2zM273 386h2v1h-2zM277 386h2v1h-2zM281 386h2v1h-2zM285 386h2v1h-2zM289 386h2v1h-2zM293 386h2v1h-2zM296 386h3v1h-3zM300 386h2v1h-2zM304 386h2v1h-2zM308 386h2v1h-2zM312 386h2v1h-2zM316 386h2v1h-2zM320 386h2v1h-2zM324 386h2v1h-2zM328 386h2v1h-2zM332 386h2v1h-2zM336 386h2v1h-2zM340 386h2v1h-2zM344 386h2v1h-2zM348 386h2v1h-2zM352 386h2v1h-2zM356 386h2v1h-2zM360 386h2v1h-2zM364 386h2v1h-2zM367 386h3v1h-3zM371 386h2v1h-2zM375 386h2v1h-2zM379 386h2v1h-2zM383 386h2v1h-2zM387 386h2v1h-2zM391 386h2v1h-2zM395 386h2v1h-2zM399 386h2v1h-2zM403 386h2v1h-2zM407 386h2v1h-2zM411 386h2v1h-2zM415 386h2v1h-2zM419 386h2v1h-2zM423 386h2v1h-2zM427 386h2v1h-2zM431 386h2v1h-2zM435 386h2v1h-2zM439 386h2v1h-2zM442 386h3v1h-3zM446 386h2v1h-2zM450 386h2v1h-2zM454 386h2v1h-2zM458 386h2v1h-2zM462 386h2v1h-2zM466 386h2v1h-2zM470 386h2v1h-2zM474 386h2v1h-2zM478 386h2v1h-2zM482 386h2v1h-2zM486 386h2v1h-2zM490 386h2v1h-2zM494 386h2v1h-2zM498 386h2v1h-2zM502 386h2v1h-2zM506 386h2v1h-2zM510 386h2v1h-2zM513 386h3v1h-3zM517 386h2v1h-2zM521 386h2v1h-2zM525 386h2v1h-2zM529 386h2v1h-2zM533 386h2v1h-2zM537 386h2v1h-2zM541 386h2v1h-2zM545 386h2v1h-2zM549 386h2v1h-2zM553 386h2v1h-2zM557 386h2v1h-2zM561 386h2v1h-2zM565 386h2v1h-2zM569 386h2v1h-2zM64 387h2v1h-2zM68 387h2v1h-2zM72 387h2v1h-2zM76 387h2v1h-2zM80 387h2v1h-2zM84 387h2v1h-2zM88 387h2v1h-2zM92 387h2v1h-2zM96 387h2v1h-2zM100 387h2v1h-2zM104 387h2v1h-2zM108 387h2v1h-2zM112 387h2v1h-2zM116 387h2v1h-2zM120 387h2v1h-2zM124 387h2v1h-2zM127 387h3v1h-3zM131 387h2v1h-2zM135 387h2v1h-2zM139 387h2v1h-2zM143 387h2v1h-2zM147 387h2v1h-2zM151 387h2v1h-2zM155 387h2v1h-2zM159 387h2v1h-2zM163 387h2v1h-2zM167 387h2v1h-2zM171 387h2v1h-2zM175 387h2v1h-2zM179 387h2v1h-2zM183 387h2v1h-2zM187 387h2v1h-2zM191 387h2v1h-2zM195 387h2v1h-2zM199 387h2v1h-2zM202 387h3v1h-3zM206 387h2v1h-2zM210 387h2v1h-2zM214 387h2v1h-2zM218 387h2v1h-2zM222 387h2v1h-2zM226 387h2v1h-2zM230 387h2v1h-2zM234 387h2v1h-2zM238 387h2v1h-2zM242 387h2v1h-2zM246 387h2v1h-2zM250 387h2v1h-2zM254 387h2v1h-2zM258 387h2v1h-2zM262 387h2v1h-2zM266 387h2v1h-2zM270 387h2v1h-2zM273 387h3v1h-3zM277 387h2v1h-2zM281 387h2v1h-2zM285 387h2v1h-2zM289 387h2v1h-2zM293 387h2v1h-2zM297 387h2v1h-2zM301 387h2v1h-2zM305 387h2v1h-2zM309 387h2v1h-2zM313 387h2v1h-2zM317 387h2v1h-2zM321 387h2v1h-2zM325 387h2v1h-2zM329 387h2v1h-2zM333 387h2v1h-2zM337 387h2v1h-2zM341 387h2v1h-2zM345 387h2v1h-2zM348 387h3v1h-3zM352 387h2v1h-2zM356 387h2v1h-2zM360 387h2v1h-2zM364 387h2v1h-2zM368 387h2v1h-2zM372 387h2v1h-2zM376 387h2v1h-2zM380 387h2v1h-2zM384 387h2v1h-2zM388 387h2v1h-2zM392 387h2v1h-2zM396 387h2v1h-2zM400 387h2v1h-2zM404 387h2v1h-2zM408 387h2v1h-2zM412 387h2v1h-2zM416 387h2v1h-2zM419 387h3v1h-3zM423 387h3v1h-3zM427 387h2v1h-2zM431 387h2v1h-2zM435 387h2v1h-2zM439 387h2v1h-2zM443 387h2v1h-2zM447 387h2v1h-2zM451 387h2v1h-2zM455 387h2v1h-2zM459 387h2v1h-2zM463 387h2v1h-2zM467 387h2v1h-2zM471 387h2v1h-2zM475 387h2v1h-2zM479 387h2v1h-2zM483 387h2v1h-2zM487 387h2v1h-2zM491 387h2v1h-2zM494 387h3v1h-3zM498 387h2v1h-2zM502 387h2v1h-2zM506 387h2v1h-2zM510 387h2v1h-2zM514 387h2v1h-2zM518 387h2v1h-2zM522 387h2v1h-2zM526 387h2v1h-2zM530 387h2v1h-2zM534 387h2v1h-2zM538 387h2v1h-2zM542 387h2v1h-2zM546 387h2v1h-2zM550 387h2v1h-2zM554 387h2v1h-2zM558 387h2v1h-2zM562 387h2v1h-2zM565 387h3v1h-3zM569 387h3v1h-3zM64 388h2v1h-2zM67 388h3v1h-3zM71 388h3v1h-3zM75 388h3v1h-3zM79 388h3v1h-3zM83 388h3v1h-3zM87 388h3v1h-3zM91 388h3v1h-3zM95 388h3v1h-3zM99 388h3v1h-3zM103 388h3v1h-3zM107 388h3v1h-3zM111 388h3v1h-3zM115 388h3v1h-3zM119 388h3v1h-3zM123 388h3v1h-3zM127 388h3v1h-3zM131 388h3v1h-3zM135 388h6v1h-6zM142 388h3v1h-3zM146 388h3v1h-3zM150 388h3v1h-3zM154 388h3v1h-3zM158 388h3v1h-3zM162 388h3v1h-3zM166 388h3v1h-3zM170 388h3v1h-3zM174 388h3v1h-3zM178 388h3v1h-3zM182 388h3v1h-3zM186 388h3v1h-3zM190 388h3v1h-3zM194 388h3v1h-3zM198 388h3v1h-3zM202 388h3v1h-3zM206 388h3v1h-3zM210 388h2v1h-2zM213 388h3v1h-3zM217 388h3v1h-3zM221 388h3v1h-3zM225 388h3v1h-3zM229 388h3v1h-3zM233 388h3v1h-3zM237 388h3v1h-3zM241 388h3v1h-3zM245 388h3v1h-3zM249 388h3v1h-3zM253 388h3v1h-3zM257 388h3v1h-3zM261 388h3v1h-3zM265 388h3v1h-3zM269 388h3v1h-3zM273 388h3v1h-3zM277 388h3v1h-3zM281 388h6v1h-6zM288 388h3v1h-3zM292 388h3v1h-3zM296 388h3v1h-3zM300 388h3v1h-3zM304 388h3v1h-3zM308 388h3v1h-3zM312 388h3v1h-3zM316 388h3v1h-3zM320 388h3v1h-3zM324 388h3v1h-3zM328 388h3v1h-3zM332 388h3v1h-3zM336 388h3v1h-3zM340 388h3v1h-3zM344 388h3v1h-3zM348 388h3v1h-3zM352 388h3v1h-3zM356 388h2v1h-2zM359 388h3v1h-3zM363 388h3v1h-3zM367 388h3v1h-3zM371 388h3v1h-3zM375 388h3v1h-3zM379 388h3v1h-3zM383 388h3v1h-3zM387 388h3v1h-3zM391 388h3v1h-3zM395 388h3v1h-3zM399 388h3v1h-3zM403 388h3v1h-3zM407 388h3v1h-3zM411 388h3v1h-3zM415 388h3v1h-3zM419 388h3v1h-3zM423 388h3v1h-3zM427 388h6v1h-6zM434 388h3v1h-3zM438 388h3v1h-3zM442 388h3v1h-3zM446 388h3v1h-3zM450 388h3v1h-3zM454 388h3v1h-3zM458 388h3v1h-3zM462 388h3v1h-3zM466 388h3v1h-3zM470 388h3v1h-3zM474 388h3v1h-3zM478 388h3v1h-3zM482 388h3v1h-3zM486 388h3v1h-3zM490 388h3v1h-3zM494 388h3v1h-3zM498 388h3v1h-3zM502 388h2v1h-2zM505 388h3v1h-3zM509 388h3v1h-3zM513 388h3v1h-3zM517 388h3v1h-3zM521 388h3v1h-3zM525 388h3v1h-3zM529 388h3v1h-3zM533 388h3v1h-3zM537 388h3v1h-3zM541 388h3v1h-3zM545 388h3v1h-3zM549 388h3v1h-3zM553 388h3v1h-3zM557 388h3v1h-3zM561 388h3v1h-3zM565 388h3v1h-3zM569 388h3v1h-3zM64 389h2v1h-2zM68 389h1v1h-1zM72 389h1v1h-1zM76 389h1v1h-1zM80 389h1v1h-1zM84 389h1v1h-1zM88 389h1v1h-1zM92 389h1v1h-1zM96 389h1v1h-1zM100 389h1v1h-1zM104 389h1v1h-1zM108 389h1v1h-1zM112 389h1v1h-1zM116 389h1v1h-1zM120 389h1v1h-1zM124 389h1v1h-1zM128 389h1v1h-1zM132 389h1v1h-1zM136 389h1v1h-1zM139 389h1v1h-1zM143 389h1v1h-1zM147 389h1v1h-1zM151 389h1v1h-1zM155 389h1v1h-1zM159 389h1v1h-1zM163 389h1v1h-1zM167 389h1v1h-1zM171 389h1v1h-1zM175 389h1v1h-1zM179 389h1v1h-1zM183 389h1v1h-1zM187 389h1v1h-1zM191 389h1v1h-1zM195 389h1v1h-1zM199 389h1v1h-1zM203 389h1v1h-1zM207 389h1v1h-1zM210 389h2v1h-2zM214 389h1v1h-1zM218 389h1v1h-1zM222 389h1v1h-1zM226 389h1v1h-1zM230 389h1v1h-1zM234 389h1v1h-1zM238 389h1v1h-1zM242 389h1v1h-1zM246 389h1v1h-1zM250 389h1v1h-1zM254 389h1v1h-1zM258 389h1v1h-1zM262 389h1v1h-1zM266 389h1v1h-1zM270 389h1v1h-1zM274 389h1v1h-1zM278 389h1v1h-1zM282 389h1v1h-1zM285 389h1v1h-1zM289 389h1v1h-1zM293 389h1v1h-1zM297 389h1v1h-1zM301 389h1v1h-1zM305 389h1v1h-1zM309 389h1v1h-1zM313 389h1v1h-1zM317 389h1v1h-1zM321 389h1v1h-1zM325 389h1v1h-1zM329 389h1v1h-1zM333 389h1v1h-1zM337 389h1v1h-1zM341 389h1v1h-1zM345 389h1v1h-1zM349 389h1v1h-1zM353 389h1v1h-1zM356 389h2v1h-2zM360 389h1v1h-1zM364 389h1v1h-1zM368 389h1v1h-1zM372 389h1v1h-1zM376 389h1v1h-1zM380 389h1v1h-1zM384 389h1v1h-1zM388 389h1v1h-1zM392 389h1v1h-1zM396 389h1v1h-1zM400 389h1v1h-1zM404 389h1v1h-1zM408 389h1v1h-1zM412 389h1v1h-1zM416 389h1v1h-1zM420 389h1v1h-1zM424 389h1v1h-1zM428 389h1v1h-1zM431 389h1v1h-1zM435 389h1v1h-1zM439 389h1v1h-1zM443 389h1v1h-1zM447 389h1v1h-1zM451 389h1v1h-1zM455 389h1v1h-1zM459 389h1v1h-1zM463 389h1v1h-1zM467 389h1v1h-1zM471 389h1v1h-1zM475 389h1v1h-1zM479 389h1v1h-1zM483 389h1v1h-1zM487 389h1v1h-1zM491 389h1v1h-1zM495 389h1v1h-1zM499 389h1v1h-1zM502 389h2v1h-2zM506 389h1v1h-1zM510 389h1v1h-1zM514 389h1v1h-1zM518 389h1v1h-1zM522 389h1v1h-1zM526 389h1v1h-1zM530 389h1v1h-1zM534 389h1v1h-1zM538 389h1v1h-1zM542 389h1v1h-1zM546 389h1v1h-1zM550 389h1v1h-1zM554 389h1v1h-1zM558 389h1v1h-1zM562 389h1v1h-1zM566 389h1v1h-1zM570 389h1v1h-1z" fill="#00ffff" shape-rendering="crispEdges"/>
<path d="M72 318h3v1h-3zM84 318h4v1h-4zM96 318h4v1h-4zM108 318h4v1h-4zM120 318h4v1h-4zM133 318h3v1h-3zM145 318h4v1h-4zM157 318h4v1h-4zM169 318h4v1h-4zM181 318h4v1h-4zM193 318h4v1h-4zM206 318h3v1h-3zM218 318h4v1h-4zM230 318h4v1h-4zM242 318h4v1h-4zM254 318h4v1h-4zM267 318h3v1h-3zM279 318h4v1h-4zM291 318h4v1h-4zM303 318h4v1h-4zM315 318h4v1h-4zM328 318h3v1h-3zM340 318h4v1h-4zM352 318h4v1h-4zM364 318h4v1h-4zM376 318h4v1h-4zM389 318h3v1h-3zM401 318h4v1h-4zM413 318h4v1h-4zM425 318h4v1h-4zM437 318h4v1h-4zM449 318h4v1h-4zM462 318h3v1h-3zM474 318h4v1h-4zM486 318h4v1h-4zM498 318h4v1h-4zM510 318h4v1h-4zM523 318h3v1h-3zM535 318h4v1h-4zM547 318h4v1h-4zM559 318h4v1h-4zM571 318h2v1h-2zM62 319h2v1h-2zM71 319h5v1h-5zM83 319h5v1h-5zM95 319h5v1h-5zM108 319h4v1h-4zM120 319h5v1h-5zM132 319h5v1h-5zM144 319h5v1h-5zM156 319h5v1h-5zM169 319h4v1h-4zM181 319h5v1h-5zM193 319h5v1h-5zM205 319h5v1h-5zM217 319h5v1h-5zM230 319h4v1h-4zM242 319h5v1h-5zM254 319h5v1h-5zM266 319h5v1h-5zM278 319h5v1h-5zM291 319h4v1h-4zM303 319h5v1h-5zM315 319h5v1h-5zM327 319h5v1h-5zM339 319h5v1h-5zM351 319h5v1h-5zM364 319h4v1h-4zM376 319h5v1h-5zM388 319h5v1h-5zM400 319h5v1h-5zM412 319h5v1h-5zM425 319h4v1h-4zM437 319h5v1h-5zM449 319h5v1h-5zM461 319h5v1h-5zM473 319h5v1h-5zM486 319h4v1h-4zM498 319h5v1h-5zM510 319h5v1h-5zM522 319h5v1h-5zM534 319h5v1h-5zM547 319h4v1h-4zM559 319h4v1h-4zM571 319h2v1h-2zM62 320h2v1h-2zM71 320h2v1h-2zM74 320h2v1h-2zM83 320h2v1h-2zM86 320h2v1h-2zM95 320h2v1h-2zM98 320h3v1h-3zM107 320h6v1h-6zM120 320h2v1h-2zM123 320h2v1h-2zM132 320h2v1h-2zM135 320h2v1h-2zM144 320h2v1h-2zM147 320h2v1h-2zM156 320h2v1h-2zM159 320h3v1h-3zM168 320h6v1h-6zM181 320h2v1h-2zM184 320h2v1h-2zM193 320h2v1h-2zM196 320h2v1h-2zM205 320h2v1h-2zM208 320h2v1h-2zM217 320h2v1h-2zM220 320h2v1h-2zM229 320h6v1h-6zM241 320h3v1h-3zM245 320h2v1h-2zM254 320h2v1h-2zM257 320h2v1h-2zM266 320h2v1h-2zM269 320h2v1h-2zM278 320h2v1h-2zM281 320h2v1h-2zM290 320h6v1h-6zM302 320h3v1h-3zM306 320h2v1h-2zM315 320h2v1h-2zM318 320h2v1h-2zM327 320h2v1h-2zM330 320h2v1h-2zM339 320h2v1h-2zM342 320h2v1h-2zM351 320h2v1h-2zM354 320h3v1h-3zM363 320h6v1h-6zM376 320h2v1h-2zM379 320h2v1h-2zM388 320h2v1h-2zM391 320h2v1h-2zM400 320h2v1h-2zM403 320h2v1h-2zM412 320h2v1h-2zM415 320h3v1h-3zM424 320h6v1h-6zM436 320h3v1h-3zM440 320h2v1h-2zM449 320h2v1h-2zM452 320h2v1h-2zM461 320h2v1h-2zM464 320h2v1h-2zM473 320h2v1h-2zM476 320h2v1h-2zM485 320h6v1h-6zM497 320h3v1h-3zM501 320h2v1h-2zM510 320h2v1h-2zM513 320h2v1h-2zM522 320h2v1h-2zM525 320h2v1h-2zM534 320h2v1h-2zM537 320h2v1h-2zM546 320h2v1h-2zM549 320h3v1h-3zM558 320h3v1h-3zM562 320h2v1h-2zM571 320h2v1h-2zM62 321h2v1h-2zM71 321h2v1h-2zM74 321h2v1h-2zM83 321h2v1h-2zM86 321h3v1h-3zM95 321h2v1h-2zM99 321h2v1h-2zM107 321h2v1h-2zM111 321h2v1h-2zM119 321h3v1h-3zM123 321h2v1h-2zM131 321h3v1h-3zM135 321h2v1h-2zM144 321h2v1h-2zM147 321h3v1h-3zM156 321h2v1h-2zM160 321h2v1h-2zM168 321h2v1h-2zM172 321h2v1h-2zM180 321h2v1h-2zM184 321h2v1h-2zM192 321h3v1h-3zM196 321h2v1h-2zM205 321h2v1h-2zM208 321h3v1h-3zM217 321h2v1h-2zM220 321h3v1h-3zM229 321h2v1h-2zM233 321h2v1h-2zM241 321h2v1h-2zM245 321h2v1h-2zM253 321h3v1h-3zM257 321h2v1h-2zM266 321h2v1h-2zM269 321h2v1h-2zM278 321h2v1h-2zM281 321h3v1h-3zM290 321h2v1h-2zM294 321h2v1h-2zM302 321h2v1h-2zM306 321h2v1h-2zM314 321h3v1h-3zM318 321h2v1h-2zM327 321h2v1h-2zM330 321h2v1h-2zM339 321h2v1h-2zM342 321h3v1h-3zM351 321h2v1h-2zM355 321h2v1h-2zM363 321h2v1h-2zM367 321h2v1h-2zM375 321h3v1h-3zM379 321h2v1h-2zM387 321h3v1h-3zM391 321h2v1h-2zM400 321h2v1h-2zM403 321h3v1h-3zM412 321h2v1h-2zM416 321h2v1h-2zM424 321h2v1h-2zM428 321h2v1h-2zM436 321h2v1h-2zM440 321h2v1h-2zM448 321h3v1h-3zM452 321h2v1h-2zM461 321h2v1h-2zM464 321h3v1h-3zM473 321h2v1h-2zM476 321h3v1h-3zM485 321h2v1h-2zM489 321h2v1h-2zM497 321h2v1h-2zM501 321h2v1h-2zM509 321h3v1h-3zM513 321h2v1h-2zM522 321h2v1h-2zM525 321h2v1h-2zM534 321h2v1h-2zM537 321h3v1h-3zM546 321h2v1h-2zM550 321h2v1h-2zM558 321h2v1h-2zM562 321h2v1h-2zM570 321h3v1h-3zM62 322h2v1h-2zM70 322h3v1h-3zM74 322h3v1h-3zM83 322h2v1h-2zM87 322h2v1h-2zM95 322h2v1h-2zM99 322h2v1h-2zM107 322h2v1h-2zM111 322h2v1h-2zM119 322h2v1h-2zM123 322h2v1h-2zM131 322h2v1h-2zM135 322h3v1h-3zM143 322h3v1h-3zM148 322h2v1h-2zM156 322h2v1h-2zM160 322h2v1h-2zM168 322h2v1h-2zM172 322h2v1h-2zM180 322h2v1h-2zM184 322h2v1h-2zM192 322h2v1h-2zM196 322h3v1h-3zM204 322h3v1h-3zM209 322h2v1h-2zM217 322h2v1h-2zM221 322h2v1h-2zM229 322h2v1h-2zM233 322h2v1h-2zM241 322h2v1h-2zM245 322h2v1h-2zM253 322h2v1h-2zM257 322h2v1h-2zM265 322h3v1h-3zM269 322h3v1h-3zM278 322h2v1h-2zM282 322h2v1h-2zM290 322h2v1h-2zM294 322h2v1h-2zM302 322h2v1h-2zM306 322h2v1h-2zM314 322h2v1h-2zM318 322h2v1h-2zM326 322h3v1h-3zM330 322h3v1h-3zM339 322h2v1h-2zM343 322h2v1h-2zM351 322h2v1h-2zM355 322h2v1h-2zM363 322h2v1h-2zM367 322h2v1h-2zM375 322h2v1h-2zM379 322h2v1h-2zM387 322h2v1h-2zM391 322h3v1h-3zM399 322h3v1h-3zM404 322h2v1h-2zM412 322h2v1h-2zM416 322h2v1h-2zM424 322h2v1h-2zM428 322h2v1h-2zM436 322h2v1h-2zM440 322h2v1h-2zM448 322h2v1h-2zM452 322h3v1h-3zM460 322h3v1h-3zM465 322h2v1h-2zM473 322h2v1h-2zM477 322h2v1h-2zM485 322h2v1h-2zM489 322h2v1h-2zM497 322h2v1h-2zM501 322h2v1h-2zM509 322h2v1h-2zM513 322h2v1h-2zM521 322h3v1h-3zM525 322h3v1h-3zM534 322h2v1h-2zM538 322h2v1h-2zM546 322h2v1h-2zM550 322h2v1h-2zM558 322h2v1h-2zM562 322h2v1h-2zM570 322h2v1h-2zM62 323h3v1h-3zM70 323h2v1h-2zM75 323h2v1h-2zM82 323h3v1h-3zM87 323h2v1h-2zM95 323h2v1h-2zM99 323h2v1h-2zM107 323h2v1h-2zM111 323h2v1h-2zM119 323h2v1h-2zM123 323h3v1h-3zM131 323h2v1h-2zM136 323h2v1h-2zM143 323h2v1h-2zM148 323h2v1h-2zM155 323h3v1h-3zM160 323h2v1h-2zM168 323h2v1h-2zM172 323h2v1h-2zM180 323h2v1h-2zM184 323h3v1h-3zM192 323h2v1h-2zM197 323h2v1h-2zM204 323h2v1h-2zM209 323h2v1h-2zM216 323h3v1h-3zM221 323h2v1h-2zM229 323h2v1h-2zM233 323h2v1h-2zM241 323h2v1h-2zM245 323h2v1h-2zM253 323h2v1h-2zM258 323h2v1h-2zM265 323h2v1h-2zM270 323h2v1h-2zM277 323h3v1h-3zM282 323h2v1h-2zM290 323h2v1h-2zM294 323h2v1h-2zM302 323h2v1h-2zM306 323h2v1h-2zM314 323h2v1h-2zM318 323h3v1h-3zM326 323h2v1h-2zM331 323h2v1h-2zM338 323h3v1h-3zM343 323h2v1h-2zM351 323h2v1h-2zM355 323h2v1h-2zM363 323h2v1h-2zM367 323h2v1h-2zM375 323h2v1h-2zM379 323h3v1h-3zM387 323h2v1h-2zM392 323h2v1h-2zM399 323h2v1h-2zM404 323h2v1h-2zM411 323h3v1h-3zM416 323h2v1h-2zM424 323h2v1h-2zM428 323h2v1h-2zM436 323h2v1h-2zM440 323h3v1h-3zM448 323h2v1h-2zM453 323h2v1h-2zM460 323h2v1h-2zM465 323h2v1h-2zM472 323h3v1h-3zM477 323h2v1h-2zM485 323h2v1h-2zM489 323h2v1h-2zM497 323h2v1h-2zM501 323h2v1h-2zM509 323h2v1h-2zM513 323h3v1h-3zM521 323h2v1h-2zM526 323h2v1h-2zM533 323h3v1h-3zM538 323h2v1h-2zM546 323h2v1h-2zM550 323h2v1h-2zM558 323h2v1h-2zM562 323h2v1h-2zM570 323h2v1h-2zM63 324h2v1h-2zM70 324h2v1h-2zM75 324h2v1h-2zM82 324h2v1h-2zM87 324h2v1h-2zM94 324h3v1h-3zM99 324h2v1h-2zM107 324h2v1h-2zM111 324h3v1h-3zM119 324h2v1h-2zM124 324h2v1h-2zM131 324h2v1h-2zM136 324h2v1h-2zM143 324h2v1h-2zM148 324h2v1h-2zM155 324h2v1h-2zM160 324h2v1h-2zM168 324h2v1h-2zM172 324h3v1h-3zM180 324h2v1h-2zM185 324h2v1h-2zM192 324h2v1h-2zM197 324h2v1h-2zM204 324h2v1h-2zM209 324h2v1h-2zM216 324h2v1h-2zM221 324h2v1h-2zM228 324h3v1h-3zM233 324h2v1h-2zM241 324h2v1h-2zM245 324h3v1h-3zM253 324h2v1h-2zM258 324h2v1h-2zM265 324h2v1h-2zM270 324h2v1h-2zM277 324h2v1h-2zM282 324h2v1h-2zM289 324h3v1h-3zM294 324h2v1h-2zM302 324h2v1h-2zM306 324h3v1h-3zM314 324h2v1h-2zM319 324h2v1h-2zM326 324h2v1h-2zM331 324h2v1h-2zM338 324h2v1h-2zM343 324h2v1h-2zM350 324h3v1h-3zM355 324h2v1h-2zM363 324h2v1h-2zM367 324h3v1h-3zM375 324h2v1h-2zM380 324h2v1h-2zM387 324h2v1h-2zM392 324h2v1h-2zM399 324h2v1h-2zM404 324h2v1h-2zM411 324h2v1h-2zM416 324h2v1h-2zM424 324h2v1h-2zM428 324h3v1h-3zM436 324h2v1h-2zM441 324h2v1h-2zM448 324h2v1h-2zM453 324h2v1h-2zM460 324h2v1h-2zM465 324h2v1h-2zM472 324h2v1h-2zM477 324h2v1h-2zM484 324h3v1h-3zM489 324h2v1h-2zM497 324h2v1h-2zM501 324h3v1h-3zM509 324h2v1h-2zM514 324h2v1h-2zM521 324h2v1h-2zM526 324h2v1h-2zM533 324h2v1h-2zM538 324h2v1h-2zM545 324h3v1h-3zM550 324h2v1h-2zM558 324h2v1h-2zM562 324h3v1h-3zM570 324h2v1h-2zM63 325h2v1h-2zM70 325h2v1h-2zM75 325h2v1h-2zM82 325h2v1h-2zM87 325h2v1h-2zM94 325h2v1h-2zM99 325h3v1h-3zM106 325h3v1h-3zM112 325h2v1h-2zM119 325h2v1h-2zM124 325h2v1h-2zM131 325h2v1h-2zM136 325h2v1h-2zM143 325h2v1h-2zM148 325h2v1h-2zM155 325h2v1h-2zM160 325h2v1h-2zM167 325h3v1h-3zM173 325h2v1h-2zM180 325h2v1h-2zM185 325h2v1h-2zM192 325h2v1h-2zM197 325h2v1h-2zM204 325h2v1h-2zM209 325h2v1h-2zM216 325h2v1h-2zM221 325h2v1h-2zM228 325h2v1h-2zM233 325h3v1h-3zM241 325h2v1h-2zM246 325h2v1h-2zM253 325h2v1h-2zM258 325h2v1h-2zM265 325h2v1h-2zM270 325h2v1h-2zM277 325h2v1h-2zM282 325h2v1h-2zM289 325h2v1h-2zM294 325h3v1h-3zM301 325h3v1h-3zM307 325h2v1h-2zM314 325h2v1h-2zM319 325h2v1h-2zM326 325h2v1h-2zM331 325h2v1h-2zM338 325h2v1h-2zM343 325h2v1h-2zM350 325h2v1h-2zM355 325h3v1h-3zM362 325h3v1h-3zM368 325h2v1h-2zM375 325h2v1h-2zM380 325h2v1h-2zM387 325h2v1h-2zM392 325h2v1h-2zM399 325h2v1h-2zM404 325h2v1h-2zM411 325h2v1h-2zM416 325h2v1h-2zM423 325h2v1h-2zM429 325h2v1h-2zM436 325h2v1h-2zM441 325h2v1h-2zM448 325h2v1h-2zM453 325h2v1h-2zM460 325h2v1h-2zM465 325h2v1h-2zM472 325h2v1h-2zM477 325h2v1h-2zM484 325h2v1h-2zM489 325h3v1h-3zM496 325h3v1h-3zM502 325h2v1h-2zM509 325h2v1h-2zM514 325h2v1h-2zM521 325h2v1h-2zM526 325h2v1h-2zM533 325h2v1h-2zM538 325h2v1h-2zM545 325h2v1h-2zM550 325h3v1h-3zM557 325h3v1h-3zM563 325h2v1h-2zM570 325h2v1h-2zM63 326h2v1h-2zM70 326h2v1h-2zM75 326h2v1h-2zM82 326h2v1h-2zM87 326h2v1h-2zM94 326h2v1h-2zM100 326h2v1h-2zM106 326h2v1h-2zM112 326h2v1h-2zM118 326h3v1h-3zM124 326h2v1h-2zM131 326h2v1h-2zM136 326h2v1h-2zM143 326h2v1h-2zM148 326h2v1h-2zM155 326h2v1h-2zM160 326h3v1h-3zM167 326h2v1h-2zM173 326h2v1h-2zM179 326h3v1h-3zM185 326h2v1h-2zM192 326h2v1h-2zM197 326h2v1h-2zM204 326h2v1h-2zM209 326h2v1h-2zM216 326h2v1h-2zM221 326h3v1h-3zM228 326h2v1h-2zM234 326h2v1h-2zM240 326h2v1h-2zM246 326h2v1h-2zM253 326h2v1h-2zM258 326h2v1h-2zM265 326h2v1h-2zM270 326h2v1h-2zM277 326h2v1h-2zM282 326h3v1h-3zM289 326h2v1h-2zM295 326h2v1h-2zM301 326h2v1h-2zM307 326h2v1h-2zM314 326h2v1h-2zM319 326h2v1h-2zM326 326h2v1h-2zM331 326h2v1h-2zM338 326h2v1h-2zM343 326h2v1h-2zM350 326h2v1h-2zM356 326h2v1h-2zM362 326h2v1h-2zM368 326h2v1h-2zM374 326h3v1h-3zM380 326h2v1h-2zM387 326h2v1h-2zM392 326h2v1h-2zM399 326h2v1h-2zM404 326h2v1h-2zM411 326h2v1h-2zM416 326h3v1h-3zM423 326h2v1h-2zM429 326h2v1h-2zM435 326h3v1h-3zM441 326h2v1h-2zM448 326h2v1h-2zM453 326h2v1h-2zM460 326h2v1h-2zM465 326h2v1h-2zM472 326h2v1h-2zM477 326h3v1h-3zM484 326h2v1h-2zM490 326h2v1h-2zM496 326h2v1h-2zM502 326h2v1h-2zM509 326h2v1h-2zM514 326h2v1h-2zM521 326h2v1h-2zM526 326h2v1h-2zM533 326h2v1h-2zM538 326h3v1h-3zM545 326h2v1h-2zM551 326h2v1h-2zM557 326h2v1h-2zM563 326h2v1h-2zM569 326h3v1h-3zM63 327h2v1h-2zM70 327h2v1h-2zM75 327h2v1h-2zM82 327h2v1h-2zM87 327h3v1h-3zM94 327h2v1h-2zM100 327h2v1h-2zM106 327h2v1h-2zM112 327h2v1h-2zM118 327h2v1h-2zM124 327h2v1h-2zM131 327h2v1h-2zM136 327h2v1h-2zM143 327h2v1h-2zM148 327h3v1h-3zM155 327h2v1h-2zM161 327h2v1h-2zM167 327h2v1h-2zM173 327h2v1h-2zM179 327h2v1h-2zM185 327h2v1h-2zM191 327h3v1h-3zM197 327h2v1h-2zM204 327h2v1h-2zM209 327h3v1h-3zM216 327h2v1h-2zM222 327h2v1h-2zM228 327h2v1h-2zM234 327h2v1h-2zM240 327h2v1h-2zM246 327h2v1h-2zM252 327h3v1h-3zM258 327h2v1h-2zM265 327h2v1h-2zM270 327h2v1h-2zM277 327h2v1h-2zM283 327h2v1h-2zM289 327h2v1h-2zM295 327h2v1h-2zM301 327h2v1h-2zM307 327h2v1h-2zM313 327h2v1h-2zM319 327h2v1h-2zM326 327h2v1h-2zM331 327h2v1h-2zM338 327h2v1h-2zM343 327h3v1h-3zM350 327h2v1h-2zM356 327h2v1h-2zM362 327h2v1h-2zM368 327h2v1h-2zM374 327h2v1h-2zM380 327h2v1h-2zM387 327h2v1h-2zM392 327h2v1h-2zM399 327h2v1h-2zM404 327h3v1h-3zM411 327h2v1h-2zM417 327h2v1h-2zM423 327h2v1h-2zM429 327h2v1h-2zM435 327h2v1h-2zM441 327h2v1h-2zM447 327h3v1h-3zM453 327h2v1h-2zM460 327h2v1h-2zM465 327h2v1h-2zM472 327h2v1h-2zM478 327h2v1h-2zM484 327h2v1h-2zM490 327h2v1h-2zM496 327h2v1h-2zM502 327h2v1h-2zM508 327h3v1h-3zM514 327h2v1h-2zM521 327h2v1h-2zM526 327h2v1h-2zM533 327h2v1h-2zM539 327h2v1h-2zM545 327h2v1h-2zM551 327h2v1h-2zM557 327h2v1h-2zM563 327h2v1h-2zM569 327h2v1h-2zM63 328h2v1h-2zM69 328h3v1h-3zM75 328h3v1h-3zM82 328h2v1h-2zM88 328h2v1h-2zM94 328h2v1h-2zM100 328h2v1h-2zM106 328h2v1h-2zM112 328h2v1h-2zM118 328h2v1h-2zM124 328h2v1h-2zM130 328h3v1h-3zM136 328h2v1h-2zM143 328h2v1h-2zM149 328h2v1h-2zM155 328h2v1h-2zM161 328h2v1h-2zM167 328h2v1h-2zM173 328h2v1h-2zM179 328h2v1h-2zM185 328h2v1h-2zM191 328h2v1h-2zM197 328h2v1h-2zM204 328h2v1h-2zM210 328h2v1h-2zM216 328h2v1h-2zM222 328h2v1h-2zM228 328h2v1h-2zM234 328h2v1h-2zM240 328h2v1h-2zM246 328h2v1h-2zM252 328h2v1h-2zM258 328h2v1h-2zM264 328h3v1h-3zM270 328h3v1h-3zM277 328h2v1h-2zM283 328h2v1h-2zM289 328h2v1h-2zM295 328h2v1h-2zM301 328h2v1h-2zM307 328h2v1h-2zM313 328h2v1h-2zM319 328h2v1h-2zM325 328h3v1h-3zM331 328h3v1h-3zM338 328h2v1h-2zM344 328h2v1h-2zM350 328h2v1h-2zM356 328h2v1h-2zM362 328h2v1h-2zM368 328h2v1h-2zM374 328h2v1h-2zM380 328h2v1h-2zM386 328h3v1h-3zM392 328h2v1h-2zM399 328h2v1h-2zM405 328h2v1h-2zM411 328h2v1h-2zM417 328h2v1h-2zM423 328h2v1h-2zM429 328h2v1h-2zM435 328h2v1h-2zM441 328h2v1h-2zM447 328h2v1h-2zM453 328h2v1h-2zM460 328h2v1h-2zM466 328h2v1h-2zM472 328h2v1h-2zM478 328h2v1h-2zM484 328h2v1h-2zM490 328h2v1h-2zM496 328h2v1h-2zM502 328h2v1h-2zM508 328h2v1h-2zM514 328h2v1h-2zM520 328h3v1h-3zM526 328h3v1h-3zM533 328h2v1h-2zM539 328h2v1h-2zM545 328h2v1h-2zM551 328h2v1h-2zM557 328h2v1h-2zM563 328h2v1h-2zM569 328h2v1h-2zM63 329h2v1h-2zM69 329h2v1h-2zM76 329h2v1h-2zM82 329h2v1h-2zM88 329h2v1h-2zM94 329h2v1h-2zM100 329h2v1h-2zM106 329h2v1h-2zM112 329h2v1h-2zM118 329h2v1h-2zM124 329h2v1h-2zM130 329h2v1h-2zM136 329h3v1h-3zM142 329h3v1h-3zM149 329h2v1h-2zM155 329h2v1h-2zM161 329h2v1h-2zM167 329h2v1h-2zM173 329h2v1h-2zM179 329h2v1h-2zM185 329h2v1h-2zM191 329h2v1h-2zM197 329h3v1h-3zM203 329h3v1h-3zM210 329h2v1h-2zM216 329h2v1h-2zM222 329h2v1h-2zM228 329h2v1h-2zM234 329h2v1h-2zM240 329h2v1h-2zM246 329h2v1h-2zM252 329h2v1h-2zM258 329h3v1h-3zM264 329h2v1h-2zM271 329h2v1h-2zM277 329h2v1h-2zM283 329h2v1h-2zM289 329h2v1h-2zM295 329h2v1h-2zM301 329h2v1h-2zM307 329h2v1h-2zM313 329h2v1h-2zM319 329h2v1h-2zM325 329h2v1h-2zM332 329h2v1h-2zM338 329h2v1h-2zM344 329h2v1h-2zM350 329h2v1h-2zM356 329h2v1h-2zM362 329h2v1h-2zM368 329h2v1h-2zM374 329h2v1h-2zM380 329h2v1h-2zM386 329h2v1h-2zM392 329h3v1h-3zM398 329h3v1h-3zM405 329h2v1h-2zM411 329h2v1h-2zM417 329h2v1h-2zM423 329h2v1h-2zM429 329h2v1h-2zM435 329h2v1h-2zM441 329h2v1h-2zM447 329h2v1h-2zM453 329h3v1h-3zM459 329h3v1h-3zM466 329h2v1h-2zM472 329h2v1h-2zM478 329h2v1h-2zM484 329h2v1h-2zM490 329h2v1h-2zM496 329h2v1h-2zM502 329h2v1h-2zM508 329h2v1h-2zM514 329h2v1h-2zM520 329h2v1h-2zM527 329h2v1h-2zM533 329h2v1h-2zM539 329h2v1h-2zM545 329h2v1h-2zM551 329h2v1h-2zM557 329h2v1h-2zM563 329h2v1h-2zM569 329h2v1h-2zM63 330h3v1h-3zM69 330h2v1h-2zM76 330h2v1h-2zM81 330h3v1h-3zM88 330h2v1h-2zM94 330h2v1h-2zM100 330h2v1h-2zM106 330h2v1h-2zM112 330h2v1h-2zM118 330h2v1h-2zM124 330h3v1h-3zM130 330h2v1h-2zM137 330h2v1h-2zM142 330h2v1h-2zM149 330h2v1h-2zM155 330h2v1h-2zM161 330h2v1h-2zM167 330h2v1h-2zM173 330h2v1h-2zM179 330h2v1h-2zM185 330h2v1h-2zM191 330h2v1h-2zM198 330h2v1h-2zM203 330h2v1h-2zM210 330h2v1h-2zM216 330h2v1h-2zM222 330h2v1h-2zM228 330h2v1h-2zM234 330h2v1h-2zM240 330h2v1h-2zM246 330h2v1h-2zM252 330h2v1h-2zM259 330h2v1h-2zM264 330h2v1h-2zM271 330h2v1h-2zM276 330h3v1h-3zM283 330h2v1h-2zM289 330h2v1h-2zM295 330h2v1h-2zM301 330h2v1h-2zM307 330h2v1h-2zM313 330h2v1h-2zM319 330h3v1h-3zM325 330h2v1h-2zM332 330h2v1h-2zM337 330h3v1h-3zM344 330h2v1h-2zM350 330h2v1h-2zM356 330h2v1h-2zM362 330h2v1h-2zM368 330h2v1h-2zM374 330h2v1h-2zM380 330h3v1h-3zM386 330h2v1h-2zM393 330h2v1h-2zM398 330h2v1h-2zM405 330h2v1h-2zM411 330h2v1h-2zM417 330h2v1h-2zM423 330h2v1h-2zM429 330h2v1h-2zM435 330h2v1h-2zM441 330h2v1h-2zM447 330h2v1h-2zM454 330h2v1h-2zM459 330h2v1h-2zM466 330h2v1h-2zM471 330h3v1h-3zM478 330h2v1h-2zM484 330h2v1h-2zM490 330h2v1h-2zM496 330h2v1h-2zM502 330h2v1h-2zM508 330h2v1h-2zM515 330h2v1h-2zM520 330h2v1h-2zM527 330h2v1h-2zM532 330h3v1h-3zM539 330h2v1h-2zM545 330h2v1h-2zM551 330h2v1h-2zM557 330h2v1h-2zM563 330h2v1h-2zM569 330h2v1h-2zM64 331h2v1h-2zM69 331h2v1h-2zM76 331h2v1h-2zM81 331h2v1h-2zM88 331h2v1h-2zM93 331h3v1h-3zM100 331h2v1h-2zM106 331h2v1h-2zM112 331h2v1h-2zM118 331h2v1h-2zM125 331h2v1h-2zM130 331h2v1h-2zM137 331h2v1h-2zM142 331h2v1h-2zM149 331h2v1h-2zM154 331h3v1h-3zM161 331h2v1h-2zM167 331h2v1h-2zM173 331h2v1h-2zM179 331h2v1h-2zM185 331h3v1h-3zM191 331h2v1h-2zM198 331h2v1h-2zM203 331h2v1h-2zM210 331h2v1h-2zM215 331h2v1h-2zM222 331h2v1h-2zM228 331h2v1h-2zM234 331h2v1h-2zM240 331h2v1h-2zM246 331h3v1h-3zM252 331h2v1h-2zM259 331h2v1h-2zM264 331h2v1h-2zM271 331h2v1h-2zM276 331h2v1h-2zM283 331h2v1h-2zM289 331h2v1h-2zM295 331h2v1h-2zM301 331h2v1h-2zM307 331h2v1h-2zM313 331h2v1h-2zM320 331h2v1h-2zM325 331h2v1h-2zM332 331h2v1h-2zM337 331h2v1h-2zM344 331h2v1h-2zM349 331h3v1h-3zM356 331h2v1h-2zM362 331h2v1h-2zM368 331h2v1h-2zM374 331h2v1h-2zM381 331h2v1h-2zM386 331h2v1h-2zM393 331h2v1h-2zM398 331h2v1h-2zM405 331h2v1h-2zM410 331h3v1h-3zM417 331h2v1h-2zM423 331h2v1h-2zM429 331h2v1h-2zM435 331h2v1h-2zM441 331h3v1h-3zM447 331h2v1h-2zM454 331h2v1h-2zM459 331h2v1h-2zM466 331h2v1h-2zM471 331h2v1h-2zM478 331h2v1h-2zM484 331h2v1h-2zM490 331h2v1h-2zM496 331h2v1h-2zM502 331h3v1h-3zM508 331h2v1h-2zM515 331h2v1h-2zM520 331h2v1h-2zM527 331h2v1h-2zM532 331h2v1h-2zM539 331h2v1h-2zM545 331h2v1h-2zM551 331h2v1h-2zM557 331h2v1h-2zM563 331h2v1h-2zM569 331h2v1h-2zM64 332h2v1h-2zM69 332h2v1h-2zM76 332h2v1h-2zM81 332h2v1h-2zM88 332h2v1h-2zM93 332h2v1h-2zM100 332h2v1h-2zM106 332h2v1h-2zM112 332h3v1h-3zM118 332h2v1h-2zM125 332h2v1h-2zM130 332h2v1h-2zM137 332h2v1h-2zM142 332h2v1h-2zM149 332h2v1h-2zM154 332h2v1h-2zM161 332h2v1h-2zM167 332h2v1h-2zM173 332h2v1h-2zM179 332h2v1h-2zM186 332h2v1h-2zM191 332h2v1h-2zM198 332h2v1h-2zM203 332h2v1h-2zM210 332h2v1h-2zM215 332h2v1h-2zM222 332h2v1h-2zM227 332h3v1h-3zM234 332h2v1h-2zM240 332h2v1h-2zM247 332h2v1h-2zM252 332h2v1h-2zM259 332h2v1h-2zM264 332h2v1h-2zM271 332h2v1h-2zM276 332h2v1h-2zM283 332h2v1h-2zM288 332h3v1h-3zM295 332h2v1h-2zM301 332h2v1h-2zM307 332h3v1h-3zM313 332h2v1h-2zM320 332h2v1h-2zM325 332h2v1h-2zM332 332h2v1h-2zM337 332h2v1h-2zM344 332h2v1h-2zM349 332h2v1h-2zM356 332h2v1h-2zM362 332h2v1h-2zM368 332h3v1h-3zM374 332h2v1h-2zM381 332h2v1h-2zM386 332h2v1h-2zM393 332h2v1h-2zM398 332h2v1h-2zM405 332h2v1h-2zM410 332h2v1h-2zM417 332h2v1h-2zM423 332h2v1h-2zM429 332h2v1h-2zM435 332h2v1h-2zM442 332h2v1h-2zM447 332h2v1h-2zM454 332h2v1h-2zM459 332h2v1h-2zM466 332h2v1h-2zM471 332h2v1h-2zM478 332h2v1h-2zM483 332h3v1h-3zM490 332h2v1h-2zM496 332h2v1h-2zM503 332h2v1h-2zM508 332h2v1h-2zM515 332h2v1h-2zM520 332h2v1h-2zM527 332h2v1h-2zM532 332h2v1h-2zM539 332h2v1h-2zM544 332h3v1h-3zM551 332h2v1h-2zM557 332h2v1h-2zM563 332h3v1h-3zM569 332h2v1h-2zM64 333h2v1h-2zM69 333h2v1h-2zM76 333h2v1h-2zM81 333h2v1h-2zM88 333h2v1h-2zM93 333h2v1h-2zM100 333h2v1h-2zM105 333h3v1h-3zM113 333h2v1h-2zM118 333h2v1h-2zM125 333h2v1h-2zM130 333h2v1h-2zM137 333h2v1h-2zM142 333h2v1h-2zM149 333h2v1h-2zM154 333h2v1h-2zM161 333h2v1h-2zM166 333h3v1h-3zM174 333h2v1h-2zM179 333h2v1h-2zM186 333h2v1h-2zM191 333h2v1h-2zM198 333h2v1h-2zM203 333h2v1h-2zM210 333h2v1h-2zM215 333h2v1h-2zM222 333h2v1h-2zM227 333h2v1h-2zM234 333h3v1h-3zM240 333h2v1h-2zM247 333h2v1h-2zM252 333h2v1h-2zM259 333h2v1h-2zM264 333h2v1h-2zM271 333h2v1h-2zM276 333h2v1h-2zM283 333h2v1h-2zM288 333h2v1h-2zM295 333h2v1h-2zM301 333h2v1h-2zM308 333h2v1h-2zM313 333h2v1h-2zM320 333h2v1h-2zM325 333h2v1h-2zM332 333h2v1h-2zM337 333h2v1h-2zM344 333h2v1h-2zM349 333h2v1h-2zM356 333h2v1h-2zM361 333h3v1h-3zM369 333h2v1h-2zM374 333h2v1h-2zM381 333h2v1h-2zM386 333h2v1h-2zM393 333h2v1h-2zM398 333h2v1h-2zM405 333h2v1h-2zM410 333h2v1h-2zM417 333h2v1h-2zM422 333h3v1h-3zM429 333h3v1h-3zM435 333h2v1h-2zM442 333h2v1h-2zM447 333h2v1h-2zM454 333h2v1h-2zM459 333h2v1h-2zM466 333h2v1h-2zM471 333h2v1h-2zM478 333h2v1h-2zM483 333h2v1h-2zM490 333h3v1h-3zM496 333h2v1h-2zM503 333h2v1h-2zM508 333h2v1h-2zM515 333h2v1h-2zM520 333h2v1h-2zM527 333h2v1h-2zM532 333h2v1h-2zM539 333h2v1h-2zM544 333h2v1h-2zM551 333h2v1h-2zM557 333h2v1h-2zM564 333h2v1h-2zM569 333h2v1h-2zM64 334h2v1h-2zM69 334h2v1h-2zM76 334h2v1h-2zM81 334h2v1h-2zM88 334h2v1h-2zM93 334h2v1h-2zM100 334h3v1h-3zM105 334h2v1h-2zM113 334h2v1h-2zM118 334h2v1h-2zM125 334h2v1h-2zM130 334h2v1h-2zM137 334h2v1h-2zM142 334h2v1h-2zM149 334h2v1h-2zM154 334h2v1h-2zM161 334h2v1h-2zM166 334h2v1h-2zM174 334h2v1h-2zM179 334h2v1h-2zM186 334h2v1h-2zM191 334h2v1h-2zM198 334h2v1h-2zM203 334h2v1h-2zM210 334h2v1h-2zM215 334h2v1h-2zM222 334h2v1h-2zM227 334h2v1h-2zM235 334h2v1h-2zM239 334h3v1h-3zM247 334h2v1h-2zM252 334h2v1h-2zM259 334h2v1h-2zM264 334h2v1h-2zM271 334h2v1h-2zM276 334h2v1h-2zM283 334h2v1h-2zM288 334h2v1h-2zM296 334h2v1h-2zM300 334h3v1h-3zM308 334h2v1h-2zM313 334h2v1h-2zM320 334h2v1h-2zM325 334h2v1h-2zM332 334h2v1h-2zM337 334h2v1h-2zM344 334h2v1h-2zM349 334h2v1h-2zM356 334h3v1h-3zM361 334h2v1h-2zM369 334h2v1h-2zM374 334h2v1h-2zM381 334h2v1h-2zM386 334h2v1h-2zM393 334h2v1h-2zM398 334h2v1h-2zM405 334h2v1h-2zM410 334h2v1h-2zM417 334h2v1h-2zM422 334h2v1h-2zM430 334h2v1h-2zM435 334h2v1h-2zM442 334h2v1h-2zM447 334h2v1h-2zM454 334h2v1h-2zM459 334h2v1h-2zM466 334h2v1h-2zM471 334h2v1h-2zM478 334h2v1h-2zM483 334h2v1h-2zM491 334h2v1h-2zM495 334h3v1h-3zM503 334h2v1h-2zM508 334h2v1h-2zM515 334h2v1h-2zM520 334h2v1h-2zM527 334h2v1h-2zM532 334h2v1h-2zM539 334h2v1h-2zM544 334h2v1h-2zM551 334h3v1h-3zM556 334h3v1h-3zM564 334h2v1h-2zM569 334h2v1h-2zM64 335h2v1h-2zM69 335h2v1h-2zM76 335h2v1h-2zM81 335h2v1h-2zM88 335h2v1h-2zM93 335h2v1h-2zM101 335h2v1h-2zM105 335h2v1h-2zM113 335h2v1h-2zM117 335h3v1h-3zM125 335h2v1h-2zM130 335h2v1h-2zM137 335h2v1h-2zM142 335h2v1h-2zM149 335h2v1h-2zM154 335h2v1h-2zM162 335h2v1h-2zM166 335h2v1h-2zM174 335h2v1h-2zM178 335h3v1h-3zM186 335h2v1h-2zM191 335h2v1h-2zM198 335h2v1h-2zM203 335h2v1h-2zM210 335h2v1h-2zM215 335h2v1h-2zM222 335h3v1h-3zM227 335h2v1h-2zM235 335h2v1h-2zM239 335h2v1h-2zM247 335h2v1h-2zM252 335h2v1h-2zM259 335h2v1h-2zM264 335h2v1h-2zM271 335h2v1h-2zM276 335h2v1h-2zM283 335h2v1h-2zM288 335h2v1h-2zM296 335h2v1h-2zM300 335h2v1h-2zM308 335h2v1h-2zM313 335h2v1h-2zM320 335h2v1h-2zM325 335h2v1h-2zM332 335h2v1h-2zM337 335h2v1h-2zM344 335h2v1h-2zM349 335h2v1h-2zM357 335h2v1h-2zM361 335h2v1h-2zM369 335h2v1h-2zM373 335h3v1h-3zM381 335h2v1h-2zM386 335h2v1h-2zM393 335h2v1h-2zM398 335h2v1h-2zM405 335h2v1h-2zM410 335h2v1h-2zM417 335h3v1h-3zM422 335h2v1h-2zM430 335h2v1h-2zM434 335h3v1h-3zM442 335h2v1h-2zM447 335h2v1h-2zM454 335h2v1h-2zM459 335h2v1h-2zM466 335h2v1h-2zM471 335h2v1h-2zM478 335h3v1h-3zM483 335h2v1h-2zM491 335h2v1h-2zM495 335h2v1h-2zM503 335h2v1h-2zM508 335h2v1h-2zM515 335h2v1h-2zM520 335h2v1h-2zM527 335h2v1h-2zM532 335h2v1h-2zM539 335h2v1h-2zM544 335h2v1h-2zM552 335h2v1h-2zM556 335h2v1h-2zM564 335h2v1h-2zM569 335h2v1h-2zM64 336h2v1h-2zM69 336h2v1h-2zM76 336h2v1h-2zM81 336h2v1h-2zM88 336h3v1h-3zM93 336h2v1h-2zM101 336h2v1h-2zM105 336h2v1h-2zM113 336h2v1h-2zM117 336h2v1h-2zM125 336h2v1h-2zM130 336h2v1h-2zM137 336h2v1h-2zM142 336h2v1h-2zM149 336h2v1h-2zM154 336h2v1h-2zM162 336h2v1h-2zM166 336h2v1h-2zM174 336h2v1h-2zM178 336h2v1h-2zM186 336h2v1h-2zM191 336h2v1h-2zM198 336h2v1h-2zM203 336h2v1h-2zM210 336h2v1h-2zM215 336h2v1h-2zM223 336h2v1h-2zM227 336h2v1h-2zM235 336h2v1h-2zM239 336h2v1h-2zM247 336h2v1h-2zM251 336h3v1h-3zM259 336h2v1h-2zM264 336h2v1h-2zM271 336h2v1h-2zM276 336h2v1h-2zM283 336h3v1h-3zM288 336h2v1h-2zM296 336h2v1h-2zM300 336h2v1h-2zM308 336h2v1h-2zM312 336h3v1h-3zM320 336h2v1h-2zM325 336h2v1h-2zM332 336h2v1h-2zM337 336h2v1h-2zM344 336h3v1h-3zM349 336h2v1h-2zM357 336h2v1h-2zM361 336h2v1h-2zM369 336h2v1h-2zM373 336h2v1h-2zM381 336h2v1h-2zM386 336h2v1h-2zM393 336h2v1h-2zM398 336h2v1h-2zM405 336h2v1h-2zM410 336h2v1h-2zM418 336h2v1h-2zM422 336h2v1h-2zM430 336h2v1h-2zM434 336h2v1h-2zM442 336h2v1h-2zM447 336h2v1h-2zM454 336h2v1h-2zM459 336h2v1h-2zM466 336h2v1h-2zM471 336h2v1h-2zM479 336h2v1h-2zM483 336h2v1h-2zM491 336h2v1h-2zM495 336h2v1h-2zM503 336h2v1h-2zM507 336h3v1h-3zM515 336h2v1h-2zM520 336h2v1h-2zM527 336h2v1h-2zM532 336h2v1h-2zM539 336h3v1h-3zM544 336h2v1h-2zM552 336h2v1h-2zM556 336h2v1h-2zM564 336h2v1h-2zM568 336h3v1h-3zM64 337h2v1h-2zM69 337h2v1h-2zM76 337h2v1h-2zM81 337h2v1h-2zM89 337h2v1h-2zM93 337h2v1h-2zM101 337h2v1h-2zM105 337h2v1h-2zM113 337h2v1h-2zM117 337h2v1h-2zM125 337h2v1h-2zM130 337h2v1h-2zM137 337h2v1h-2zM142 337h2v1h-2zM149 337h3v1h-3zM154 337h2v1h-2zM162 337h2v1h-2zM166 337h2v1h-2zM174 337h2v1h-2zM178 337h2v1h-2zM186 337h2v1h-2zM190 337h3v1h-3zM198 337h2v1h-2zM203 337h2v1h-2zM210 337h3v1h-3zM215 337h2v1h-2zM223 337h2v1h-2zM227 337h2v1h-2zM235 337h2v1h-2zM239 337h2v1h-2zM247 337h2v1h-2zM251 337h2v1h-2zM259 337h2v1h-2zM264 337h2v1h-2zM271 337h2v1h-2zM276 337h2v1h-2zM284 337h2v1h-2zM288 337h2v1h-2zM296 337h2v1h-2zM300 337h2v1h-2zM308 337h2v1h-2zM312 337h2v1h-2zM320 337h2v1h-2zM325 337h2v1h-2zM332 337h2v1h-2zM337 337h2v1h-2zM345 337h2v1h-2zM349 337h2v1h-2zM357 337h2v1h-2zM361 337h2v1h-2zM369 337h2v1h-2zM373 337h2v1h-2zM381 337h2v1h-2zM385 337h3v1h-3zM393 337h2v1h-2zM398 337h2v1h-2zM405 337h3v1h-3zM410 337h2v1h-2zM418 337h2v1h-2zM422 337h2v1h-2zM430 337h2v1h-2zM434 337h2v1h-2zM442 337h2v1h-2zM446 337h3v1h-3zM454 337h2v1h-2zM459 337h2v1h-2zM466 337h3v1h-3zM471 337h2v1h-2zM479 337h2v1h-2zM483 337h2v1h-2zM491 337h2v1h-2zM495 337h2v1h-2zM503 337h2v1h-2zM507 337h2v1h-2zM515 337h2v1h-2zM520 337h2v1h-2zM527 337h2v1h-2zM532 337h2v1h-2zM540 337h2v1h-2zM544 337h2v1h-2zM552 337h2v1h-2zM556 337h2v1h-2zM564 337h2v1h-2zM568 337h2v1h-2zM64 338h2v1h-2zM68 338h3v1h-3zM76 338h2v1h-2zM81 338h2v1h-2zM89 338h2v1h-2zM93 338h2v1h-2zM101 338h2v1h-2zM105 338h2v1h-2zM113 338h2v1h-2zM117 338h2v1h-2zM125 338h2v1h-2zM129 338h2v1h-2zM137 338h2v1h-2zM142 338h2v1h-2zM150 338h2v1h-2zM154 338h2v1h-2zM162 338h2v1h-2zM166 338h2v1h-2zM174 338h2v1h-2zM178 338h2v1h-2zM186 338h2v1h-2zM190 338h2v1h-2zM198 338h2v1h-2zM203 338h2v1h-2zM211 338h2v1h-2zM215 338h2v1h-2zM223 338h2v1h-2zM227 338h2v1h-2zM235 338h2v1h-2zM239 338h2v1h-2zM247 338h2v1h-2zM251 338h2v1h-2zM259 338h2v1h-2zM264 338h2v1h-2zM271 338h2v1h-2zM276 338h2v1h-2zM284 338h2v1h-2zM288 338h2v1h-2zM296 338h2v1h-2zM300 338h2v1h-2zM308 338h2v1h-2zM312 338h2v1h-2zM320 338h2v1h-2zM324 338h3v1h-3zM332 338h2v1h-2zM337 338h2v1h-2zM345 338h2v1h-2zM349 338h2v1h-2zM357 338h2v1h-2zM361 338h2v1h-2zM369 338h2v1h-2zM373 338h2v1h-2zM381 338h2v1h-2zM385 338h2v1h-2zM393 338h2v1h-2zM398 338h2v1h-2zM406 338h2v1h-2zM410 338h2v1h-2zM418 338h2v1h-2zM422 338h2v1h-2zM430 338h2v1h-2zM434 338h2v1h-2zM442 338h2v1h-2zM446 338h2v1h-2zM454 338h2v1h-2zM459 338h2v1h-2zM467 338h2v1h-2zM471 338h2v1h-2zM479 338h2v1h-2zM483 338h2v1h-2zM491 338h2v1h-2zM495 338h2v1h-2zM503 338h2v1h-2zM507 338h2v1h-2zM515 338h2v1h-2zM520 338h2v1h-2zM527 338h2v1h-2zM532 338h2v1h-2zM540 338h2v1h-2zM544 338h2v1h-2zM552 338h2v1h-2zM556 338h2v1h-2zM564 338h2v1h-2zM568 338h2v1h-2zM64 339h2v1h-2zM69 339h1v1h-1zM77 339h2v1h-2zM82 339h1v1h-1zM89 339h2v1h-2zM94 339h1v1h-1zM101 339h2v1h-2zM106 339h1v1h-1zM113 339h2v1h-2zM118 339h1v1h-1zM125 339h2v1h-2zM130 339h1v1h-1zM137 339h3v1h-3zM143 339h1v1h-1zM150 339h2v1h-2zM155 339h1v1h-1zM162 339h2v1h-2zM167 339h1v1h-1zM174 339h2v1h-2zM179 339h1v1h-1zM186 339h2v1h-2zM191 339h1v1h-1zM198 339h2v1h-2zM203 339h2v1h-2zM211 339h2v1h-2zM216 339h1v1h-1zM223 339h2v1h-2zM228 339h1v1h-1zM235 339h2v1h-2zM240 339h1v1h-1zM247 339h2v1h-2zM252 339h1v1h-1zM259 339h2v1h-2zM264 339h2v1h-2zM272 339h2v1h-2zM277 339h1v1h-1zM284 339h2v1h-2zM289 339h1v1h-1zM296 339h2v1h-2zM301 339h1v1h-1zM308 339h2v1h-2zM313 339h1v1h-1zM320 339h2v1h-2zM325 339h1v1h-1zM333 339h2v1h-2zM338 339h1v1h-1zM345 339h2v1h-2zM350 339h1v1h-1zM357 339h2v1h-2zM362 339h1v1h-1zM369 339h2v1h-2zM374 339h1v1h-1zM381 339h2v1h-2zM386 339h1v1h-1zM393 339h3v1h-3zM399 339h1v1h-1zM406 339h2v1h-2zM411 339h1v1h-1zM418 339h2v1h-2zM423 339h1v1h-1zM430 339h2v1h-2zM435 339h1v1h-1zM442 339h2v1h-2zM447 339h1v1h-1zM454 339h2v1h-2zM459 339h2v1h-2zM467 339h2v1h-2zM472 339h1v1h-1zM479 339h2v1h-2zM484 339h1v1h-1zM491 339h2v1h-2zM496 339h1v1h-1zM503 339h2v1h-2zM508 339h1v1h-1zM515 339h2v1h-2zM520 339h1v1h-1zM528 339h2v1h-2zM533 339h1v1h-1zM540 339h2v1h-2zM545 339h1v1h-1zM552 339h2v1h-2zM557 339h1v1h-1zM564 339h2v1h-2zM569 339h1v1h-1zM64 340h1v1h-1zM68 340h2v1h-2zM77 340h1v1h-1zM81 340h2v1h-2zM89 340h1v1h-1zM93 340h2v1h-2zM101 340h1v1h-1zM105 340h2v1h-2zM113 340h1v1h-1zM117 340h2v1h-2zM125 340h1v1h-1zM129 340h2v1h-2zM138 340h1v1h-1zM141 340h3v1h-3zM150 340h1v1h-1zM154 340h2v1h-2zM162 340h1v1h-1zM166 340h2v1h-2zM174 340h1v1h-1zM178 340h2v1h-2zM186 340h1v1h-1zM190 340h2v1h-2zM199 340h1v1h-1zM202 340h2v1h-2zM211 340h1v1h-1zM215 340h2v1h-2zM223 340h1v1h-1zM227 340h2v1h-2zM235 340h1v1h-1zM239 340h2v1h-2zM247 340h1v1h-1zM251 340h2v1h-2zM259 340h2v1h-2zM263 340h2v1h-2zM272 340h1v1h-1zM276 340h2v1h-2zM284 340h1v1h-1zM288 340h2v1h-2zM296 340h1v1h-1zM300 340h2v1h-2zM308 340h1v1h-1zM312 340h2v1h-2zM320 340h1v1h-1zM324 340h2v1h-2zM333 340h1v1h-1zM336 340h3v1h-3zM345 340h1v1h-1zM349 340h2v1h-2zM357 340h1v1h-1zM361 340h2v1h-2zM369 340h1v1h-1zM373 340h2v1h-2zM381 340h1v1h-1zM385 340h2v1h-2zM394 340h1v1h-1zM397 340h3v1h-3zM406 340h1v1h-1zM410 340h2v1h-2zM418 340h1v1h-1zM422 340h2v1h-2zM430 340h1v1h-1zM434 340h2v1h-2zM442 340h1v1h-1zM446 340h2v1h-2zM454 340h2v1h-2zM458 340h2v1h-2zM467 340h1v1h-1zM471 340h2v1h-2zM479 340h1v1h-1zM483 340h2v1h-2zM491 340h1v1h-1zM495 340h2v1h-2zM503 340h1v1h-1zM507 340h2v1h-2zM515 340h2v1h-2zM519 340h2v1h-2zM528 340h1v1h-1zM532 340h2v1h-2zM540 340h1v1h-1zM544 340h2v1h-2zM552 340h1v1h-1zM556 340h2v1h-2zM564 340h1v1h-1zM568 340h2v1h-2zM64 341h3v1h-3zM69 341h1v1h-1zM77 341h2v1h-2zM81 341h1v1h-1zM89 341h2v1h-2zM94 341h1v1h-1zM101 341h2v1h-2zM106 341h1v1h-1zM113 341h2v1h-2zM118 341h1v1h-1zM125 341h3v1h-3zM130 341h1v1h-1zM138 341h2v1h-2zM142 341h1v1h-1zM150 341h2v1h-2zM155 341h1v1h-1zM162 341h2v1h-2zM167 341h1v1h-1zM174 341h2v1h-2zM179 341h1v1h-1zM186 341h2v1h-2zM191 341h1v1h-1zM199 341h2v1h-2zM203 341h1v1h-1zM211 341h2v1h-2zM216 341h1v1h-1zM223 341h2v1h-2zM228 341h1v1h-1zM235 341h2v1h-2zM240 341h1v1h-1zM247 341h2v1h-2zM252 341h1v1h-1zM260 341h2v1h-2zM264 341h1v1h-1zM272 341h2v1h-2zM276 341h2v1h-2zM284 341h2v1h-2zM289 341h1v1h-1zM296 341h2v1h-2zM301 341h1v1h-1zM308 341h2v1h-2zM313 341h1v1h-1zM320 341h3v1h-3zM325 341h1v1h-1zM333 341h2v1h-2zM337 341h1v1h-1zM345 341h2v1h-2zM350 341h1v1h-1zM357 341h2v1h-2zM362 341h1v1h-1zM369 341h2v1h-2zM374 341h1v1h-1zM381 341h2v1h-2zM386 341h1v1h-1zM394 341h2v1h-2zM398 341h1v1h-1zM406 341h2v1h-2zM411 341h1v1h-1zM418 341h2v1h-2zM423 341h1v1h-1zM430 341h2v1h-2zM435 341h1v1h-1zM442 341h2v1h-2zM447 341h1v1h-1zM455 341h2v1h-2zM459 341h1v1h-1zM467 341h2v1h-2zM472 341h1v1h-1zM479 341h2v1h-2zM484 341h1v1h-1zM491 341h2v1h-2zM496 341h1v1h-1zM503 341h2v1h-2zM508 341h1v1h-1zM516 341h2v1h-2zM520 341h1v1h-1zM528 341h2v1h-2zM532 341h2v1h-2zM540 341h2v1h-2zM545 341h1v1h-1zM552 341h2v1h-2zM557 341h1v1h-1zM564 341h2v1h-2zM569 341h1v1h-1zM65 342h1v1h-1zM68 342h2v1h-2zM77 342h1v1h-1zM80 342h2v1h-2zM89 342h1v1h-1zM93 342h2v1h-2zM101 342h1v1h-1zM105 342h2v1h-2zM113 342h1v1h-1zM117 342h2v1h-2zM126 342h1v1h-1zM129 342h2v1h-2zM138 342h1v1h-1zM141 342h2v1h-2zM150 342h1v1h-1zM154 342h2v1h-2zM162 342h1v1h-1zM166 342h2v1h-2zM174 342h1v1h-1zM178 342h2v1h-2zM186 342h2v1h-2zM190 342h2v1h-2zM199 342h1v1h-1zM202 342h2v1h-2zM211 342h1v1h-1zM214 342h3v1h-3zM223 342h1v1h-1zM227 342h2v1h-2zM235 342h1v1h-1zM239 342h2v1h-2zM247 342h1v1h-1zM251 342h2v1h-2zM260 342h1v1h-1zM263 342h2v1h-2zM272 342h1v1h-1zM275 342h2v1h-2zM284 342h1v1h-1zM288 342h2v1h-2zM296 342h1v1h-1zM300 342h2v1h-2zM308 342h1v1h-1zM312 342h2v1h-2zM321 342h1v1h-1zM324 342h2v1h-2zM333 342h1v1h-1zM336 342h2v1h-2zM345 342h1v1h-1zM349 342h2v1h-2zM357 342h1v1h-1zM361 342h2v1h-2zM369 342h1v1h-1zM373 342h2v1h-2zM382 342h1v1h-1zM385 342h2v1h-2zM394 342h1v1h-1zM397 342h2v1h-2zM406 342h1v1h-1zM409 342h3v1h-3zM418 342h1v1h-1zM422 342h2v1h-2zM430 342h1v1h-1zM434 342h2v1h-2zM442 342h2v1h-2zM446 342h2v1h-2zM455 342h1v1h-1zM458 342h2v1h-2zM467 342h1v1h-1zM470 342h3v1h-3zM479 342h1v1h-1zM483 342h2v1h-2zM491 342h1v1h-1zM495 342h2v1h-2zM503 342h1v1h-1zM507 342h2v1h-2zM516 342h1v1h-1zM519 342h2v1h-2zM528 342h1v1h-1zM531 342h2v1h-2zM540 342h1v1h-1zM544 342h2v1h-2zM552 342h1v1h-1zM556 342h2v1h-2zM564 342h1v1h-1zM568 342h2v1h-2zM65 343h2v1h-2zM69 343h1v1h-1zM77 343h2v1h-2zM81 343h1v1h-1zM89 343h2v1h-2zM93 343h2v1h-2zM101 343h2v1h-2zM106 343h1v1h-1zM113 343h2v1h-2zM118 343h1v1h-1zM126 343h2v1h-2zM130 343h1v1h-1zM138 343h2v1h-2zM142 343h1v1h-1zM150 343h2v1h-2zM154 343h1v1h-1zM162 343h2v1h-2zM167 343h1v1h-1zM174 343h2v1h-2zM179 343h1v1h-1zM187 343h2v1h-2zM191 343h1v1h-1zM199 343h2v1h-2zM203 343h1v1h-1zM211 343h2v1h-2zM215 343h1v1h-1zM223 343h2v1h-2zM228 343h1v1h-1zM235 343h2v1h-2zM240 343h1v1h-1zM247 343h3v1h-3zM252 343h1v1h-1zM260 343h2v1h-2zM264 343h1v1h-1zM272 343h2v1h-2zM276 343h1v1h-1zM284 343h2v1h-2zM289 343h1v1h-1zM296 343h2v1h-2zM301 343h1v1h-1zM308 343h3v1h-3zM313 343h1v1h-1zM321 343h2v1h-2zM325 343h1v1h-1zM333 343h2v1h-2zM337 343h1v1h-1zM345 343h2v1h-2zM349 343h2v1h-2zM357 343h2v1h-2zM362 343h1v1h-1zM369 343h2v1h-2zM374 343h1v1h-1zM382 343h2v1h-2zM386 343h1v1h-1zM394 343h2v1h-2zM398 343h1v1h-1zM406 343h2v1h-2zM410 343h1v1h-1zM418 343h2v1h-2zM423 343h1v1h-1zM430 343h2v1h-2zM435 343h1v1h-1zM443 343h2v1h-2zM447 343h1v1h-1zM455 343h2v1h-2zM459 343h1v1h-1zM467 343h2v1h-2zM471 343h1v1h-1zM479 343h2v1h-2zM484 343h1v1h-1zM491 343h2v1h-2zM496 343h1v1h-1zM503 343h3v1h-3zM508 343h1v1h-1zM516 343h2v1h-2zM520 343h1v1h-1zM528 343h2v1h-2zM532 343h1v1h-1zM540 343h2v1h-2zM545 343h1v1h-1zM552 343h2v1h-2zM557 343h1v1h-1zM564 343h2v1h-2zM569 343h1v1h-1zM65 344h1v1h-1zM68 344h2v1h-2zM77 344h1v1h-1zM80 344h2v1h-2zM89 344h1v1h-1zM92 344h2v1h-2zM101 344h1v1h-1zM105 344h2v1h-2zM113 344h2v1h-2zM117 344h2v1h-2zM126 344h1v1h-1zM129 344h2v1h-2zM138 344h1v1h-1zM141 344h2v1h-2zM150 344h1v1h-1zM153 344h2v1h-2zM162 344h1v1h-1zM166 344h2v1h-2zM174 344h1v1h-1zM178 344h2v1h-2zM187 344h1v1h-1zM190 344h2v1h-2zM199 344h1v1h-1zM202 344h2v1h-2zM211 344h1v1h-1zM214 344h2v1h-2zM223 344h1v1h-1zM226 344h3v1h-3zM235 344h1v1h-1zM239 344h2v1h-2zM248 344h1v1h-1zM251 344h2v1h-2zM260 344h1v1h-1zM263 344h2v1h-2zM272 344h1v1h-1zM275 344h2v1h-2zM284 344h1v1h-1zM287 344h3v1h-3zM296 344h1v1h-1zM300 344h2v1h-2zM309 344h1v1h-1zM312 344h2v1h-2zM321 344h1v1h-1zM324 344h2v1h-2zM333 344h1v1h-1zM336 344h2v1h-2zM345 344h1v1h-1zM348 344h2v1h-2zM357 344h1v1h-1zM361 344h2v1h-2zM369 344h2v1h-2zM373 344h2v1h-2zM382 344h1v1h-1zM385 344h2v1h-2zM394 344h1v1h-1zM397 344h2v1h-2zM406 344h1v1h-1zM409 344h2v1h-2zM418 344h1v1h-1zM422 344h2v1h-2zM430 344h1v1h-1zM434 344h2v1h-2zM443 344h1v1h-1zM446 344h2v1h-2zM455 344h1v1h-1zM458 344h2v1h-2zM467 344h1v1h-1zM470 344h2v1h-2zM479 344h1v1h-1zM482 344h3v1h-3zM491 344h1v1h-1zM495 344h2v1h-2zM504 344h1v1h-1zM507 344h2v1h-2zM516 344h1v1h-1zM519 344h2v1h-2zM528 344h1v1h-1zM531 344h2v1h-2zM540 344h1v1h-1zM543 344h2v1h-2zM552 344h1v1h-1zM556 344h2v1h-2zM565 344h1v1h-1zM568 344h2v1h-2zM65 345h2v1h-2zM69 345h1v1h-1zM77 345h2v1h-2zM81 345h1v1h-1zM89 345h2v1h-2zM93 345h1v1h-1zM101 345h2v1h-2zM106 345h1v1h-1zM114 345h2v1h-2zM118 345h1v1h-1zM126 345h2v1h-2zM130 345h1v1h-1zM138 345h2v1h-2zM142 345h1v1h-1zM150 345h2v1h-2zM154 345h1v1h-1zM162 345h2v1h-2zM166 345h2v1h-2zM174 345h3v1h-3zM179 345h1v1h-1zM187 345h2v1h-2zM191 345h1v1h-1zM199 345h2v1h-2zM203 345h1v1h-1zM211 345h2v1h-2zM215 345h1v1h-1zM223 345h2v1h-2zM227 345h1v1h-1zM235 345h2v1h-2zM240 345h1v1h-1zM248 345h2v1h-2zM252 345h1v1h-1zM260 345h2v1h-2zM264 345h1v1h-1zM272 345h2v1h-2zM276 345h1v1h-1zM284 345h2v1h-2zM288 345h1v1h-1zM296 345h2v1h-2zM301 345h1v1h-1zM309 345h2v1h-2zM313 345h1v1h-1zM321 345h2v1h-2zM325 345h1v1h-1zM333 345h2v1h-2zM337 345h1v1h-1zM345 345h2v1h-2zM349 345h1v1h-1zM357 345h2v1h-2zM362 345h1v1h-1zM370 345h2v1h-2zM374 345h1v1h-1zM382 345h2v1h-2zM386 345h1v1h-1zM394 345h2v1h-2zM398 345h1v1h-1zM406 345h2v1h-2zM410 345h1v1h-1zM418 345h2v1h-2zM422 345h2v1h-2zM430 345h3v1h-3zM435 345h1v1h-1zM443 345h2v1h-2zM447 345h1v1h-1zM455 345h2v1h-2zM459 345h1v1h-1zM467 345h2v1h-2zM471 345h1v1h-1zM479 345h2v1h-2zM483 345h1v1h-1zM491 345h2v1h-2zM496 345h1v1h-1zM504 345h2v1h-2zM508 345h1v1h-1zM516 345h2v1h-2zM520 345h1v1h-1zM528 345h2v1h-2zM532 345h1v1h-1zM540 345h2v1h-2zM544 345h1v1h-1zM552 345h2v1h-2zM557 345h1v1h-1zM565 345h2v1h-2zM569 345h1v1h-1zM65 346h1v1h-1zM68 346h2v1h-2zM77 346h1v1h-1zM80 346h2v1h-2zM89 346h1v1h-1zM92 346h2v1h-2zM101 346h1v1h-1zM104 346h3v1h-3zM114 346h1v1h-1zM117 346h2v1h-2zM126 346h1v1h-1zM129 346h2v1h-2zM138 346h1v1h-1zM141 346h2v1h-2zM150 346h1v1h-1zM153 346h2v1h-2zM162 346h1v1h-1zM165 346h2v1h-2zM175 346h1v1h-1zM178 346h2v1h-2zM187 346h1v1h-1zM190 346h2v1h-2zM199 346h1v1h-1zM202 346h2v1h-2zM211 346h1v1h-1zM214 346h2v1h-2zM223 346h1v1h-1zM226 346h2v1h-2zM236 346h1v1h-1zM239 346h2v1h-2zM248 346h1v1h-1zM251 346h2v1h-2zM260 346h1v1h-1zM263 346h2v1h-2zM272 346h1v1h-1zM275 346h2v1h-2zM284 346h1v1h-1zM287 346h2v1h-2zM296 346h2v1h-2zM300 346h2v1h-2zM309 346h1v1h-1zM312 346h2v1h-2zM321 346h1v1h-1zM324 346h2v1h-2zM333 346h1v1h-1zM336 346h2v1h-2zM345 346h1v1h-1zM348 346h2v1h-2zM357 346h1v1h-1zM360 346h3v1h-3zM370 346h1v1h-1zM373 346h2v1h-2zM382 346h1v1h-1zM385 346h2v1h-2zM394 346h1v1h-1zM397 346h2v1h-2zM406 346h1v1h-1zM409 346h2v1h-2zM418 346h1v1h-1zM421 346h2v1h-2zM431 346h1v1h-1zM434 346h2v1h-2zM443 346h1v1h-1zM446 346h2v1h-2zM455 346h1v1h-1zM458 346h2v1h-2zM467 346h1v1h-1zM470 346h2v1h-2zM479 346h1v1h-1zM482 346h2v1h-2zM491 346h2v1h-2zM495 346h2v1h-2zM504 346h1v1h-1zM507 346h2v1h-2zM516 346h1v1h-1zM519 346h2v1h-2zM528 346h1v1h-1zM531 346h2v1h-2zM540 346h1v1h-1zM543 346h2v1h-2zM552 346h2v1h-2zM555 346h3v1h-3zM565 346h1v1h-1zM568 346h2v1h-2zM65 347h2v1h-2zM69 347h1v1h-1zM77 347h2v1h-2zM81 347h1v1h-1zM89 347h2v1h-2zM93 347h1v1h-1zM101 347h3v1h-3zM105 347h1v1h-1zM114 347h2v1h-2zM118 347h1v1h-1zM126 347h2v1h-2zM130 347h1v1h-1zM138 347h2v1h-2zM142 347h1v1h-1zM150 347h2v1h-2zM154 347h1v1h-1zM162 347h2v1h-2zM166 347h1v1h-1zM175 347h2v1h-2zM179 347h1v1h-1zM187 347h2v1h-2zM191 347h1v1h-1zM199 347h2v1h-2zM203 347h1v1h-1zM211 347h2v1h-2zM215 347h1v1h-1zM223 347h2v1h-2zM227 347h1v1h-1zM236 347h2v1h-2zM239 347h2v1h-2zM248 347h2v1h-2zM252 347h1v1h-1zM260 347h2v1h-2zM264 347h1v1h-1zM272 347h2v1h-2zM276 347h1v1h-1zM284 347h2v1h-2zM288 347h1v1h-1zM297 347h2v1h-2zM300 347h1v1h-1zM309 347h2v1h-2zM313 347h1v1h-1zM321 347h2v1h-2zM325 347h1v1h-1zM333 347h2v1h-2zM337 347h1v1h-1zM345 347h2v1h-2zM349 347h1v1h-1zM357 347h3v1h-3zM361 347h1v1h-1zM370 347h2v1h-2zM374 347h1v1h-1zM382 347h2v1h-2zM386 347h1v1h-1zM394 347h2v1h-2zM398 347h1v1h-1zM406 347h2v1h-2zM410 347h1v1h-1zM418 347h2v1h-2zM422 347h1v1h-1zM431 347h2v1h-2zM435 347h1v1h-1zM443 347h2v1h-2zM447 347h1v1h-1zM455 347h2v1h-2zM459 347h1v1h-1zM467 347h2v1h-2zM471 347h1v1h-1zM479 347h2v1h-2zM483 347h1v1h-1zM492 347h2v1h-2zM495 347h2v1h-2zM504 347h2v1h-2zM508 347h1v1h-1zM516 347h2v1h-2zM520 347h1v1h-1zM528 347h2v1h-2zM532 347h1v1h-1zM540 347h2v1h-2zM544 347h1v1h-1zM553 347h2v1h-2zM556 347h1v1h-1zM565 347h2v1h-2zM569 347h1v1h-1zM65 348h1v1h-1zM68 348h2v1h-2zM77 348h1v1h-1zM80 348h2v1h-2zM89 348h1v1h-1zM92 348h2v1h-2zM102 348h1v1h-1zM104 348h2v1h-2zM114 348h1v1h-1zM117 348h2v1h-2zM126 348h1v1h-1zM129 348h2v1h-2zM138 348h1v1h-1zM141 348h2v1h-2zM150 348h1v1h-1zM153 348h2v1h-2zM163 348h1v1h-1zM165 348h2v1h-2zM175 348h1v1h-1zM177 348h3v1h-3zM187 348h1v1h-1zM190 348h2v1h-2zM199 348h1v1h-1zM202 348h2v1h-2zM211 348h1v1h-1zM214 348h2v1h-2zM223 348h2v1h-2zM226 348h2v1h-2zM236 348h1v1h-1zM238 348h2v1h-2zM248 348h1v1h-1zM251 348h2v1h-2zM260 348h1v1h-1zM263 348h2v1h-2zM272 348h1v1h-1zM275 348h2v1h-2zM284 348h1v1h-1zM287 348h2v1h-2zM297 348h1v1h-1zM299 348h2v1h-2zM309 348h1v1h-1zM312 348h2v1h-2zM321 348h1v1h-1zM324 348h2v1h-2zM333 348h1v1h-1zM336 348h2v1h-2zM345 348h1v1h-1zM348 348h2v1h-2zM358 348h1v1h-1zM360 348h2v1h-2zM370 348h1v1h-1zM373 348h2v1h-2zM382 348h1v1h-1zM385 348h2v1h-2zM394 348h1v1h-1zM397 348h2v1h-2zM406 348h1v1h-1zM409 348h2v1h-2zM418 348h2v1h-2zM421 348h2v1h-2zM431 348h1v1h-1zM433 348h3v1h-3zM443 348h1v1h-1zM446 348h2v1h-2zM455 348h1v1h-1zM458 348h2v1h-2zM467 348h1v1h-1zM470 348h2v1h-2zM479 348h1v1h-1zM482 348h2v1h-2zM492 348h1v1h-1zM494 348h2v1h-2zM504 348h1v1h-1zM507 348h2v1h-2zM516 348h1v1h-1zM519 348h2v1h-2zM528 348h1v1h-1zM531 348h2v1h-2zM540 348h1v1h-1zM543 348h2v1h-2zM553 348h1v1h-1zM555 348h2v1h-2zM565 348h1v1h-1zM568 348h2v1h-2zM65 349h2v1h-2zM69 349h1v1h-1zM77 349h2v1h-2zM81 349h1v1h-1zM89 349h2v1h-2zM93 349h1v1h-1zM102 349h2v1h-2zM105 349h1v1h-1zM114 349h2v1h-2zM118 349h1v1h-1zM126 349h2v1h-2zM130 349h1v1h-1zM138 349h2v1h-2zM142 349h1v1h-1zM150 349h2v1h-2zM154 349h1v1h-1zM163 349h2v1h-2zM166 349h1v1h-1zM175 349h2v1h-2zM178 349h1v1h-1zM187 349h2v1h-2zM191 349h1v1h-1zM199 349h2v1h-2zM203 349h1v1h-1zM211 349h2v1h-2zM215 349h1v1h-1zM224 349h2v1h-2zM227 349h1v1h-1zM236 349h2v1h-2zM239 349h1v1h-1zM248 349h2v1h-2zM252 349h1v1h-1zM260 349h2v1h-2zM264 349h1v1h-1zM272 349h2v1h-2zM276 349h1v1h-1zM284 349h3v1h-3zM288 349h1v1h-1zM297 349h2v1h-2zM300 349h1v1h-1zM309 349h2v1h-2zM313 349h1v1h-1zM321 349h2v1h-2zM325 349h1v1h-1zM333 349h2v1h-2zM337 349h1v1h-1zM345 349h2v1h-2zM349 349h1v1h-1zM358 349h2v1h-2zM361 349h1v1h-1zM370 349h2v1h-2zM373 349h2v1h-2zM382 349h2v1h-2zM386 349h1v1h-1zM394 349h2v1h-2zM398 349h1v1h-1zM406 349h2v1h-2zM410 349h1v1h-1zM419 349h2v1h-2zM422 349h1v1h-1zM431 349h2v1h-2zM434 349h1v1h-1zM443 349h2v1h-2zM447 349h1v1h-1zM455 349h2v1h-2zM459 349h1v1h-1zM467 349h2v1h-2zM471 349h1v1h-1zM480 349h2v1h-2zM483 349h1v1h-1zM492 349h2v1h-2zM495 349h1v1h-1zM504 349h2v1h-2zM508 349h1v1h-1zM516 349h2v1h-2zM520 349h1v1h-1zM528 349h2v1h-2zM532 349h1v1h-1zM540 349h3v1h-3zM544 349h1v1h-1zM553 349h2v1h-2zM556 349h1v1h-1zM565 349h2v1h-2zM569 349h1v1h-1zM68 350h2v1h-2zM80 350h2v1h-2zM92 350h2v1h-2zM104 350h2v1h-2zM116 350h2v1h-2zM129 350h2v1h-2zM141 350h2v1h-2zM153 350h2v1h-2zM165 350h2v1h-2zM177 350h2v1h-2zM190 350h2v1h-2zM202 350h2v1h-2zM214 350h2v1h-2zM226 350h2v1h-2zM238 350h2v1h-2zM250 350h3v1h-3zM263 350h2v1h-2zM275 350h2v1h-2zM287 350h2v1h-2zM299 350h2v1h-2zM311 350h2v1h-2zM324 350h2v1h-2zM336 350h2v1h-2zM348 350h2v1h-2zM360 350h2v1h-2zM372 350h2v1h-2zM385 350h2v1h-2zM397 350h2v1h-2zM409 350h2v1h-2zM421 350h2v1h-2zM433 350h2v1h-2zM446 350h2v1h-2zM458 350h2v1h-2zM470 350h2v1h-2zM482 350h2v1h-2zM494 350h2v1h-2zM506 350h3v1h-3zM519 350h2v1h-2zM531 350h2v1h-2zM543 350h2v1h-2zM555 350h2v1h-2zM567 350h2v1h-2zM65 351h2v1h-2zM77 351h2v1h-2zM90 351h2v1h-2zM102 351h2v1h-2zM114 351h2v1h-2zM126 351h2v1h-2zM138 351h2v1h-2zM150 351h3v1h-3zM163 351h2v1h-2zM175 351h2v1h-2zM187 351h2v1h-2zM199 351h2v1h-2zM211 351h2v1h-2zM224 351h2v1h-2zM236 351h2v1h-2zM248 351h2v1h-2zM260 351h2v1h-2zM272 351h2v1h-2zM285 351h2v1h-2zM297 351h2v1h-2zM309 351h2v1h-2zM321 351h2v1h-2zM333 351h2v1h-2zM346 351h2v1h-2zM358 351h2v1h-2zM370 351h2v1h-2zM382 351h2v1h-2zM394 351h2v1h-2zM406 351h3v1h-3zM419 351h2v1h-2zM431 351h2v1h-2zM443 351h2v1h-2zM455 351h2v1h-2zM467 351h2v1h-2zM480 351h2v1h-2zM492 351h2v1h-2zM504 351h2v1h-2zM516 351h2v1h-2zM528 351h2v1h-2zM541 351h2v1h-2zM553 351h2v1h-2zM565 351h2v1h-2zM68 352h2v1h-2zM80 352h2v1h-2zM92 352h2v1h-2zM104 352h2v1h-2zM116 352h2v1h-2zM128 352h3v1h-3zM141 352h2v1h-2zM153 352h2v1h-2zM165 352h2v1h-2zM177 352h2v1h-2zM189 352h2v1h-2zM202 352h2v1h-2zM214 352h2v1h-2zM226 352h2v1h-2zM238 352h2v1h-2zM250 352h2v1h-2zM263 352h2v1h-2zM275 352h2v1h-2zM287 352h2v1h-2zM299 352h2v1h-2zM311 352h2v1h-2zM324 352h2v1h-2zM336 352h2v1h-2zM348 352h2v1h-2zM360 352h2v1h-2zM372 352h2v1h-2zM384 352h3v1h-3zM397 352h2v1h-2zM409 352h2v1h-2zM421 352h2v1h-2zM433 352h2v1h-2zM445 352h2v1h-2zM458 352h2v1h-2zM470 352h2v1h-2zM482 352h2v1h-2zM494 352h2v1h-2zM506 352h2v1h-2zM519 352h2v1h-2zM531 352h2v1h-2zM543 352h2v1h-2zM555 352h2v1h-2zM567 352h2v1h-2zM65 353h2v1h-2zM77 353h3v1h-3zM90 353h2v1h-2zM102 353h2v1h-2zM114 353h2v1h-2zM126 353h2v1h-2zM138 353h2v1h-2zM151 353h2v1h-2zM163 353h2v1h-2zM175 353h2v1h-2zM187 353h2v1h-2zM199 353h2v1h-2zM212 353h2v1h-2zM224 353h2v1h-2zM236 353h2v1h-2zM248 353h2v1h-2zM260 353h2v1h-2zM273 353h2v1h-2zM285 353h2v1h-2zM297 353h2v1h-2zM309 353h2v1h-2zM321 353h2v1h-2zM333 353h3v1h-3zM346 353h2v1h-2zM358 353h2v1h-2zM370 353h2v1h-2zM382 353h2v1h-2zM394 353h2v1h-2zM407 353h2v1h-2zM419 353h2v1h-2zM431 353h2v1h-2zM443 353h2v1h-2zM455 353h2v1h-2zM468 353h2v1h-2zM480 353h2v1h-2zM492 353h2v1h-2zM504 353h2v1h-2zM516 353h2v1h-2zM529 353h2v1h-2zM541 353h2v1h-2zM553 353h2v1h-2zM565 353h2v1h-2zM67 354h2v1h-2zM80 354h2v1h-2zM92 354h2v1h-2zM104 354h2v1h-2zM116 354h2v1h-2zM128 354h2v1h-2zM141 354h2v1h-2zM153 354h2v1h-2zM165 354h2v1h-2zM177 354h2v1h-2zM189 354h2v1h-2zM201 354h3v1h-3zM214 354h2v1h-2zM226 354h2v1h-2zM238 354h2v1h-2zM250 354h2v1h-2zM262 354h2v1h-2zM275 354h2v1h-2zM287 354h2v1h-2zM299 354h2v1h-2zM311 354h2v1h-2zM323 354h2v1h-2zM336 354h2v1h-2zM348 354h2v1h-2zM360 354h2v1h-2zM372 354h2v1h-2zM384 354h2v1h-2zM397 354h2v1h-2zM409 354h2v1h-2zM421 354h2v1h-2zM433 354h2v1h-2zM445 354h2v1h-2zM457 354h3v1h-3zM470 354h2v1h-2zM482 354h2v1h-2zM494 354h2v1h-2zM506 354h2v1h-2zM518 354h2v1h-2zM531 354h2v1h-2zM543 354h2v1h-2zM555 354h2v1h-2zM567 354h2v1h-2zM65 355h2v1h-2zM78 355h2v1h-2zM90 355h2v1h-2zM102 355h2v1h-2zM114 355h2v1h-2zM126 355h2v1h-2zM139 355h2v1h-2zM151 355h2v1h-2zM163 355h2v1h-2zM175 355h2v1h-2zM187 355h2v1h-2zM199 355h3v1h-3zM212 355h2v1h-2zM224 355h2v1h-2zM236 355h2v1h-2zM248 355h2v1h-2zM260 355h2v1h-2zM273 355h2v1h-2zM285 355h2v1h-2zM297 355h2v1h-2zM309 355h2v1h-2zM321 355h2v1h-2zM334 355h2v1h-2zM346 355h2v1h-2zM358 355h2v1h-2zM370 355h2v1h-2zM382 355h2v1h-2zM395 355h2v1h-2zM407 355h2v1h-2zM419 355h2v1h-2zM431 355h2v1h-2zM443 355h2v1h-2zM455 355h3v1h-3zM468 355h2v1h-2zM480 355h2v1h-2zM492 355h2v1h-2zM504 355h2v1h-2zM516 355h2v1h-2zM529 355h2v1h-2zM541 355h2v1h-2zM553 355h2v1h-2zM565 355h2v1h-2zM67 356h2v1h-2zM79 356h3v1h-3zM92 356h2v1h-2zM104 356h2v1h-2zM116 356h2v1h-2zM128 356h2v1h-2zM140 356h2v1h-2zM153 356h2v1h-2zM165 356h2v1h-2zM177 356h2v1h-2zM189 356h2v1h-2zM201 356h2v1h-2zM214 356h2v1h-2zM226 356h2v1h-2zM238 356h2v1h-2zM250 356h2v1h-2zM262 356h2v1h-2zM275 356h2v1h-2zM287 356h2v1h-2zM299 356h2v1h-2zM311 356h2v1h-2zM323 356h2v1h-2zM335 356h3v1h-3zM348 356h2v1h-2zM360 356h2v1h-2zM372 356h2v1h-2zM384 356h2v1h-2zM396 356h2v1h-2zM409 356h2v1h-2zM421 356h2v1h-2zM433 356h2v1h-2zM445 356h2v1h-2zM457 356h2v1h-2zM470 356h2v1h-2zM482 356h2v1h-2zM494 356h2v1h-2zM506 356h2v1h-2zM518 356h2v1h-2zM531 356h2v1h-2zM543 356h2v1h-2zM555 356h2v1h-2zM567 356h2v1h-2zM66 357h2v1h-2zM78 357h2v1h-2zM90 357h2v1h-2zM102 357h2v1h-2zM114 357h2v1h-2zM126 357h3v1h-3zM139 357h2v1h-2zM151 357h2v1h-2zM163 357h2v1h-2zM175 357h2v1h-2zM187 357h2v1h-2zM200 357h2v1h-2zM212 357h2v1h-2zM224 357h2v1h-2zM236 357h2v1h-2zM248 357h2v1h-2zM261 357h2v1h-2zM273 357h2v1h-2zM285 357h2v1h-2zM297 357h2v1h-2zM309 357h2v1h-2zM322 357h2v1h-2zM334 357h2v1h-2zM346 357h2v1h-2zM358 357h2v1h-2zM370 357h2v1h-2zM382 357h2v1h-2zM395 357h2v1h-2zM407 357h2v1h-2zM419 357h2v1h-2zM431 357h2v1h-2zM443 357h2v1h-2zM456 357h2v1h-2zM468 357h2v1h-2zM480 357h2v1h-2zM492 357h2v1h-2zM504 357h2v1h-2zM517 357h2v1h-2zM529 357h2v1h-2zM541 357h2v1h-2zM553 357h2v1h-2zM565 357h2v1h-2zM67 358h2v1h-2zM79 358h2v1h-2zM92 358h2v1h-2zM104 358h2v1h-2zM116 358h2v1h-2zM128 358h2v1h-2zM140 358h2v1h-2zM153 358h2v1h-2zM165 358h2v1h-2zM177 358h2v1h-2zM189 358h2v1h-2zM201 358h2v1h-2zM213 358h3v1h-3zM226 358h2v1h-2zM238 358h2v1h-2zM250 358h2v1h-2zM262 358h2v1h-2zM274 358h2v1h-2zM287 358h2v1h-2zM299 358h2v1h-2zM311 358h2v1h-2zM323 358h2v1h-2zM335 358h2v1h-2zM348 358h2v1h-2zM360 358h2v1h-2zM372 358h2v1h-2zM384 358h2v1h-2zM396 358h2v1h-2zM409 358h2v1h-2zM421 358h2v1h-2zM433 358h2v1h-2zM445 358h2v1h-2zM457 358h2v1h-2zM469 358h3v1h-3zM482 358h2v1h-2zM494 358h2v1h-2zM506 358h2v1h-2zM518 358h2v1h-2zM530 358h2v1h-2zM543 358h2v1h-2zM555 358h2v1h-2zM567 358h2v1h-2zM66 359h2v1h-2zM78 359h2v1h-2zM90 359h2v1h-2zM102 359h2v1h-2zM114 359h2v1h-2zM127 359h2v1h-2zM139 359h2v1h-2zM151 359h2v1h-2zM163 359h2v1h-2zM175 359h2v1h-2zM188 359h2v1h-2zM200 359h2v1h-2zM212 359h2v1h-2zM224 359h2v1h-2zM236 359h2v1h-2zM248 359h3v1h-3zM261 359h2v1h-2zM273 359h2v1h-2zM285 359h2v1h-2zM297 359h2v1h-2zM309 359h2v1h-2zM322 359h2v1h-2zM334 359h2v1h-2zM346 359h2v1h-2zM358 359h2v1h-2zM370 359h2v1h-2zM383 359h2v1h-2zM395 359h2v1h-2zM407 359h2v1h-2zM419 359h2v1h-2zM431 359h2v1h-2zM444 359h2v1h-2zM456 359h2v1h-2zM468 359h2v1h-2zM480 359h2v1h-2zM492 359h2v1h-2zM504 359h2v1h-2zM517 359h2v1h-2zM529 359h2v1h-2zM541 359h2v1h-2zM553 359h2v1h-2zM565 359h2v1h-2zM67 360h2v1h-2zM79 360h2v1h-2zM91 360h3v1h-3zM104 360h2v1h-2zM116 360h2v1h-2zM128 360h2v1h-2zM140 360h2v1h-2zM152 360h2v1h-2zM165 360h2v1h-2zM177 360h2v1h-2zM189 360h2v1h-2zM201 360h2v1h-2zM213 360h2v1h-2zM226 360h2v1h-2zM238 360h2v1h-2zM250 360h2v1h-2zM262 360h2v1h-2zM274 360h2v1h-2zM287 360h2v1h-2zM299 360h2v1h-2zM311 360h2v1h-2zM323 360h2v1h-2zM335 360h2v1h-2zM347 360h3v1h-3zM360 360h2v1h-2zM372 360h2v1h-2zM384 360h2v1h-2zM396 360h2v1h-2zM408 360h2v1h-2zM421 360h2v1h-2zM433 360h2v1h-2zM445 360h2v1h-2zM457 360h2v1h-2zM469 360h2v1h-2zM482 360h2v1h-2zM494 360h2v1h-2zM506 360h2v1h-2zM518 360h2v1h-2zM530 360h2v1h-2zM543 360h2v1h-2zM555 360h2v1h-2zM567 360h2v1h-2zM66 361h2v1h-2zM78 361h2v1h-2zM90 361h2v1h-2zM102 361h2v1h-2zM114 361h3v1h-3zM127 361h2v1h-2zM139 361h2v1h-2zM151 361h2v1h-2zM163 361h2v1h-2zM175 361h2v1h-2zM188 361h2v1h-2zM200 361h2v1h-2zM212 361h2v1h-2zM224 361h2v1h-2zM236 361h2v1h-2zM249 361h2v1h-2zM261 361h2v1h-2zM273 361h2v1h-2zM285 361h2v1h-2zM297 361h2v1h-2zM310 361h2v1h-2zM322 361h2v1h-2zM334 361h2v1h-2zM346 361h2v1h-2zM358 361h2v1h-2zM370 361h3v1h-3zM383 361h2v1h-2zM395 361h2v1h-2zM407 361h2v1h-2zM419 361h2v1h-2zM431 361h2v1h-2zM444 361h2v1h-2zM456 361h2v1h-2zM468 361h2v1h-2zM480 361h2v1h-2zM492 361h2v1h-2zM505 361h2v1h-2zM517 361h2v1h-2zM529 361h2v1h-2zM541 361h2v1h-2zM553 361h2v1h-2zM566 361h2v1h-2zM67 362h2v1h-2zM79 362h2v1h-2zM91 362h2v1h-2zM104 362h2v1h-2zM116 362h2v1h-2zM128 362h2v1h-2zM140 362h2v1h-2zM152 362h2v1h-2zM165 362h2v1h-2zM177 362h2v1h-2zM189 362h2v1h-2zM201 362h2v1h-2zM213 362h2v1h-2zM225 362h3v1h-3zM238 362h2v1h-2zM250 362h2v1h-2zM262 362h2v1h-2zM274 362h2v1h-2zM286 362h2v1h-2zM299 362h2v1h-2zM311 362h2v1h-2zM323 362h2v1h-2zM335 362h2v1h-2zM347 362h2v1h-2zM360 362h2v1h-2zM372 362h2v1h-2zM384 362h2v1h-2zM396 362h2v1h-2zM408 362h2v1h-2zM421 362h2v1h-2zM433 362h2v1h-2zM445 362h2v1h-2zM457 362h2v1h-2zM469 362h2v1h-2zM481 362h2v1h-2zM494 362h2v1h-2zM506 362h2v1h-2zM518 362h2v1h-2zM530 362h2v1h-2zM542 362h2v1h-2zM555 362h2v1h-2zM567 362h2v1h-2zM66 363h2v1h-2zM78 363h2v1h-2zM90 363h2v1h-2zM102 363h2v1h-2zM115 363h2v1h-2zM127 363h2v1h-2zM139 363h2v1h-2zM151 363h2v1h-2zM163 363h2v1h-2zM176 363h2v1h-2zM188 363h2v1h-2zM200 363h2v1h-2zM212 363h2v1h-2zM224 363h2v1h-2zM236 363h3v1h-3zM249 363h2v1h-2zM261 363h2v1h-2zM273 363h2v1h-2zM285 363h2v1h-2zM297 363h2v1h-2zM310 363h2v1h-2zM322 363h2v1h-2zM334 363h2v1h-2zM346 363h2v1h-2zM358 363h2v1h-2zM371 363h2v1h-2zM383 363h2v1h-2zM395 363h2v1h-2zM407 363h2v1h-2zM419 363h2v1h-2zM432 363h2v1h-2zM444 363h2v1h-2zM456 363h2v1h-2zM468 363h2v1h-2zM480 363h2v1h-2zM492 363h3v1h-3zM505 363h2v1h-2zM517 363h2v1h-2zM529 363h2v1h-2zM541 363h2v1h-2zM553 363h2v1h-2zM566 363h2v1h-2zM67 364h2v1h-2zM79 364h2v1h-2zM91 364h2v1h-2zM103 364h3v1h-3zM116 364h2v1h-2zM128 364h2v1h-2zM140 364h2v1h-2zM152 364h2v1h-2zM164 364h2v1h-2zM177 364h2v1h-2zM189 364h2v1h-2zM201 364h2v1h-2zM213 364h2v1h-2zM225 364h2v1h-2zM238 364h2v1h-2zM250 364h2v1h-2zM262 364h2v1h-2zM274 364h2v1h-2zM286 364h2v1h-2zM299 364h2v1h-2zM311 364h2v1h-2zM323 364h2v1h-2zM335 364h2v1h-2zM347 364h2v1h-2zM359 364h2v1h-2zM372 364h2v1h-2zM384 364h2v1h-2zM396 364h2v1h-2zM408 364h2v1h-2zM420 364h2v1h-2zM433 364h2v1h-2zM445 364h2v1h-2zM457 364h2v1h-2zM469 364h2v1h-2zM481 364h2v1h-2zM494 364h2v1h-2zM506 364h2v1h-2zM518 364h2v1h-2zM530 364h2v1h-2zM542 364h2v1h-2zM554 364h3v1h-3zM567 364h2v1h-2zM66 365h2v1h-2zM78 365h2v1h-2zM90 365h2v1h-2zM102 365h3v1h-3zM115 365h2v1h-2zM127 365h2v1h-2zM139 365h2v1h-2zM151 365h2v1h-2zM163 365h2v1h-2zM176 365h2v1h-2zM188 365h2v1h-2zM200 365h2v1h-2zM212 365h2v1h-2zM224 365h2v1h-2zM237 365h2v1h-2zM249 365h2v1h-2zM261 365h2v1h-2zM273 365h2v1h-2zM285 365h2v1h-2zM298 365h2v1h-2zM310 365h2v1h-2zM322 365h2v1h-2zM334 365h2v1h-2zM346 365h2v1h-2zM358 365h3v1h-3zM371 365h2v1h-2zM383 365h2v1h-2zM395 365h2v1h-2zM407 365h2v1h-2zM419 365h2v1h-2zM432 365h2v1h-2zM444 365h2v1h-2zM456 365h2v1h-2zM468 365h2v1h-2zM480 365h2v1h-2zM493 365h2v1h-2zM505 365h2v1h-2zM517 365h2v1h-2zM529 365h2v1h-2zM541 365h2v1h-2zM554 365h2v1h-2zM566 365h2v1h-2zM66 367h3v1h-3zM78 367h3v1h-3zM90 367h3v1h-3zM103 367h2v1h-2zM115 367h3v1h-3zM127 367h3v1h-3zM139 367h3v1h-3zM151 367h3v1h-3zM164 367h2v1h-2zM176 367h3v1h-3zM188 367h3v1h-3zM200 367h3v1h-3zM212 367h3v1h-3zM224 367h3v1h-3zM237 367h2v1h-2zM249 367h3v1h-3zM261 367h3v1h-3zM273 367h3v1h-3zM285 367h3v1h-3zM298 367h2v1h-2zM310 367h3v1h-3zM322 367h3v1h-3zM334 367h3v1h-3zM346 367h3v1h-3zM359 367h2v1h-2zM371 367h3v1h-3zM383 367h3v1h-3zM395 367h3v1h-3zM407 367h3v1h-3zM420 367h2v1h-2zM432 367h2v1h-2zM444 367h3v1h-3zM456 367h3v1h-3zM468 367h3v1h-3zM480 367h3v1h-3zM493 367h2v1h-2zM505 367h3v1h-3zM517 367h3v1h-3zM529 367h3v1h-3zM541 367h3v1h-3zM554 367h2v1h-2zM566 367h3v1h-3zM66 369h3v1h-3zM78 369h3v1h-3zM90 369h3v1h-3zM103 369h2v1h-2zM115 369h2v1h-2zM127 369h3v1h-3zM139 369h3v1h-3zM151 369h3v1h-3zM164 369h2v1h-2zM176 369h2v1h-2zM188 369h3v1h-3zM200 369h3v1h-3zM212 369h3v1h-3zM225 369h2v1h-2zM237 369h2v1h-2zM249 369h3v1h-3zM261 369h3v1h-3zM273 369h3v1h-3zM286 369h2v1h-2zM298 369h2v1h-2zM310 369h2v1h-2zM322 369h3v1h-3zM334 369h3v1h-3zM346 369h3v1h-3zM359 369h2v1h-2zM371 369h2v1h-2zM383 369h3v1h-3zM395 369h3v1h-3zM407 369h3v1h-3zM420 369h2v1h-2zM432 369h2v1h-2zM444 369h3v1h-3zM456 369h3v1h-3zM468 369h3v1h-3zM481 369h2v1h-2zM493 369h2v1h-2zM505 369h3v1h-3zM517 369h3v1h-3zM529 369h3v1h-3zM542 369h2v1h-2zM554 369h2v1h-2zM566 369h2v1h-2zM66 371h3v1h-3zM78 371h3v1h-3zM91 371h2v1h-2zM103 371h2v1h-2zM115 371h2v1h-2zM127 371h3v1h-3zM139 371h3v1h-3zM152 371h2v1h-2zM164 371h2v1h-2zM176 371h2v1h-2zM188 371h3v1h-3zM200 371h3v1h-3zM212 371h3v1h-3zM225 371h2v1h-2zM237 371h2v1h-2zM249 371h2v1h-2zM261 371h3v1h-3zM273 371h3v1h-3zM286 371h2v1h-2zM298 371h2v1h-2zM310 371h2v1h-2zM322 371h3v1h-3zM334 371h3v1h-3zM347 371h2v1h-2zM359 371h2v1h-2zM371 371h2v1h-2zM383 371h3v1h-3zM395 371h3v1h-3zM408 371h2v1h-2zM420 371h2v1h-2zM432 371h2v1h-2zM444 371h2v1h-2zM456 371h3v1h-3zM468 371h3v1h-3zM481 371h2v1h-2zM493 371h2v1h-2zM505 371h2v1h-2zM517 371h3v1h-3zM529 371h3v1h-3zM542 371h2v1h-2zM554 371h2v1h-2zM566 371h2v1h-2zM66 373h3v1h-3zM78 373h3v1h-3zM91 373h2v1h-2zM103 373h2v1h-2zM115 373h2v1h-2zM127 373h2v1h-2zM139 373h3v1h-3zM152 373h2v1h-2zM164 373h2v1h-2zM176 373h2v1h-2zM188 373h2v1h-2zM200 373h3v1h-3zM213 373h2v1h-2zM225 373h2v1h-2zM237 373h2v1h-2zM249 373h2v1h-2zM261 373h3v1h-3zM274 373h2v1h-2zM286 373h2v1h-2zM298 373h2v1h-2zM310 373h2v1h-2zM322 373h3v1h-3zM334 373h3v1h-3zM347 373h2v1h-2zM359 373h2v1h-2zM371 373h2v1h-2zM383 373h2v1h-2zM395 373h3v1h-3zM408 373h2v1h-2zM420 373h2v1h-2zM432 373h2v1h-2zM444 373h2v1h-2zM456 373h3v1h-3zM469 373h2v1h-2zM481 373h2v1h-2zM493 373h2v1h-2zM505 373h2v1h-2zM517 373h3v1h-3zM530 373h2v1h-2zM542 373h2v1h-2zM554 373h2v1h-2zM566 373h2v1h-2zM66 375h2v1h-2zM79 375h2v1h-2zM91 375h2v1h-2zM103 375h2v1h-2zM115 375h2v1h-2zM127 375h2v1h-2zM140 375h2v1h-2zM152 375h2v1h-2zM164 375h2v1h-2zM176 375h2v1h-2zM188 375h2v1h-2zM200 375h3v1h-3zM213 375h2v1h-2zM225 375h2v1h-2zM237 375h2v1h-2zM249 375h2v1h-2zM261 375h2v1h-2zM274 375h2v1h-2zM286 375h2v1h-2zM298 375h2v1h-2zM310 375h2v1h-2zM322 375h2v1h-2zM335 375h2v1h-2zM347 375h2v1h-2zM359 375h2v1h-2zM371 375h2v1h-2zM383 375h2v1h-2zM396 375h2v1h-2zM408 375h2v1h-2zM420 375h2v1h-2zM432 375h2v1h-2zM444 375h2v1h-2zM456 375h3v1h-3zM469 375h2v1h-2zM481 375h2v1h-2zM493 375h2v1h-2zM505 375h2v1h-2zM517 375h2v1h-2zM530 375h2v1h-2zM542 375h2v1h-2zM554 375h2v1h-2zM566 375h2v1h-2zM66 377h3v1h-3zM78 377h3v1h-3zM91 377h2v1h-2zM103 377h2v1h-2zM115 377h2v1h-2zM127 377h2v1h-2zM139 377h3v1h-3zM152 377h2v1h-2zM164 377h2v1h-2zM176 377h2v1h-2zM188 377h2v1h-2zM200 377h3v1h-3zM213 377h2v1h-2zM225 377h2v1h-2zM237 377h2v1h-2zM249 377h2v1h-2zM261 377h3v1h-3zM274 377h2v1h-2zM286 377h2v1h-2zM298 377h2v1h-2zM310 377h2v1h-2zM322 377h3v1h-3zM334 377h3v1h-3zM347 377h2v1h-2zM359 377h2v1h-2zM371 377h2v1h-2zM383 377h2v1h-2zM395 377h3v1h-3zM408 377h2v1h-2zM420 377h2v1h-2zM432 377h2v1h-2zM444 377h2v1h-2zM456 377h3v1h-3zM469 377h2v1h-2zM481 377h2v1h-2zM493 377h2v1h-2zM505 377h2v1h-2zM517 377h3v1h-3zM530 377h2v1h-2zM542 377h2v1h-2zM554 377h2v1h-2zM566 377h2v1h-2zM66 379h3v1h-3zM78 379h3v1h-3zM91 379h2v1h-2zM103 379h2v1h-2zM115 379h2v1h-2zM127 379h3v1h-3zM139 379h3v1h-3zM152 379h2v1h-2zM164 379h2v1h-2zM176 379h2v1h-2zM188 379h3v1h-3zM200 379h3v1h-3zM212 379h3v1h-3zM225 379h2v1h-2zM237 379h2v1h-2zM249 379h2v1h-2zM261 379h3v1h-3zM273 379h3v1h-3zM286 379h2v1h-2zM298 379h2v1h-2zM310 379h2v1h-2zM322 379h3v1h-3zM334 379h3v1h-3zM347 379h2v1h-2zM359 379h2v1h-2zM371 379h2v1h-2zM383 379h3v1h-3zM395 379h3v1h-3zM407 379h3v1h-3zM420 379h2v1h-2zM432 379h2v1h-2zM444 379h3v1h-3zM456 379h3v1h-3zM468 379h3v1h-3zM481 379h2v1h-2zM493 379h2v1h-2zM505 379h2v1h-2zM517 379h3v1h-3zM529 379h3v1h-3zM542 379h2v1h-2zM554 379h2v1h-2zM566 379h2v1h-2zM66 381h3v1h-3zM78 381h3v1h-3zM90 381h3v1h-3zM103 381h2v1h-2zM115 381h3v1h-3zM127 381h3v1h-3zM139 381h3v1h-3zM151 381h3v1h-3zM164 381h2v1h-2zM176 381h2v1h-2zM188 381h3v1h-3zM200 381h3v1h-3zM212 381h3v1h-3zM224 381h3v1h-3zM237 381h2v1h-2zM249 381h3v1h-3zM261 381h3v1h-3zM273 381h3v1h-3zM285 381h3v1h-3zM298 381h2v1h-2zM310 381h3v1h-3zM322 381h3v1h-3zM334 381h3v1h-3zM346 381h3v1h-3zM359 381h2v1h-2zM371 381h3v1h-3zM383 381h3v1h-3zM395 381h3v1h-3zM407 381h3v1h-3zM420 381h2v1h-2zM432 381h2v1h-2zM444 381h3v1h-3zM456 381h3v1h-3zM468 381h3v1h-3zM480 381h3v1h-3zM493 381h2v1h-2zM505 381h3v1h-3zM517 381h3v1h-3zM529 381h3v1h-3zM541 381h3v1h-3zM554 381h2v1h-2zM566 381h3v1h-3z" fill="#ff00ff" shape-rendering="crispEdges"/>
<path d="M135 128h4v1h-4zM220 128h4v1h-4zM305 128h4v1h-4zM390 128h4v1h-4zM475 128h4v1h-4zM561 128h3v1h-3zM133 129h8v1h-8zM218 129h8v1h-8zM303 129h8v1h-8zM388 129h8v1h-8zM474 129h7v1h-7zM559 129h7v1h-7zM132 130h4v1h-4zM138 130h4v1h-4zM217 130h4v1h-4zM223 130h4v1h-4zM302 130h4v1h-4zM308 130h4v1h-4zM387 130h4v1h-4zM393 130h4v1h-4zM472 130h4v1h-4zM478 130h4v1h-4zM557 130h5v1h-5zM563 130h5v1h-5zM130 131h4v1h-4zM140 131h4v1h-4zM215 131h4v1h-4zM225 131h4v1h-4zM300 131h4v1h-4zM310 131h4v1h-4zM385 131h4v1h-4zM395 131h4v1h-4zM470 131h5v1h-5zM480 131h4v1h-4zM556 131h4v1h-4zM565 131h4v1h-4zM129 132h4v1h-4zM141 132h4v1h-4zM214 132h4v1h-4zM226 132h4v1h-4zM299 132h4v1h-4zM311 132h4v1h-4zM385 132h3v1h-3zM396 132h4v1h-4zM470 132h3v1h-3zM481 132h4v1h-4zM555 132h3v1h-3zM567 132h3v1h-3zM129 133h2v1h-2zM143 133h2v1h-2zM214 133h2v1h-2zM228 133h2v1h-2zM299 133h2v1h-2zM313 133h3v1h-3zM384 133h3v1h-3zM398 133h3v1h-3zM469 133h3v1h-3zM483 133h3v1h-3zM554 133h3v1h-3zM568 133h3v1h-3zM128 134h3v1h-3zM143 134h3v1h-3zM213 134h3v1h-3zM228 134h3v1h-3zM298 134h3v1h-3zM314 134h2v1h-2zM383 134h3v1h-3zM399 134h2v1h-2zM468 134h3v1h-3zM484 134h2v1h-2zM553 134h3v1h-3zM569 134h3v1h-3zM127 135h3v1h-3zM144 135h3v1h-3zM212 135h3v1h-3zM229 135h3v1h-3zM298 135h2v1h-2zM314 135h3v1h-3zM383 135h2v1h-2zM399 135h3v1h-3zM468 135h2v1h-2zM484 135h3v1h-3zM553 135h2v1h-2zM570 135h2v1h-2zM127 136h2v1h-2zM145 136h2v1h-2zM212 136h2v1h-2zM230 136h2v1h-2zM297 136h3v1h-3zM315 136h2v1h-2zM382 136h3v1h-3zM400 136h2v1h-2zM467 136h3v1h-3zM485 136h3v1h-3zM552 136h3v1h-3zM570 136h3v1h-3zM126 137h3v1h-3zM145 137h3v1h-3zM211 137h3v1h-3zM230 137h3v1h-3zM296 137h3v1h-3zM315 137h3v1h-3zM382 137h2v1h-2zM400 137h3v1h-3zM467 137h2v1h-2zM486 137h2v1h-2zM552 137h2v1h-2zM571 137h2v1h-2zM126 138h2v1h-2zM146 138h2v1h-2zM211 138h2v1h-2zM231 138h2v1h-2zM296 138h2v1h-2zM316 138h2v1h-2zM381 138h3v1h-3zM401 138h2v1h-2zM466 138h3v1h-3zM486 138h3v1h-3zM551 138h3v1h-3zM571 138h2v1h-2zM125 139h3v1h-3zM146 139h3v1h-3zM210 139h3v1h-3zM231 139h3v1h-3zM296 139h2v1h-2zM316 139h3v1h-3zM381 139h2v1h-2zM401 139h3v1h-3zM466 139h2v1h-2zM487 139h2v1h-2zM551 139h2v1h-2zM572 139h1v1h-1zM62 140h2v1h-2zM125 140h2v1h-2zM147 140h2v1h-2zM210 140h2v1h-2zM232 140h2v1h-2zM295 140h3v1h-3zM317 140h2v1h-2zM380 140h3v1h-3zM402 140h2v1h-2zM465 140h3v1h-3zM487 140h2v1h-2zM550 140h3v1h-3zM572 140h1v1h-1zM62 141h2v1h-2zM124 141h3v1h-3zM147 141h2v1h-2zM210 141h2v1h-2zM232 141h3v1h-3zM295 141h2v1h-2zM317 141h3v1h-3zM380 141h2v1h-2zM402 141h3v1h-3zM465 141h2v1h-2zM487 141h3v1h-3zM550 141h2v1h-2zM62 142h3v1h-3zM124 142h2v1h-2zM147 142h3v1h-3zM209 142h3v1h-3zM233 142h2v1h-2zM294 142h3v1h-3zM318 142h2v1h-2zM379 142h3v1h-3zM403 142h2v1h-2zM465 142h2v1h-2zM488 142h2v1h-2zM550 142h2v1h-2zM63 143h2v1h-2zM124 143h2v1h-2zM148 143h2v1h-2zM209 143h2v1h-2zM233 143h2v1h-2zM294 143h2v1h-2zM318 143h2v1h-2zM379 143h2v1h-2zM403 143h3v1h-3zM464 143h2v1h-2zM488 143h3v1h-3zM549 143h3v1h-3zM63 144h2v1h-2zM123 144h3v1h-3zM148 144h3v1h-3zM208 144h3v1h-3zM233 144h3v1h-3zM294 144h2v1h-2zM318 144h3v1h-3zM379 144h2v1h-2zM404 144h2v1h-2zM464 144h2v1h-2zM489 144h2v1h-2zM549 144h2v1h-2zM64 145h2v1h-2zM123 145h2v1h-2zM149 145h2v1h-2zM208 145h2v1h-2zM234 145h2v1h-2zM293 145h3v1h-3zM319 145h2v1h-2zM378 145h3v1h-3zM404 145h2v1h-2zM463 145h3v1h-3zM489 145h2v1h-2zM548 145h3v1h-3zM64 146h2v1h-2zM123 146h2v1h-2zM149 146h2v1h-2zM208 146h2v1h-2zM234 146h2v1h-2zM293 146h2v1h-2zM319 146h3v1h-3zM378 146h2v1h-2zM404 146h3v1h-3zM463 146h2v1h-2zM489 146h3v1h-3zM548 146h2v1h-2zM64 147h3v1h-3zM122 147h3v1h-3zM149 147h3v1h-3zM207 147h3v1h-3zM234 147h3v1h-3zM292 147h3v1h-3zM320 147h2v1h-2zM378 147h2v1h-2zM405 147h2v1h-2zM463 147h2v1h-2zM490 147h2v1h-2zM548 147h2v1h-2zM65 148h2v1h-2zM122 148h2v1h-2zM150 148h2v1h-2zM207 148h2v1h-2zM235 148h2v1h-2zM292 148h2v1h-2zM320 148h2v1h-2zM377 148h3v1h-3zM405 148h2v1h-2zM462 148h3v1h-3zM490 148h2v1h-2zM547 148h3v1h-3zM65 149h2v1h-2zM122 149h2v1h-2zM150 149h2v1h-2zM207 149h2v1h-2zM235 149h2v1h-2zM292 149h2v1h-2zM320 149h3v1h-3zM377 149h2v1h-2zM405 149h3v1h-3zM462 149h2v1h-2zM490 149h3v1h-3zM547 149h2v1h-2zM65 150h3v1h-3zM121 150h3v1h-3zM150 150h3v1h-3zM206 150h3v1h-3zM235 150h3v1h-3zM291 150h3v1h-3zM321 150h2v1h-2zM377 150h2v1h-2zM406 150h2v1h-2zM462 150h2v1h-2zM491 150h2v1h-2zM547 150h2v1h-2zM66 151h2v1h-2zM121 151h2v1h-2zM151 151h2v1h-2zM206 151h2v1h-2zM236 151h2v1h-2zM291 151h2v1h-2zM321 151h2v1h-2zM376 151h3v1h-3zM406 151h2v1h-2zM461 151h3v1h-3zM491 151h2v1h-2zM546 151h3v1h-3zM66 152h2v1h-2zM121 152h2v1h-2zM151 152h2v1h-2zM206 152h2v1h-2zM236 152h2v1h-2zM291 152h2v1h-2zM321 152h2v1h-2zM376 152h2v1h-2zM406 152h3v1h-3zM461 152h2v1h-2zM491 152h3v1h-3zM546 152h2v1h-2zM66 153h2v1h-2zM120 153h3v1h-3zM151 153h3v1h-3zM205 153h3v1h-3zM236 153h3v1h-3zM291 153h2v1h-2zM321 153h3v1h-3zM376 153h2v1h-2zM407 153h2v1h-2zM461 153h2v1h-2zM492 153h2v1h-2zM546 153h2v1h-2zM66 154h3v1h-3zM120 154h2v1h-2zM152 154h2v1h-2zM205 154h2v1h-2zM237 154h2v1h-2zM290 154h3v1h-3zM322 154h2v1h-2zM375 154h3v1h-3zM407 154h2v1h-2zM460 154h3v1h-3zM492 154h2v1h-2zM546 154h2v1h-2zM67 155h2v1h-2zM120 155h2v1h-2zM152 155h2v1h-2zM205 155h2v1h-2zM237 155h2v1h-2zM290 155h2v1h-2zM322 155h2v1h-2zM375 155h2v1h-2zM407 155h2v1h-2zM460 155h2v1h-2zM492 155h3v1h-3zM545 155h3v1h-3zM67 156h2v1h-2zM119 156h3v1h-3zM152 156h2v1h-2zM205 156h2v1h-2zM237 156h3v1h-3zM290 156h2v1h-2zM322 156h3v1h-3zM375 156h2v1h-2zM407 156h3v1h-3zM460 156h2v1h-2zM493 156h2v1h-2zM545 156h2v1h-2zM67 157h3v1h-3zM119 157h2v1h-2zM152 157h3v1h-3zM204 157h3v1h-3zM238 157h2v1h-2zM289 157h3v1h-3zM323 157h2v1h-2zM375 157h2v1h-2zM408 157h2v1h-2zM460 157h2v1h-2zM493 157h2v1h-2zM545 157h2v1h-2zM68 158h2v1h-2zM119 158h2v1h-2zM153 158h2v1h-2zM204 158h2v1h-2zM238 158h2v1h-2zM289 158h2v1h-2zM323 158h2v1h-2zM374 158h3v1h-3zM408 158h2v1h-2zM459 158h3v1h-3zM493 158h2v1h-2zM544 158h3v1h-3zM68 159h2v1h-2zM119 159h2v1h-2zM153 159h2v1h-2zM204 159h2v1h-2zM238 159h2v1h-2zM289 159h2v1h-2zM323 159h2v1h-2zM374 159h2v1h-2zM408 159h3v1h-3zM459 159h2v1h-2zM493 159h3v1h-3zM544 159h2v1h-2zM68 160h2v1h-2zM118 160h3v1h-3zM153 160h2v1h-2zM204 160h2v1h-2zM238 160h3v1h-3zM289 160h2v1h-2zM323 160h3v1h-3zM374 160h2v1h-2zM409 160h2v1h-2zM459 160h2v1h-2zM494 160h2v1h-2zM544 160h2v1h-2zM68 161h3v1h-3zM118 161h2v1h-2zM153 161h3v1h-3zM203 161h3v1h-3zM239 161h2v1h-2zM288 161h3v1h-3zM324 161h2v1h-2zM373 161h3v1h-3zM409 161h2v1h-2zM459 161h2v1h-2zM494 161h2v1h-2zM544 161h2v1h-2zM69 162h2v1h-2zM118 162h2v1h-2zM154 162h2v1h-2zM203 162h2v1h-2zM239 162h2v1h-2zM288 162h2v1h-2zM324 162h2v1h-2zM373 162h2v1h-2zM409 162h2v1h-2zM458 162h3v1h-3zM494 162h2v1h-2zM543 162h3v1h-3zM69 163h2v1h-2zM118 163h2v1h-2zM154 163h2v1h-2zM203 163h2v1h-2zM239 163h2v1h-2zM288 163h2v1h-2zM324 163h2v1h-2zM373 163h2v1h-2zM409 163h3v1h-3zM458 163h2v1h-2zM494 163h3v1h-3zM543 163h2v1h-2zM69 164h2v1h-2zM117 164h3v1h-3zM154 164h2v1h-2zM203 164h2v1h-2zM239 164h3v1h-3zM288 164h2v1h-2zM324 164h3v1h-3zM373 164h2v1h-2zM410 164h2v1h-2zM458 164h2v1h-2zM495 164h2v1h-2zM543 164h2v1h-2zM69 165h3v1h-3zM117 165h2v1h-2zM154 165h3v1h-3zM202 165h3v1h-3zM240 165h2v1h-2zM287 165h3v1h-3zM325 165h2v1h-2zM372 165h3v1h-3zM410 165h2v1h-2zM458 165h2v1h-2zM495 165h2v1h-2zM543 165h2v1h-2zM70 166h2v1h-2zM117 166h2v1h-2zM155 166h2v1h-2zM202 166h2v1h-2zM240 166h2v1h-2zM287 166h2v1h-2zM325 166h2v1h-2zM372 166h2v1h-2zM410 166h2v1h-2zM457 166h3v1h-3zM495 166h2v1h-2zM542 166h3v1h-3zM70 167h2v1h-2zM117 167h2v1h-2zM155 167h2v1h-2zM202 167h2v1h-2zM240 167h2v1h-2zM287 167h2v1h-2zM325 167h2v1h-2zM372 167h2v1h-2zM410 167h3v1h-3zM457 167h2v1h-2zM495 167h3v1h-3zM542 167h2v1h-2zM70 168h2v1h-2zM116 168h3v1h-3zM155 168h2v1h-2zM202 168h2v1h-2zM240 168h3v1h-3zM287 168h2v1h-2zM325 168h3v1h-3zM372 168h2v1h-2zM411 168h2v1h-2zM457 168h2v1h-2zM496 168h2v1h-2zM542 168h2v1h-2zM70 169h3v1h-3zM116 169h2v1h-2zM155 169h3v1h-3zM201 169h3v1h-3zM241 169h2v1h-2zM286 169h3v1h-3zM326 169h2v1h-2zM372 169h2v1h-2zM411 169h2v1h-2zM457 169h2v1h-2zM496 169h2v1h-2zM542 169h2v1h-2zM71 170h2v1h-2zM116 170h2v1h-2zM156 170h2v1h-2zM201 170h2v1h-2zM241 170h2v1h-2zM286 170h2v1h-2zM326 170h2v1h-2zM371 170h3v1h-3zM411 170h2v1h-2zM456 170h3v1h-3zM496 170h2v1h-2zM542 170h2v1h-2zM71 171h2v1h-2zM116 171h2v1h-2zM156 171h2v1h-2zM201 171h2v1h-2zM241 171h2v1h-2zM286 171h2v1h-2zM326 171h2v1h-2zM371 171h2v1h-2zM411 171h2v1h-2zM456 171h2v1h-2zM496 171h3v1h-3zM541 171h3v1h-3zM71 172h2v1h-2zM116 172h2v1h-2zM156 172h2v1h-2zM201 172h2v1h-2zM241 172h2v1h-2zM286 172h2v1h-2zM326 172h3v1h-3zM371 172h2v1h-2zM411 172h3v1h-3zM456 172h2v1h-2zM497 172h2v1h-2zM541 172h2v1h-2zM71 173h2v1h-2zM115 173h3v1h-3zM156 173h3v1h-3zM200 173h3v1h-3zM241 173h3v1h-3zM286 173h2v1h-2zM327 173h2v1h-2zM371 173h2v1h-2zM412 173h2v1h-2zM456 173h2v1h-2zM497 173h2v1h-2zM541 173h2v1h-2zM71 174h3v1h-3zM115 174h2v1h-2zM157 174h2v1h-2zM200 174h2v1h-2zM242 174h2v1h-2zM285 174h3v1h-3zM327 174h2v1h-2zM370 174h3v1h-3zM412 174h2v1h-2zM456 174h2v1h-2zM497 174h2v1h-2zM541 174h2v1h-2zM72 175h2v1h-2zM115 175h2v1h-2zM157 175h2v1h-2zM200 175h2v1h-2zM242 175h2v1h-2zM285 175h2v1h-2zM327 175h2v1h-2zM370 175h2v1h-2zM412 175h2v1h-2zM455 175h3v1h-3zM497 175h2v1h-2zM540 175h3v1h-3zM72 176h2v1h-2zM115 176h2v1h-2zM157 176h2v1h-2zM200 176h2v1h-2zM242 176h2v1h-2zM285 176h2v1h-2zM327 176h2v1h-2zM370 176h2v1h-2zM412 176h3v1h-3zM455 176h2v1h-2zM497 176h3v1h-3zM540 176h2v1h-2zM72 177h2v1h-2zM115 177h2v1h-2zM157 177h2v1h-2zM200 177h2v1h-2zM242 177h2v1h-2zM285 177h2v1h-2zM327 177h3v1h-3zM370 177h2v1h-2zM413 177h2v1h-2zM455 177h2v1h-2zM498 177h2v1h-2zM540 177h2v1h-2zM72 178h2v1h-2zM114 178h3v1h-3zM157 178h3v1h-3zM199 178h3v1h-3zM243 178h2v1h-2zM285 178h2v1h-2zM328 178h2v1h-2zM370 178h2v1h-2zM413 178h2v1h-2zM455 178h2v1h-2zM498 178h2v1h-2zM540 178h2v1h-2zM72 179h3v1h-3zM114 179h2v1h-2zM158 179h2v1h-2zM199 179h2v1h-2zM243 179h2v1h-2zM284 179h3v1h-3zM328 179h2v1h-2zM369 179h3v1h-3zM413 179h2v1h-2zM455 179h2v1h-2zM498 179h2v1h-2zM540 179h2v1h-2zM73 180h2v1h-2zM114 180h2v1h-2zM158 180h2v1h-2zM199 180h2v1h-2zM243 180h2v1h-2zM284 180h2v1h-2zM328 180h2v1h-2zM369 180h2v1h-2zM413 180h2v1h-2zM454 180h3v1h-3zM498 180h2v1h-2zM539 180h3v1h-3zM73 181h2v1h-2zM114 181h2v1h-2zM158 181h2v1h-2zM199 181h2v1h-2zM243 181h2v1h-2zM284 181h2v1h-2zM328 181h2v1h-2zM369 181h2v1h-2zM413 181h3v1h-3zM454 181h2v1h-2zM498 181h3v1h-3zM539 181h2v1h-2zM73 182h2v1h-2zM114 182h2v1h-2zM158 182h2v1h-2zM199 182h2v1h-2zM243 182h3v1h-3zM284 182h2v1h-2zM328 182h3v1h-3zM369 182h2v1h-2zM414 182h2v1h-2zM454 182h2v1h-2zM499 182h2v1h-2zM539 182h2v1h-2zM73 183h2v1h-2zM113 183h2v1h-2zM158 183h3v1h-3zM198 183h3v1h-3zM244 183h2v1h-2zM284 183h2v1h-2zM329 183h2v1h-2zM369 183h2v1h-2zM414 183h2v1h-2zM454 183h2v1h-2zM499 183h2v1h-2zM539 183h2v1h-2zM73 184h3v1h-3zM113 184h2v1h-2zM159 184h2v1h-2zM198 184h2v1h-2zM244 184h2v1h-2zM283 184h3v1h-3zM329 184h2v1h-2zM368 184h3v1h-3zM414 184h2v1h-2zM454 184h2v1h-2zM499 184h2v1h-2zM539 184h2v1h-2zM74 185h2v1h-2zM113 185h2v1h-2zM159 185h2v1h-2zM198 185h2v1h-2zM244 185h2v1h-2zM283 185h2v1h-2zM329 185h2v1h-2zM368 185h2v1h-2zM414 185h2v1h-2zM453 185h3v1h-3zM499 185h2v1h-2zM538 185h3v1h-3zM74 186h2v1h-2zM113 186h2v1h-2zM159 186h2v1h-2zM198 186h2v1h-2zM244 186h2v1h-2zM283 186h2v1h-2zM329 186h2v1h-2zM368 186h2v1h-2zM414 186h2v1h-2zM453 186h2v1h-2zM499 186h3v1h-3zM538 186h2v1h-2zM74 187h2v1h-2zM113 187h2v1h-2zM159 187h2v1h-2zM198 187h2v1h-2zM244 187h2v1h-2zM283 187h2v1h-2zM329 187h3v1h-3zM368 187h2v1h-2zM414 187h3v1h-3zM453 187h2v1h-2zM500 187h2v1h-2zM538 187h2v1h-2zM74 188h2v1h-2zM112 188h3v1h-3zM159 188h3v1h-3zM197 188h3v1h-3zM244 188h3v1h-3zM283 188h2v1h-2zM330 188h2v1h-2zM368 188h2v1h-2zM415 188h2v1h-2zM453 188h2v1h-2zM500 188h2v1h-2zM538 188h2v1h-2zM74 189h3v1h-3zM112 189h2v1h-2zM160 189h2v1h-2zM197 189h2v1h-2zM245 189h2v1h-2zM282 189h3v1h-3zM330 189h2v1h-2zM368 189h2v1h-2zM415 189h2v1h-2zM453 189h2v1h-2zM500 189h2v1h-2zM538 189h2v1h-2zM75 190h2v1h-2zM112 190h2v1h-2zM160 190h2v1h-2zM197 190h2v1h-2zM245 190h2v1h-2zM282 190h2v1h-2zM330 190h2v1h-2zM367 190h3v1h-3zM415 190h2v1h-2zM452 190h3v1h-3zM500 190h2v1h-2zM538 190h2v1h-2zM75 191h2v1h-2zM112 191h2v1h-2zM160 191h2v1h-2zM197 191h2v1h-2zM245 191h2v1h-2zM282 191h2v1h-2zM330 191h2v1h-2zM367 191h2v1h-2zM415 191h2v1h-2zM452 191h2v1h-2zM500 191h3v1h-3zM537 191h3v1h-3zM75 192h2v1h-2zM112 192h2v1h-2zM160 192h2v1h-2zM197 192h2v1h-2zM245 192h2v1h-2zM282 192h2v1h-2zM330 192h2v1h-2zM367 192h2v1h-2zM415 192h3v1h-3zM452 192h2v1h-2zM501 192h2v1h-2zM537 192h2v1h-2zM75 193h2v1h-2zM111 193h3v1h-3zM160 193h2v1h-2zM197 193h2v1h-2zM245 193h3v1h-3zM282 193h2v1h-2zM330 193h3v1h-3zM367 193h2v1h-2zM416 193h2v1h-2zM452 193h2v1h-2zM501 193h2v1h-2zM537 193h2v1h-2zM75 194h2v1h-2zM111 194h2v1h-2zM160 194h3v1h-3zM196 194h3v1h-3zM246 194h2v1h-2zM282 194h2v1h-2zM331 194h2v1h-2zM367 194h2v1h-2zM416 194h2v1h-2zM452 194h2v1h-2zM501 194h2v1h-2zM537 194h2v1h-2zM76 195h2v1h-2zM111 195h2v1h-2zM161 195h2v1h-2zM196 195h2v1h-2zM246 195h2v1h-2zM281 195h3v1h-3zM331 195h2v1h-2zM366 195h3v1h-3zM416 195h2v1h-2zM452 195h2v1h-2zM501 195h2v1h-2zM537 195h2v1h-2zM76 196h2v1h-2zM111 196h2v1h-2zM161 196h2v1h-2zM196 196h2v1h-2zM246 196h2v1h-2zM281 196h2v1h-2zM331 196h2v1h-2zM366 196h2v1h-2zM416 196h2v1h-2zM451 196h3v1h-3zM501 196h2v1h-2zM536 196h3v1h-3zM76 197h2v1h-2zM111 197h2v1h-2zM161 197h2v1h-2zM196 197h2v1h-2zM246 197h2v1h-2zM281 197h2v1h-2zM331 197h2v1h-2zM366 197h2v1h-2zM416 197h2v1h-2zM451 197h2v1h-2zM501 197h3v1h-3zM536 197h2v1h-2zM76 198h2v1h-2zM111 198h2v1h-2zM161 198h2v1h-2zM196 198h2v1h-2zM246 198h2v1h-2zM281 198h2v1h-2zM331 198h3v1h-3zM366 198h2v1h-2zM416 198h3v1h-3zM451 198h2v1h-2zM502 198h2v1h-2zM536 198h2v1h-2zM76 199h2v1h-2zM110 199h3v1h-3zM161 199h2v1h-2zM196 199h2v1h-2zM246 199h3v1h-3zM281 199h2v1h-2zM332 199h2v1h-2zM366 199h2v1h-2zM417 199h2v1h-2zM451 199h2v1h-2zM502 199h2v1h-2zM536 199h2v1h-2zM76 200h3v1h-3zM110 200h2v1h-2zM161 200h3v1h-3zM195 200h3v1h-3zM247 200h2v1h-2zM280 200h3v1h-3zM332 200h2v1h-2zM366 200h2v1h-2zM417 200h2v1h-2zM451 200h2v1h-2zM502 200h2v1h-2zM536 200h2v1h-2zM77 201h2v1h-2zM110 201h2v1h-2zM162 201h2v1h-2zM195 201h2v1h-2zM247 201h2v1h-2zM280 201h2v1h-2zM332 201h2v1h-2zM365 201h3v1h-3zM417 201h2v1h-2zM451 201h2v1h-2zM502 201h2v1h-2zM536 201h2v1h-2zM77 202h2v1h-2zM110 202h2v1h-2zM162 202h2v1h-2zM195 202h2v1h-2zM247 202h2v1h-2zM280 202h2v1h-2zM332 202h2v1h-2zM365 202h2v1h-2zM417 202h2v1h-2zM450 202h3v1h-3zM502 202h2v1h-2zM535 202h3v1h-3zM77 203h2v1h-2zM110 203h2v1h-2zM162 203h2v1h-2zM195 203h2v1h-2zM247 203h2v1h-2zM280 203h2v1h-2zM332 203h2v1h-2zM365 203h2v1h-2zM417 203h2v1h-2zM450 203h2v1h-2zM502 203h3v1h-3zM535 203h2v1h-2zM77 204h2v1h-2zM110 204h2v1h-2zM162 204h2v1h-2zM195 204h2v1h-2zM247 204h2v1h-2zM280 204h2v1h-2zM332 204h3v1h-3zM365 204h2v1h-2zM417 204h3v1h-3zM450 204h2v1h-2zM503 204h2v1h-2zM535 204h2v1h-2zM77 205h2v1h-2zM109 205h3v1h-3zM162 205h2v1h-2zM195 205h2v1h-2zM247 205h3v1h-3zM280 205h2v1h-2zM333 205h2v1h-2zM365 205h2v1h-2zM418 205h2v1h-2zM450 205h2v1h-2zM503 205h2v1h-2zM535 205h2v1h-2zM77 206h3v1h-3zM109 206h2v1h-2zM162 206h3v1h-3zM194 206h3v1h-3zM248 206h2v1h-2zM280 206h2v1h-2zM333 206h2v1h-2zM365 206h2v1h-2zM418 206h2v1h-2zM450 206h2v1h-2zM503 206h2v1h-2zM535 206h2v1h-2zM78 207h2v1h-2zM109 207h2v1h-2zM163 207h2v1h-2zM194 207h2v1h-2zM248 207h2v1h-2zM279 207h2v1h-2zM333 207h2v1h-2zM364 207h3v1h-3zM418 207h2v1h-2zM450 207h2v1h-2zM503 207h2v1h-2zM535 207h2v1h-2zM78 208h2v1h-2zM109 208h2v1h-2zM163 208h2v1h-2zM194 208h2v1h-2zM248 208h2v1h-2zM279 208h2v1h-2zM333 208h2v1h-2zM364 208h2v1h-2zM418 208h2v1h-2zM449 208h3v1h-3zM503 208h2v1h-2zM535 208h2v1h-2zM78 209h2v1h-2zM109 209h2v1h-2zM163 209h2v1h-2zM194 209h2v1h-2zM248 209h2v1h-2zM279 209h2v1h-2zM333 209h2v1h-2zM364 209h2v1h-2zM418 209h2v1h-2zM449 209h2v1h-2zM503 209h3v1h-3zM534 209h3v1h-3zM78 210h2v1h-2zM109 210h2v1h-2zM163 210h2v1h-2zM194 210h2v1h-2zM248 210h2v1h-2zM279 210h2v1h-2zM333 210h2v1h-2zM364 210h2v1h-2zM418 210h3v1h-3zM449 210h2v1h-2zM504 210h2v1h-2zM534 210h2v1h-2zM78 211h2v1h-2zM109 211h2v1h-2zM163 211h2v1h-2zM194 211h2v1h-2zM248 211h3v1h-3zM279 211h2v1h-2zM333 211h3v1h-3zM364 211h2v1h-2zM419 211h2v1h-2zM449 211h2v1h-2zM504 211h2v1h-2zM534 211h2v1h-2zM78 212h2v1h-2zM108 212h2v1h-2zM163 212h3v1h-3zM193 212h3v1h-3zM249 212h2v1h-2zM279 212h2v1h-2zM334 212h2v1h-2zM364 212h2v1h-2zM419 212h2v1h-2zM449 212h2v1h-2zM504 212h2v1h-2zM534 212h2v1h-2zM78 213h3v1h-3zM108 213h2v1h-2zM164 213h2v1h-2zM193 213h2v1h-2zM249 213h2v1h-2zM278 213h3v1h-3zM334 213h2v1h-2zM364 213h2v1h-2zM419 213h2v1h-2zM449 213h2v1h-2zM504 213h2v1h-2zM534 213h2v1h-2zM79 214h2v1h-2zM108 214h2v1h-2zM164 214h2v1h-2zM193 214h2v1h-2zM249 214h2v1h-2zM278 214h2v1h-2zM334 214h2v1h-2zM363 214h3v1h-3zM419 214h2v1h-2zM448 214h3v1h-3zM504 214h2v1h-2zM534 214h2v1h-2zM79 215h2v1h-2zM108 215h2v1h-2zM164 215h2v1h-2zM193 215h2v1h-2zM249 215h2v1h-2zM278 215h2v1h-2zM334 215h2v1h-2zM363 215h2v1h-2zM419 215h2v1h-2zM448 215h2v1h-2zM504 215h2v1h-2zM533 215h3v1h-3zM79 216h2v1h-2zM108 216h2v1h-2zM164 216h2v1h-2zM193 216h2v1h-2zM249 216h2v1h-2zM278 216h2v1h-2zM334 216h2v1h-2zM363 216h2v1h-2zM419 216h2v1h-2zM448 216h2v1h-2zM504 216h3v1h-3zM533 216h2v1h-2zM79 217h2v1h-2zM108 217h2v1h-2zM164 217h2v1h-2zM193 217h2v1h-2zM249 217h2v1h-2zM278 217h2v1h-2zM334 217h3v1h-3zM363 217h2v1h-2zM419 217h3v1h-3zM448 217h2v1h-2zM505 217h2v1h-2zM533 217h2v1h-2zM79 218h2v1h-2zM107 218h3v1h-3zM164 218h2v1h-2zM193 218h2v1h-2zM249 218h3v1h-3zM278 218h2v1h-2zM335 218h2v1h-2zM363 218h2v1h-2zM420 218h2v1h-2zM448 218h2v1h-2zM505 218h2v1h-2zM533 218h2v1h-2zM79 219h2v1h-2zM107 219h2v1h-2zM164 219h3v1h-3zM192 219h3v1h-3zM250 219h2v1h-2zM278 219h2v1h-2zM335 219h2v1h-2zM363 219h2v1h-2zM420 219h2v1h-2zM448 219h2v1h-2zM505 219h2v1h-2zM533 219h2v1h-2zM80 220h2v1h-2zM107 220h2v1h-2zM165 220h2v1h-2zM192 220h2v1h-2zM250 220h2v1h-2zM277 220h3v1h-3zM335 220h2v1h-2zM362 220h3v1h-3zM420 220h2v1h-2zM448 220h2v1h-2zM505 220h2v1h-2zM533 220h2v1h-2zM80 221h2v1h-2zM107 221h2v1h-2zM165 221h2v1h-2zM192 221h2v1h-2zM250 221h2v1h-2zM277 221h2v1h-2zM335 221h2v1h-2zM362 221h2v1h-2zM420 221h2v1h-2zM447 221h3v1h-3zM505 221h2v1h-2zM533 221h2v1h-2zM80 222h2v1h-2zM107 222h2v1h-2zM165 222h2v1h-2zM192 222h2v1h-2zM250 222h2v1h-2zM277 222h2v1h-2zM335 222h2v1h-2zM362 222h2v1h-2zM420 222h2v1h-2zM447 222h2v1h-2zM505 222h2v1h-2zM532 222h3v1h-3zM80 223h2v1h-2zM107 223h2v1h-2zM165 223h2v1h-2zM192 223h2v1h-2zM250 223h2v1h-2zM277 223h2v1h-2zM335 223h2v1h-2zM362 223h2v1h-2zM420 223h3v1h-3zM447 223h2v1h-2zM505 223h3v1h-3zM532 223h2v1h-2zM80 224h2v1h-2zM107 224h2v1h-2zM165 224h2v1h-2zM192 224h2v1h-2zM250 224h2v1h-2zM277 224h2v1h-2zM335 224h3v1h-3zM362 224h2v1h-2zM421 224h2v1h-2zM447 224h2v1h-2zM506 224h2v1h-2zM532 224h2v1h-2zM80 225h2v1h-2zM106 225h3v1h-3zM165 225h2v1h-2zM192 225h2v1h-2zM250 225h3v1h-3zM277 225h2v1h-2zM336 225h2v1h-2zM362 225h2v1h-2zM421 225h2v1h-2zM447 225h2v1h-2zM506 225h2v1h-2zM532 225h2v1h-2zM80 226h3v1h-3zM106 226h2v1h-2zM165 226h3v1h-3zM191 226h3v1h-3zM251 226h2v1h-2zM277 226h2v1h-2zM336 226h2v1h-2zM362 226h2v1h-2zM421 226h2v1h-2zM447 226h2v1h-2zM506 226h2v1h-2zM532 226h2v1h-2zM81 227h2v1h-2zM106 227h2v1h-2zM166 227h2v1h-2zM191 227h2v1h-2zM251 227h2v1h-2zM276 227h2v1h-2zM336 227h2v1h-2zM361 227h3v1h-3zM421 227h2v1h-2zM447 227h2v1h-2zM506 227h2v1h-2zM532 227h2v1h-2zM81 228h2v1h-2zM106 228h2v1h-2zM166 228h2v1h-2zM191 228h2v1h-2zM251 228h2v1h-2zM276 228h2v1h-2zM336 228h2v1h-2zM361 228h2v1h-2zM421 228h2v1h-2zM446 228h3v1h-3zM506 228h2v1h-2zM532 228h2v1h-2zM81 229h2v1h-2zM106 229h2v1h-2zM166 229h2v1h-2zM191 229h2v1h-2zM251 229h2v1h-2zM276 229h2v1h-2zM336 229h2v1h-2zM361 229h2v1h-2zM421 229h2v1h-2zM446 229h2v1h-2zM506 229h2v1h-2zM531 229h3v1h-3zM81 230h2v1h-2zM106 230h2v1h-2zM166 230h2v1h-2zM191 230h2v1h-2zM251 230h2v1h-2zM276 230h2v1h-2zM336 230h2v1h-2zM361 230h2v1h-2zM421 230h3v1h-3zM446 230h2v1h-2zM506 230h3v1h-3zM531 230h2v1h-2zM81 231h2v1h-2zM106 231h2v1h-2zM166 231h2v1h-2zM191 231h2v1h-2zM251 231h2v1h-2zM276 231h2v1h-2zM336 231h3v1h-3zM361 231h2v1h-2zM422 231h2v1h-2zM446 231h2v1h-2zM507 231h2v1h-2zM531 231h2v1h-2zM81 232h2v1h-2zM105 232h3v1h-3zM166 232h2v1h-2zM191 232h2v1h-2zM251 232h3v1h-3zM276 232h2v1h-2zM337 232h2v1h-2zM361 232h2v1h-2zM422 232h2v1h-2zM446 232h2v1h-2zM507 232h2v1h-2zM531 232h2v1h-2zM81 233h2v1h-2zM105 233h2v1h-2zM166 233h3v1h-3zM190 233h3v1h-3zM252 233h2v1h-2zM276 233h2v1h-2zM337 233h2v1h-2zM361 233h2v1h-2zM422 233h2v1h-2zM446 233h2v1h-2zM507 233h2v1h-2zM531 233h2v1h-2zM81 234h3v1h-3zM105 234h2v1h-2zM167 234h2v1h-2zM190 234h2v1h-2zM252 234h2v1h-2zM275 234h3v1h-3zM337 234h2v1h-2zM361 234h2v1h-2zM422 234h2v1h-2zM446 234h2v1h-2zM507 234h2v1h-2zM531 234h2v1h-2zM82 235h2v1h-2zM105 235h2v1h-2zM167 235h2v1h-2zM190 235h2v1h-2zM252 235h2v1h-2zM275 235h2v1h-2zM337 235h2v1h-2zM360 235h3v1h-3zM422 235h2v1h-2zM445 235h3v1h-3zM507 235h2v1h-2zM531 235h2v1h-2zM82 236h2v1h-2zM105 236h2v1h-2zM167 236h2v1h-2zM190 236h2v1h-2zM252 236h2v1h-2zM275 236h2v1h-2zM337 236h2v1h-2zM360 236h2v1h-2zM422 236h2v1h-2zM445 236h2v1h-2zM507 236h2v1h-2zM530 236h3v1h-3zM82 237h2v1h-2zM105 237h2v1h-2zM167 237h2v1h-2zM190 237h2v1h-2zM252 237h2v1h-2zM275 237h2v1h-2zM337 237h2v1h-2zM360 237h2v1h-2zM422 237h2v1h-2zM445 237h2v1h-2zM507 237h3v1h-3zM530 237h2v1h-2zM82 238h2v1h-2zM105 238h2v1h-2zM167 238h2v1h-2zM190 238h2v1h-2zM252 238h2v1h-2zM275 238h2v1h-2zM337 238h2v1h-2zM360 238h2v1h-2zM422 238h3v1h-3zM445 238h2v1h-2zM508 238h2v1h-2zM530 238h2v1h-2zM82 239h2v1h-2zM105 239h2v1h-2zM167 239h2v1h-2zM190 239h2v1h-2zM252 239h2v1h-2zM275 239h2v1h-2zM337 239h3v1h-3zM360 239h2v1h-2zM423 239h2v1h-2zM445 239h2v1h-2zM508 239h2v1h-2zM530 239h2v1h-2zM82 240h2v1h-2zM104 240h3v1h-3zM167 240h3v1h-3zM189 240h3v1h-3zM253 240h2v1h-2zM275 240h2v1h-2zM338 240h2v1h-2zM360 240h2v1h-2zM423 240h2v1h-2zM445 240h2v1h-2zM508 240h2v1h-2zM530 240h2v1h-2zM82 241h3v1h-3zM104 241h2v1h-2zM168 241h2v1h-2zM189 241h2v1h-2zM253 241h2v1h-2zM274 241h3v1h-3zM338 241h2v1h-2zM360 241h2v1h-2zM423 241h2v1h-2zM445 241h2v1h-2zM508 241h2v1h-2zM530 241h2v1h-2zM83 242h2v1h-2zM104 242h2v1h-2zM168 242h2v1h-2zM189 242h2v1h-2zM253 242h2v1h-2zM274 242h2v1h-2zM338 242h2v1h-2zM359 242h3v1h-3zM423 242h2v1h-2zM445 242h2v1h-2zM508 242h2v1h-2zM530 242h2v1h-2zM83 243h2v1h-2zM104 243h2v1h-2zM168 243h2v1h-2zM189 243h2v1h-2zM253 243h2v1h-2zM274 243h2v1h-2zM338 243h2v1h-2zM359 243h2v1h-2zM423 243h2v1h-2zM444 243h3v1h-3zM508 243h2v1h-2zM530 243h2v1h-2zM83 244h2v1h-2zM104 244h2v1h-2zM168 244h2v1h-2zM189 244h2v1h-2zM253 244h2v1h-2zM274 244h2v1h-2zM338 244h2v1h-2zM359 244h2v1h-2zM423 244h2v1h-2zM444 244h2v1h-2zM508 244h2v1h-2zM529 244h3v1h-3zM83 245h2v1h-2zM104 245h2v1h-2zM168 245h2v1h-2zM189 245h2v1h-2zM253 245h2v1h-2zM274 245h2v1h-2zM338 245h2v1h-2zM359 245h2v1h-2zM423 245h3v1h-3zM444 245h2v1h-2zM508 245h3v1h-3zM529 245h2v1h-2zM83 246h2v1h-2zM104 246h2v1h-2zM168 246h2v1h-2zM189 246h2v1h-2zM253 246h2v1h-2zM274 246h2v1h-2zM338 246h3v1h-3zM359 246h2v1h-2zM424 246h2v1h-2zM444 246h2v1h-2zM509 246h2v1h-2zM529 246h2v1h-2zM83 247h2v1h-2zM103 247h3v1h-3zM168 247h2v1h-2zM189 247h2v1h-2zM253 247h3v1h-3zM274 247h2v1h-2zM339 247h2v1h-2zM359 247h2v1h-2zM424 247h2v1h-2zM444 247h2v1h-2zM509 247h2v1h-2zM529 247h2v1h-2zM83 248h2v1h-2zM103 248h2v1h-2zM168 248h3v1h-3zM188 248h3v1h-3zM254 248h2v1h-2zM274 248h2v1h-2zM339 248h2v1h-2zM359 248h2v1h-2zM424 248h2v1h-2zM444 248h2v1h-2zM509 248h2v1h-2zM529 248h2v1h-2zM83 249h3v1h-3zM103 249h2v1h-2zM169 249h2v1h-2zM188 249h2v1h-2zM254 249h2v1h-2zM273 249h3v1h-3zM339 249h2v1h-2zM359 249h2v1h-2zM424 249h2v1h-2zM444 249h2v1h-2zM509 249h2v1h-2zM529 249h2v1h-2zM84 250h2v1h-2zM103 250h2v1h-2zM169 250h2v1h-2zM188 250h2v1h-2zM254 250h2v1h-2zM273 250h2v1h-2zM339 250h2v1h-2zM358 250h3v1h-3zM424 250h2v1h-2zM444 250h2v1h-2zM509 250h2v1h-2zM529 250h2v1h-2zM84 251h2v1h-2zM103 251h2v1h-2zM169 251h2v1h-2zM188 251h2v1h-2zM254 251h2v1h-2zM273 251h2v1h-2zM339 251h2v1h-2zM358 251h2v1h-2zM424 251h2v1h-2zM443 251h3v1h-3zM509 251h2v1h-2zM529 251h2v1h-2zM84 252h2v1h-2zM103 252h2v1h-2zM169 252h2v1h-2zM188 252h2v1h-2zM254 252h2v1h-2zM273 252h2v1h-2zM339 252h2v1h-2zM358 252h2v1h-2zM424 252h2v1h-2zM443 252h2v1h-2zM509 252h3v1h-3zM528 252h2v1h-2zM84 253h2v1h-2zM103 253h2v1h-2zM169 253h2v1h-2zM188 253h2v1h-2zM254 253h2v1h-2zM273 253h2v1h-2zM339 253h2v1h-2zM358 253h2v1h-2zM424 253h3v1h-3zM443 253h2v1h-2zM510 253h2v1h-2zM528 253h2v1h-2zM84 254h2v1h-2zM103 254h2v1h-2zM169 254h2v1h-2zM188 254h2v1h-2zM254 254h2v1h-2zM273 254h2v1h-2zM339 254h3v1h-3zM358 254h2v1h-2zM425 254h2v1h-2zM443 254h2v1h-2zM510 254h2v1h-2zM528 254h2v1h-2zM84 255h2v1h-2zM102 255h3v1h-3zM169 255h2v1h-2zM188 255h2v1h-2zM254 255h3v1h-3zM273 255h2v1h-2zM340 255h2v1h-2zM358 255h2v1h-2zM425 255h2v1h-2zM443 255h2v1h-2zM510 255h2v1h-2zM528 255h2v1h-2zM84 256h2v1h-2zM102 256h2v1h-2zM169 256h3v1h-3zM187 256h3v1h-3zM255 256h2v1h-2zM273 256h2v1h-2zM340 256h2v1h-2zM358 256h2v1h-2zM425 256h2v1h-2zM443 256h2v1h-2zM510 256h2v1h-2zM528 256h2v1h-2zM84 257h3v1h-3zM102 257h2v1h-2zM170 257h2v1h-2zM187 257h2v1h-2zM255 257h2v1h-2zM272 257h3v1h-3zM340 257h2v1h-2zM358 257h2v1h-2zM425 257h2v1h-2zM443 257h2v1h-2zM510 257h2v1h-2zM528 257h2v1h-2zM85 258h2v1h-2zM102 258h2v1h-2zM170 258h2v1h-2zM187 258h2v1h-2zM255 258h2v1h-2zM272 258h2v1h-2zM340 258h2v1h-2zM357 258h3v1h-3zM425 258h2v1h-2zM443 258h2v1h-2zM510 258h2v1h-2zM528 258h2v1h-2zM85 259h2v1h-2zM102 259h2v1h-2zM170 259h2v1h-2zM187 259h2v1h-2zM255 259h2v1h-2zM272 259h2v1h-2zM340 259h2v1h-2zM357 259h2v1h-2zM425 259h2v1h-2zM442 259h3v1h-3zM510 259h2v1h-2zM527 259h3v1h-3zM85 260h2v1h-2zM102 260h2v1h-2zM170 260h2v1h-2zM187 260h2v1h-2zM255 260h2v1h-2zM272 260h2v1h-2zM340 260h2v1h-2zM357 260h2v1h-2zM425 260h2v1h-2zM442 260h2v1h-2zM510 260h3v1h-3zM527 260h2v1h-2zM85 261h2v1h-2zM102 261h2v1h-2zM170 261h2v1h-2zM187 261h2v1h-2zM255 261h2v1h-2zM272 261h2v1h-2zM340 261h2v1h-2zM357 261h2v1h-2zM425 261h3v1h-3zM442 261h2v1h-2zM511 261h2v1h-2zM527 261h2v1h-2zM85 262h2v1h-2zM102 262h2v1h-2zM170 262h2v1h-2zM187 262h2v1h-2zM255 262h2v1h-2zM272 262h2v1h-2zM340 262h3v1h-3zM357 262h2v1h-2zM426 262h2v1h-2zM442 262h2v1h-2zM511 262h2v1h-2zM527 262h2v1h-2zM85 263h2v1h-2zM101 263h3v1h-3zM170 263h2v1h-2zM187 263h2v1h-2zM255 263h3v1h-3zM272 263h2v1h-2zM341 263h2v1h-2zM357 263h2v1h-2zM426 263h2v1h-2zM442 263h2v1h-2zM511 263h2v1h-2zM527 263h2v1h-2zM85 264h2v1h-2zM101 264h2v1h-2zM170 264h3v1h-3zM186 264h3v1h-3zM256 264h2v1h-2zM272 264h2v1h-2zM341 264h2v1h-2zM357 264h2v1h-2zM426 264h2v1h-2zM442 264h2v1h-2zM511 264h2v1h-2zM527 264h2v1h-2zM85 265h3v1h-3zM101 265h2v1h-2zM171 265h2v1h-2zM186 265h2v1h-2zM256 265h2v1h-2zM271 265h3v1h-3zM341 265h2v1h-2zM357 265h2v1h-2zM426 265h2v1h-2zM442 265h2v1h-2zM511 265h2v1h-2zM527 265h2v1h-2zM86 266h2v1h-2zM101 266h2v1h-2zM171 266h2v1h-2zM186 266h2v1h-2zM256 266h2v1h-2zM271 266h2v1h-2zM341 266h2v1h-2zM356 266h3v1h-3zM426 266h2v1h-2zM442 266h2v1h-2zM511 266h2v1h-2zM527 266h2v1h-2zM86 267h2v1h-2zM101 267h2v1h-2zM171 267h2v1h-2zM186 267h2v1h-2zM256 267h2v1h-2zM271 267h2v1h-2zM341 267h2v1h-2zM356 267h2v1h-2zM426 267h2v1h-2zM441 267h3v1h-3zM511 267h2v1h-2zM527 267h2v1h-2zM86 268h2v1h-2zM101 268h2v1h-2zM171 268h2v1h-2zM186 268h2v1h-2zM256 268h2v1h-2zM271 268h2v1h-2zM341 268h2v1h-2zM356 268h2v1h-2zM426 268h2v1h-2zM441 268h2v1h-2zM511 268h3v1h-3zM526 268h2v1h-2zM86 269h2v1h-2zM101 269h2v1h-2zM171 269h2v1h-2zM186 269h2v1h-2zM256 269h2v1h-2zM271 269h2v1h-2zM341 269h2v1h-2zM356 269h2v1h-2zM426 269h3v1h-3zM441 269h2v1h-2zM512 269h2v1h-2zM526 269h2v1h-2zM86 270h2v1h-2zM101 270h2v1h-2zM171 270h2v1h-2zM186 270h2v1h-2zM256 270h2v1h-2zM271 270h2v1h-2zM341 270h3v1h-3zM356 270h2v1h-2zM427 270h2v1h-2zM441 270h2v1h-2zM512 270h2v1h-2zM526 270h2v1h-2zM86 271h2v1h-2zM100 271h3v1h-3zM171 271h2v1h-2zM186 271h2v1h-2zM256 271h3v1h-3zM271 271h2v1h-2zM342 271h2v1h-2zM356 271h2v1h-2zM427 271h2v1h-2zM441 271h2v1h-2zM512 271h2v1h-2zM526 271h2v1h-2zM86 272h2v1h-2zM100 272h2v1h-2zM171 272h3v1h-3zM185 272h3v1h-3zM257 272h2v1h-2zM271 272h2v1h-2zM342 272h2v1h-2zM356 272h2v1h-2zM427 272h2v1h-2zM441 272h2v1h-2zM512 272h2v1h-2zM526 272h2v1h-2zM86 273h3v1h-3zM100 273h2v1h-2zM172 273h2v1h-2zM185 273h2v1h-2zM257 273h2v1h-2zM270 273h3v1h-3zM342 273h2v1h-2zM356 273h2v1h-2zM427 273h2v1h-2zM441 273h2v1h-2zM512 273h2v1h-2zM526 273h2v1h-2zM87 274h2v1h-2zM100 274h2v1h-2zM172 274h2v1h-2zM185 274h2v1h-2zM257 274h2v1h-2zM270 274h2v1h-2zM342 274h2v1h-2zM355 274h3v1h-3zM427 274h2v1h-2zM441 274h2v1h-2zM512 274h2v1h-2zM526 274h2v1h-2zM87 275h2v1h-2zM100 275h2v1h-2zM172 275h2v1h-2zM185 275h2v1h-2zM257 275h2v1h-2zM270 275h2v1h-2zM342 275h2v1h-2zM355 275h2v1h-2zM427 275h2v1h-2zM440 275h3v1h-3zM512 275h2v1h-2zM526 275h2v1h-2zM87 276h2v1h-2zM100 276h2v1h-2zM172 276h2v1h-2zM185 276h2v1h-2zM257 276h2v1h-2zM270 276h2v1h-2zM342 276h2v1h-2zM355 276h2v1h-2zM427 276h2v1h-2zM440 276h2v1h-2zM512 276h2v1h-2zM525 276h3v1h-3zM87 277h2v1h-2zM100 277h2v1h-2zM172 277h2v1h-2zM185 277h2v1h-2zM257 277h2v1h-2zM270 277h2v1h-2zM342 277h2v1h-2zM355 277h2v1h-2zM427 277h3v1h-3zM440 277h2v1h-2zM513 277h2v1h-2zM525 277h2v1h-2zM87 278h2v1h-2zM100 278h2v1h-2zM172 278h2v1h-2zM185 278h2v1h-2zM257 278h2v1h-2zM270 278h2v1h-2zM342 278h3v1h-3zM355 278h2v1h-2zM428 278h2v1h-2zM440 278h2v1h-2zM513 278h2v1h-2zM525 278h2v1h-2zM87 279h2v1h-2zM99 279h3v1h-3zM172 279h2v1h-2zM185 279h2v1h-2zM257 279h3v1h-3zM270 279h2v1h-2zM343 279h2v1h-2zM355 279h2v1h-2zM428 279h2v1h-2zM440 279h2v1h-2zM513 279h2v1h-2zM525 279h2v1h-2zM87 280h2v1h-2zM99 280h2v1h-2zM172 280h3v1h-3zM184 280h3v1h-3zM258 280h2v1h-2zM270 280h2v1h-2zM343 280h2v1h-2zM355 280h2v1h-2zM428 280h2v1h-2zM440 280h2v1h-2zM513 280h2v1h-2zM525 280h2v1h-2zM87 281h3v1h-3zM99 281h2v1h-2zM173 281h2v1h-2zM184 281h2v1h-2zM258 281h2v1h-2zM269 281h3v1h-3zM343 281h2v1h-2zM355 281h2v1h-2zM428 281h2v1h-2zM440 281h2v1h-2zM513 281h2v1h-2zM525 281h2v1h-2zM88 282h2v1h-2zM99 282h2v1h-2zM173 282h2v1h-2zM184 282h2v1h-2zM258 282h2v1h-2zM269 282h2v1h-2zM343 282h2v1h-2zM354 282h3v1h-3zM428 282h2v1h-2zM440 282h2v1h-2zM513 282h2v1h-2zM525 282h2v1h-2zM88 283h2v1h-2zM99 283h2v1h-2zM173 283h2v1h-2zM184 283h2v1h-2zM258 283h2v1h-2zM269 283h2v1h-2zM343 283h2v1h-2zM354 283h2v1h-2zM428 283h2v1h-2zM439 283h3v1h-3zM513 283h2v1h-2zM525 283h2v1h-2zM88 284h2v1h-2zM99 284h2v1h-2zM173 284h2v1h-2zM184 284h2v1h-2zM258 284h2v1h-2zM269 284h2v1h-2zM343 284h2v1h-2zM354 284h2v1h-2zM428 284h2v1h-2zM439 284h2v1h-2zM513 284h2v1h-2zM524 284h3v1h-3zM88 285h2v1h-2zM99 285h2v1h-2zM173 285h2v1h-2zM184 285h2v1h-2zM258 285h2v1h-2zM269 285h2v1h-2zM343 285h2v1h-2zM354 285h2v1h-2zM428 285h3v1h-3zM439 285h2v1h-2zM513 285h3v1h-3zM524 285h2v1h-2zM88 286h2v1h-2zM99 286h2v1h-2zM173 286h2v1h-2zM184 286h2v1h-2zM258 286h2v1h-2zM269 286h2v1h-2zM343 286h3v1h-3zM354 286h2v1h-2zM429 286h2v1h-2zM439 286h2v1h-2zM514 286h2v1h-2zM524 286h2v1h-2zM88 287h2v1h-2zM98 287h3v1h-3zM173 287h2v1h-2zM184 287h2v1h-2zM258 287h3v1h-3zM269 287h2v1h-2zM344 287h2v1h-2zM354 287h2v1h-2zM429 287h2v1h-2zM439 287h2v1h-2zM514 287h2v1h-2zM524 287h2v1h-2zM88 288h2v1h-2zM98 288h2v1h-2zM173 288h3v1h-3zM183 288h3v1h-3zM259 288h2v1h-2zM269 288h2v1h-2zM344 288h2v1h-2zM354 288h2v1h-2zM429 288h2v1h-2zM439 288h2v1h-2zM514 288h2v1h-2zM524 288h2v1h-2zM88 289h3v1h-3zM98 289h2v1h-2zM174 289h2v1h-2zM183 289h2v1h-2zM259 289h2v1h-2zM268 289h3v1h-3zM344 289h2v1h-2zM354 289h2v1h-2zM429 289h2v1h-2zM439 289h2v1h-2zM514 289h2v1h-2zM524 289h2v1h-2zM89 290h2v1h-2zM98 290h2v1h-2zM174 290h2v1h-2zM183 290h2v1h-2zM259 290h2v1h-2zM268 290h2v1h-2zM344 290h2v1h-2zM353 290h3v1h-3zM429 290h2v1h-2zM439 290h2v1h-2zM514 290h2v1h-2zM524 290h2v1h-2zM89 291h2v1h-2zM98 291h2v1h-2zM174 291h2v1h-2zM183 291h2v1h-2zM259 291h2v1h-2zM268 291h2v1h-2zM344 291h2v1h-2zM353 291h2v1h-2zM429 291h2v1h-2zM438 291h3v1h-3zM514 291h2v1h-2zM524 291h2v1h-2zM89 292h2v1h-2zM98 292h2v1h-2zM174 292h2v1h-2zM183 292h2v1h-2zM259 292h2v1h-2zM268 292h2v1h-2zM344 292h2v1h-2zM353 292h2v1h-2zM429 292h2v1h-2zM438 292h2v1h-2zM514 292h3v1h-3zM523 292h2v1h-2zM89 293h2v1h-2zM98 293h2v1h-2zM174 293h2v1h-2zM183 293h2v1h-2zM259 293h2v1h-2zM268 293h2v1h-2zM344 293h2v1h-2zM353 293h2v1h-2zM429 293h3v1h-3zM438 293h2v1h-2zM515 293h2v1h-2zM523 293h2v1h-2zM89 294h2v1h-2zM98 294h2v1h-2zM174 294h2v1h-2zM183 294h2v1h-2zM259 294h2v1h-2zM268 294h2v1h-2zM344 294h3v1h-3zM353 294h2v1h-2zM430 294h2v1h-2zM438 294h2v1h-2zM515 294h2v1h-2zM523 294h2v1h-2zM89 295h2v1h-2zM97 295h3v1h-3zM174 295h2v1h-2zM183 295h2v1h-2zM259 295h3v1h-3zM268 295h2v1h-2zM345 295h2v1h-2zM353 295h2v1h-2zM430 295h2v1h-2zM438 295h2v1h-2zM515 295h2v1h-2zM523 295h2v1h-2zM89 296h3v1h-3zM97 296h2v1h-2zM174 296h3v1h-3zM182 296h3v1h-3zM260 296h2v1h-2zM267 296h3v1h-3zM345 296h2v1h-2zM353 296h2v1h-2zM430 296h2v1h-2zM438 296h2v1h-2zM515 296h2v1h-2zM523 296h2v1h-2zM90 297h2v1h-2zM97 297h2v1h-2zM175 297h2v1h-2zM182 297h2v1h-2zM260 297h2v1h-2zM267 297h2v1h-2zM345 297h2v1h-2zM352 297h3v1h-3zM430 297h2v1h-2zM438 297h2v1h-2zM515 297h2v1h-2zM523 297h2v1h-2zM90 298h2v1h-2zM97 298h2v1h-2zM175 298h2v1h-2zM182 298h2v1h-2zM260 298h2v1h-2zM267 298h2v1h-2zM345 298h2v1h-2zM352 298h2v1h-2zM430 298h2v1h-2zM437 298h3v1h-3zM515 298h2v1h-2zM523 298h2v1h-2zM90 299h2v1h-2zM97 299h2v1h-2zM175 299h2v1h-2zM182 299h2v1h-2zM260 299h2v1h-2zM267 299h2v1h-2zM345 299h2v1h-2zM352 299h2v1h-2zM430 299h2v1h-2zM437 299h2v1h-2zM515 299h2v1h-2zM522 299h3v1h-3zM90 300h2v1h-2zM97 300h2v1h-2zM175 300h2v1h-2zM182 300h2v1h-2zM260 300h2v1h-2zM267 300h2v1h-2zM345 300h2v1h-2zM352 300h2v1h-2zM430 300h3v1h-3zM437 300h2v1h-2zM516 300h2v1h-2zM522 300h2v1h-2zM90 301h2v1h-2zM97 301h2v1h-2zM175 301h2v1h-2zM182 301h2v1h-2zM260 301h2v1h-2zM267 301h2v1h-2zM345 301h3v1h-3zM352 301h2v1h-2zM431 301h2v1h-2zM437 301h2v1h-2zM516 301h2v1h-2zM522 301h2v1h-2zM90 302h2v1h-2zM96 302h3v1h-3zM175 302h3v1h-3zM182 302h2v1h-2zM260 302h3v1h-3zM267 302h2v1h-2zM346 302h2v1h-2zM352 302h2v1h-2zM431 302h2v1h-2zM437 302h2v1h-2zM516 302h2v1h-2zM522 302h2v1h-2zM90 303h3v1h-3zM96 303h2v1h-2zM176 303h2v1h-2zM181 303h2v1h-2zM261 303h2v1h-2zM266 303h3v1h-3zM346 303h2v1h-2zM352 303h2v1h-2zM431 303h2v1h-2zM437 303h2v1h-2zM516 303h2v1h-2zM522 303h2v1h-2zM91 304h2v1h-2zM96 304h2v1h-2zM176 304h2v1h-2zM181 304h2v1h-2zM261 304h2v1h-2zM266 304h2v1h-2zM346 304h2v1h-2zM351 304h3v1h-3zM431 304h2v1h-2zM437 304h2v1h-2zM516 304h2v1h-2zM522 304h2v1h-2zM91 305h2v1h-2zM96 305h2v1h-2zM176 305h2v1h-2zM181 305h2v1h-2zM261 305h2v1h-2zM266 305h2v1h-2zM346 305h2v1h-2zM351 305h2v1h-2zM431 305h2v1h-2zM436 305h3v1h-3zM516 305h2v1h-2zM521 305h3v1h-3zM91 306h2v1h-2zM96 306h2v1h-2zM176 306h2v1h-2zM181 306h2v1h-2zM261 306h2v1h-2zM266 306h2v1h-2zM346 306h2v1h-2zM351 306h2v1h-2zM431 306h3v1h-3zM436 306h2v1h-2zM516 306h3v1h-3zM521 306h2v1h-2zM91 307h2v1h-2zM96 307h2v1h-2zM176 307h2v1h-2zM181 307h2v1h-2zM261 307h2v1h-2zM266 307h2v1h-2zM346 307h3v1h-3zM351 307h2v1h-2zM432 307h2v1h-2zM436 307h2v1h-2zM517 307h2v1h-2zM521 307h2v1h-2zM91 308h2v1h-2zM95 308h3v1h-3zM176 308h3v1h-3zM180 308h3v1h-3zM261 308h3v1h-3zM266 308h2v1h-2zM347 308h2v1h-2zM351 308h2v1h-2zM432 308h2v1h-2zM436 308h2v1h-2zM517 308h2v1h-2zM521 308h2v1h-2zM91 309h3v1h-3zM95 309h2v1h-2zM177 309h2v1h-2zM180 309h2v1h-2zM262 309h2v1h-2zM265 309h3v1h-3zM347 309h2v1h-2zM350 309h3v1h-3zM432 309h2v1h-2zM436 309h2v1h-2zM517 309h2v1h-2zM521 309h2v1h-2zM92 310h2v1h-2zM95 310h2v1h-2zM177 310h2v1h-2zM180 310h2v1h-2zM262 310h2v1h-2zM265 310h2v1h-2zM347 310h2v1h-2zM350 310h2v1h-2zM432 310h2v1h-2zM435 310h3v1h-3zM517 310h2v1h-2zM520 310h3v1h-3zM92 311h2v1h-2zM95 311h2v1h-2zM177 311h2v1h-2zM180 311h2v1h-2zM262 311h2v1h-2zM265 311h2v1h-2zM347 311h2v1h-2zM350 311h2v1h-2zM432 311h5v1h-5zM517 311h5v1h-5zM92 312h5v1h-5zM177 312h5v1h-5zM262 312h5v1h-5zM347 312h5v1h-5zM433 312h4v1h-4zM518 312h4v1h-4zM92 313h4v1h-4zM178 313h3v1h-3zM263 313h4v1h-4zM348 313h4v1h-4zM433 313h4v1h-4zM518 313h4v1h-4zM93 314h3v1h-3zM178 314h3v1h-3zM263 314h3v1h-3zM348 314h3v1h-3zM433 314h3v1h-3zM518 314h4v1h-4zM93 315h3v1h-3zM178 315h3v1h-3zM263 315h3v1h-3zM349 315h2v1h-2zM434 315h2v1h-2zM519 315h2v1h-2zM93 316h2v1h-2zM179 316h1v1h-1zM264 316h2v1h-2zM349 316h2v1h-2zM434 316h2v1h-2zM519 316h2v1h-2z" fill="#00006c" shape-rendering="crispEdges"/>
<rect x="46" y="399" width="2" height="1" fill="#00006c" shape-rendering="crispEdges"/>
<path d="M226.5 480.5L233.5 465.5M236.5 480.5L244.5 465.5M349.5 480.5L357.5 465.5M423.5 480.5L431.5 465.5" stroke="#000" stroke-width="1.1" fill="none" shape-rendering="crispEdges"/>
<g font-family="Liberation Sans, sans-serif" style="will-change:transform"><text x="178.00" y="20" font-size="17" font-weight="400" fill="#000" stroke="#000" stroke-width="0.35" textLength="20.80" lengthAdjust="spacingAndGlyphs">IKI</text><text x="200.75" y="20" font-size="17" font-weight="400" fill="#000" stroke="#000" stroke-width="0.35" textLength="7.09" lengthAdjust="spacingAndGlyphs">-</text><text x="211.95" y="20" font-size="17" font-weight="400" fill="#000" stroke="#000" stroke-width="0.35" textLength="63.56" lengthAdjust="spacingAndGlyphs">Satellite</text><text x="280.94" y="20" font-size="17" font-weight="400" fill="#000" stroke="#000" stroke-width="0.35" textLength="70.31" lengthAdjust="spacingAndGlyphs">Situation</text><text x="355.94" y="20" font-size="17" font-weight="400" fill="#000" stroke="#000" stroke-width="0.35" textLength="54.09" lengthAdjust="spacingAndGlyphs">Center</text><text x="414.00" y="20" font-size="17" font-weight="400" fill="#000" stroke="#000" stroke-width="0.35" textLength="5.67" lengthAdjust="spacingAndGlyphs">(</text><text x="420.20" y="20" font-size="17" font-weight="400" fill="#000" stroke="#000" stroke-width="0.35" textLength="9.08" lengthAdjust="spacingAndGlyphs">S</text><text x="431.20" y="20" font-size="17" font-weight="400" fill="#000" stroke="#000" stroke-width="0.35" textLength="9.08" lengthAdjust="spacingAndGlyphs">S</text><text x="442.09" y="20" font-size="17" font-weight="400" fill="#000" stroke="#000" stroke-width="0.35" textLength="11.16" lengthAdjust="spacingAndGlyphs">C</text><text x="453.00" y="20" font-size="17" font-weight="400" fill="#000" stroke="#000" stroke-width="0.35" textLength="4.54" lengthAdjust="spacingAndGlyphs">)</text><text x="127.97" y="44" font-size="17" font-weight="400" fill="#ff0000" stroke="#ff0000" stroke-width="0.35" textLength="66.95" lengthAdjust="spacingAndGlyphs">IB_TAIL,</text><text x="199.01" y="44" font-size="17" font-weight="400" fill="#00ffff" stroke="#00ffff" stroke-width="0.35" textLength="120.87" lengthAdjust="spacingAndGlyphs">IB__AURORAL,</text><text x="325.02" y="44" font-size="17" font-weight="400" fill="#ff00ff" stroke="#ff00ff" stroke-width="0.35" textLength="61.32" lengthAdjust="spacingAndGlyphs">POLAR,</text><text x="390.99" y="44" font-size="17" font-weight="400" fill="#00006c" stroke="#00006c" stroke-width="0.35" textLength="73.46" lengthAdjust="spacingAndGlyphs">GEOTAIL</text><text x="39.94" y="130" font-size="15.5" font-weight="400" fill="#000" stroke="#fff" stroke-width="0.15" textLength="18.33" lengthAdjust="spacingAndGlyphs">32</text><text x="39.94" y="159" font-size="15.5" font-weight="400" fill="#000" stroke="#fff" stroke-width="0.15" textLength="18.33" lengthAdjust="spacingAndGlyphs">28</text><text x="39.94" y="195" font-size="15.5" font-weight="400" fill="#000" stroke="#fff" stroke-width="0.15" textLength="18.33" lengthAdjust="spacingAndGlyphs">24</text><text x="39.94" y="230" font-size="15.5" font-weight="400" fill="#000" stroke="#fff" stroke-width="0.15" textLength="18.33" lengthAdjust="spacingAndGlyphs">20</text><text x="39.94" y="266" font-size="15.5" font-weight="400" fill="#000" stroke="#fff" stroke-width="0.15" textLength="18.33" lengthAdjust="spacingAndGlyphs">16</text><text x="39.94" y="302" font-size="15.5" font-weight="400" fill="#000" stroke="#fff" stroke-width="0.15" textLength="18.33" lengthAdjust="spacingAndGlyphs">12</text><text x="48.86" y="338" font-size="15.5" font-weight="400" fill="#000" stroke="#fff" stroke-width="0.15" textLength="9.86" lengthAdjust="spacingAndGlyphs">8</text><text x="50.00" y="373" font-size="15.5" font-weight="400" fill="#000" stroke="#fff" stroke-width="0.15" textLength="8.62" lengthAdjust="spacingAndGlyphs">4</text><text x="48.86" y="400" font-size="15.5" font-weight="400" fill="#000" stroke="#fff" stroke-width="0.15" textLength="9.86" lengthAdjust="spacingAndGlyphs">0</text><text x="60.00" y="421" font-size="10" font-weight="400" fill="#000" textLength="5.56" lengthAdjust="spacingAndGlyphs">1</text><text x="78.00" y="421" font-size="10" font-weight="400" fill="#000" textLength="5.56" lengthAdjust="spacingAndGlyphs">2</text><text x="94.00" y="421" font-size="10" font-weight="400" fill="#000" textLength="5.56" lengthAdjust="spacingAndGlyphs">3</text><text x="110.00" y="421" font-size="10" font-weight="400" fill="#000" textLength="5.56" lengthAdjust="spacingAndGlyphs">4</text><text x="125.75" y="421" font-size="10" font-weight="400" fill="#000" textLength="6.95" lengthAdjust="spacingAndGlyphs">5</text><text x="143.00" y="421" font-size="10" font-weight="400" fill="#000" textLength="5.56" lengthAdjust="spacingAndGlyphs">6</text><text x="158.75" y="421" font-size="10" font-weight="400" fill="#000" textLength="6.95" lengthAdjust="spacingAndGlyphs">7</text><text x="176.00" y="421" font-size="10" font-weight="400" fill="#000" textLength="5.56" lengthAdjust="spacingAndGlyphs">8</text><text x="192.00" y="421" font-size="10" font-weight="400" fill="#000" textLength="5.56" lengthAdjust="spacingAndGlyphs">9</text><text x="203.70" y="421" font-size="10" font-weight="400" fill="#000" textLength="14.46" lengthAdjust="spacingAndGlyphs">10</text><text x="219.56" y="421" font-size="10" font-weight="400" fill="#000" textLength="15.01" lengthAdjust="spacingAndGlyphs">11</text><text x="236.70" y="421" font-size="10" font-weight="400" fill="#000" textLength="14.46" lengthAdjust="spacingAndGlyphs">12</text><text x="252.70" y="421" font-size="10" font-weight="400" fill="#000" textLength="14.46" lengthAdjust="spacingAndGlyphs">13</text><text x="268.70" y="421" font-size="10" font-weight="400" fill="#000" textLength="14.46" lengthAdjust="spacingAndGlyphs">14</text><text x="285.70" y="421" font-size="10" font-weight="400" fill="#000" textLength="14.46" lengthAdjust="spacingAndGlyphs">15</text><text x="301.70" y="421" font-size="10" font-weight="400" fill="#000" textLength="14.46" lengthAdjust="spacingAndGlyphs">16</text><text x="318.70" y="421" font-size="10" font-weight="400" fill="#000" textLength="14.46" lengthAdjust="spacingAndGlyphs">17</text><text x="334.70" y="421" font-size="10" font-weight="400" fill="#000" textLength="14.46" lengthAdjust="spacingAndGlyphs">18</text><text x="351.70" y="421" font-size="10" font-weight="400" fill="#000" textLength="14.46" lengthAdjust="spacingAndGlyphs">19</text><text x="369.00" y="421" font-size="10" font-weight="400" fill="#000" textLength="13.15" lengthAdjust="spacingAndGlyphs">20</text><text x="385.00" y="421" font-size="10" font-weight="400" fill="#000" textLength="13.15" lengthAdjust="spacingAndGlyphs">21</text><text x="402.00" y="421" font-size="10" font-weight="400" fill="#000" textLength="13.15" lengthAdjust="spacingAndGlyphs">22</text><text x="418.00" y="421" font-size="10" font-weight="400" fill="#000" textLength="13.15" lengthAdjust="spacingAndGlyphs">23</text><text x="435.00" y="421" font-size="10" font-weight="400" fill="#000" textLength="13.15" lengthAdjust="spacingAndGlyphs">24</text><text x="451.00" y="421" font-size="10" font-weight="400" fill="#000" textLength="13.15" lengthAdjust="spacingAndGlyphs">25</text><text x="467.00" y="421" font-size="10" font-weight="400" fill="#000" textLength="13.15" lengthAdjust="spacingAndGlyphs">26</text><text x="484.00" y="421" font-size="10" font-weight="400" fill="#000" textLength="13.15" lengthAdjust="spacingAndGlyphs">27</text><text x="500.00" y="421" font-size="10" font-weight="400" fill="#000" textLength="13.15" lengthAdjust="spacingAndGlyphs">28</text><text x="517.00" y="421" font-size="10" font-weight="400" fill="#000" textLength="13.15" lengthAdjust="spacingAndGlyphs">29</text><text x="533.00" y="421" font-size="10" font-weight="400" fill="#000" textLength="13.15" lengthAdjust="spacingAndGlyphs">30</text><text x="549.00" y="421" font-size="10" font-weight="400" fill="#000" textLength="13.15" lengthAdjust="spacingAndGlyphs">31</text><text x="257.95" y="462" font-size="17" font-weight="400" fill="#000" stroke="#000" stroke-width="0.5" textLength="63.56" lengthAdjust="spacingAndGlyphs">October</text><text x="343.06" y="462" font-size="17" font-weight="400" fill="#000" stroke="#000" stroke-width="0.5" textLength="35.73" lengthAdjust="spacingAndGlyphs">1998</text><text x="191.00" y="477" font-size="14" font-weight="400" fill="#000" stroke="#fff" stroke-width="0.15" textLength="34.25" lengthAdjust="spacing">http:</text><text x="246.00" y="477" font-size="14" font-weight="400" fill="#000" stroke="#fff" stroke-width="0.15" textLength="101.67" lengthAdjust="spacing">www.iki.rssi.ru</text><text x="358.00" y="477" font-size="14" font-weight="400" fill="#000" stroke="#fff" stroke-width="0.15" textLength="64.47" lengthAdjust="spacing">vprokhor</text><text x="432.00" y="477" font-size="14" font-weight="400" fill="#000" stroke="#fff" stroke-width="0.15" textLength="85.25" lengthAdjust="spacing">camp2.htm</text><text transform="translate(28 197.00) rotate(-90)" font-size="16" font-weight="400" fill="#000" stroke="#fff" stroke-width="0.15" textLength="32.11" lengthAdjust="spacing">(Re)</text><text transform="translate(28 267.00) rotate(-90)" font-size="16" font-weight="400" fill="#000" stroke="#fff" stroke-width="0.15" textLength="62.25" lengthAdjust="spacing">Distance</text><text transform="translate(28 353.00) rotate(-90)" font-size="16" font-weight="400" fill="#000" stroke="#fff" stroke-width="0.15" textLength="79.38" lengthAdjust="spacing">Geocentric</text></g>
</svg>
</body></html>
